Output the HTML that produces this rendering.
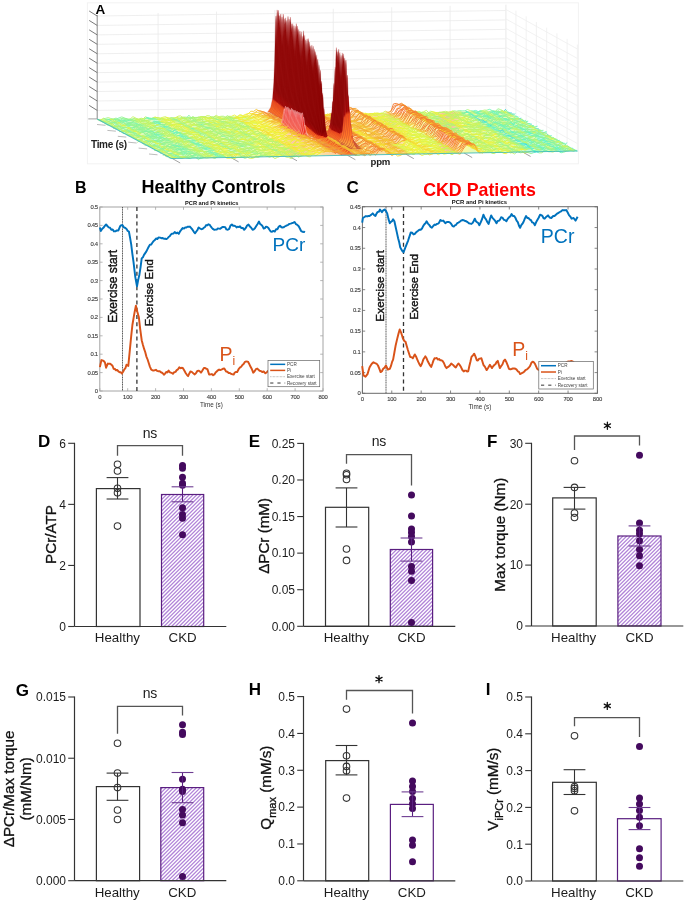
<!DOCTYPE html>
<html><head><meta charset="utf-8"><style>
html,body{margin:0;padding:0;background:#fff;}
svg{display:block;font-family:"Liberation Sans", sans-serif;will-change:transform;}
</style></head><body>
<svg width="685" height="901" viewBox="0 0 685 901">
<defs>
<pattern id="hatch" patternUnits="userSpaceOnUse" width="2.69" height="2.69" patternTransform="rotate(45)">
<rect width="2.69" height="2.69" fill="#ffffff"/>
<rect x="0" y="0" width="1.3" height="2.69" fill="#ac7cd4"/>
</pattern>
</defs>
<rect width="685" height="901" fill="#fff"/>
<rect x="87.4" y="2.8" width="491" height="161" fill="none" stroke="#f2f2f2" stroke-width="1"/>
<line x1="97.2" y1="16.00" x2="506" y2="10.50" stroke="#ebebeb" stroke-width="0.8"/>
<line x1="97.2" y1="25.44" x2="506" y2="19.95" stroke="#ebebeb" stroke-width="0.8"/>
<line x1="97.2" y1="34.88" x2="506" y2="29.40" stroke="#ebebeb" stroke-width="0.8"/>
<line x1="97.2" y1="44.32" x2="506" y2="38.85" stroke="#ebebeb" stroke-width="0.8"/>
<line x1="97.2" y1="53.76" x2="506" y2="48.30" stroke="#ebebeb" stroke-width="0.8"/>
<line x1="97.2" y1="63.20" x2="506" y2="57.75" stroke="#ebebeb" stroke-width="0.8"/>
<line x1="97.2" y1="72.64" x2="506" y2="67.20" stroke="#ebebeb" stroke-width="0.8"/>
<line x1="97.2" y1="82.08" x2="506" y2="76.65" stroke="#ebebeb" stroke-width="0.8"/>
<line x1="97.2" y1="91.52" x2="506" y2="86.10" stroke="#ebebeb" stroke-width="0.8"/>
<line x1="97.2" y1="100.96" x2="506" y2="95.55" stroke="#ebebeb" stroke-width="0.8"/>
<line x1="97.2" y1="110.40" x2="506" y2="105.00" stroke="#ebebeb" stroke-width="0.8"/>
<line x1="158.10" y1="13.01" x2="158.10" y2="117.63" stroke="#ebebeb" stroke-width="0.8"/>
<line x1="216.50" y1="11.58" x2="216.50" y2="116.42" stroke="#ebebeb" stroke-width="0.8"/>
<line x1="274.90" y1="10.15" x2="274.90" y2="115.20" stroke="#ebebeb" stroke-width="0.8"/>
<line x1="333.30" y1="8.72" x2="333.30" y2="113.99" stroke="#ebebeb" stroke-width="0.8"/>
<line x1="391.70" y1="7.28" x2="391.70" y2="112.77" stroke="#ebebeb" stroke-width="0.8"/>
<line x1="450.10" y1="5.85" x2="450.10" y2="111.56" stroke="#ebebeb" stroke-width="0.8"/>
<line x1="506.00" y1="4.48" x2="506.00" y2="110.40" stroke="#ebebeb" stroke-width="0.8"/>
<line x1="505.70" y1="5.00" x2="505.70" y2="110.40" stroke="#efefef" stroke-width="0.8"/>
<line x1="515.94" y1="10.65" x2="515.94" y2="116.22" stroke="#efefef" stroke-width="0.8"/>
<line x1="526.18" y1="16.30" x2="526.18" y2="122.03" stroke="#efefef" stroke-width="0.8"/>
<line x1="536.42" y1="21.96" x2="536.42" y2="127.85" stroke="#efefef" stroke-width="0.8"/>
<line x1="546.66" y1="27.61" x2="546.66" y2="133.67" stroke="#efefef" stroke-width="0.8"/>
<line x1="556.90" y1="33.26" x2="556.90" y2="139.48" stroke="#efefef" stroke-width="0.8"/>
<line x1="567.14" y1="38.91" x2="567.14" y2="145.30" stroke="#efefef" stroke-width="0.8"/>
<line x1="577.38" y1="44.57" x2="577.38" y2="151.11" stroke="#efefef" stroke-width="0.8"/>
<line x1="505.7" y1="9.40" x2="577.4" y2="49.00" stroke="#efefef" stroke-width="0.8"/>
<line x1="505.7" y1="18.85" x2="577.4" y2="58.45" stroke="#efefef" stroke-width="0.8"/>
<line x1="505.7" y1="28.30" x2="577.4" y2="67.90" stroke="#efefef" stroke-width="0.8"/>
<line x1="505.7" y1="37.75" x2="577.4" y2="77.35" stroke="#efefef" stroke-width="0.8"/>
<line x1="505.7" y1="47.20" x2="577.4" y2="86.80" stroke="#efefef" stroke-width="0.8"/>
<line x1="505.7" y1="56.65" x2="577.4" y2="96.25" stroke="#efefef" stroke-width="0.8"/>
<line x1="505.7" y1="66.10" x2="577.4" y2="105.70" stroke="#efefef" stroke-width="0.8"/>
<line x1="505.7" y1="75.55" x2="577.4" y2="115.15" stroke="#efefef" stroke-width="0.8"/>
<line x1="505.7" y1="85.00" x2="577.4" y2="124.60" stroke="#efefef" stroke-width="0.8"/>
<line x1="505.7" y1="94.45" x2="577.4" y2="134.05" stroke="#efefef" stroke-width="0.8"/>
<line x1="505.7" y1="103.90" x2="577.4" y2="143.50" stroke="#efefef" stroke-width="0.8"/>
<line x1="97.2" y1="15" x2="97.2" y2="118.9" stroke="#8a8a8a" stroke-width="1"/>
<line x1="89.2" y1="11.00" x2="97.2" y2="16.00" stroke="#6a6a6a" stroke-width="0.9"/>
<line x1="89.2" y1="20.44" x2="97.2" y2="25.44" stroke="#6a6a6a" stroke-width="0.9"/>
<line x1="89.2" y1="29.88" x2="97.2" y2="34.88" stroke="#6a6a6a" stroke-width="0.9"/>
<line x1="89.2" y1="39.32" x2="97.2" y2="44.32" stroke="#6a6a6a" stroke-width="0.9"/>
<line x1="89.2" y1="48.76" x2="97.2" y2="53.76" stroke="#6a6a6a" stroke-width="0.9"/>
<line x1="89.2" y1="58.20" x2="97.2" y2="63.20" stroke="#6a6a6a" stroke-width="0.9"/>
<line x1="89.2" y1="67.64" x2="97.2" y2="72.64" stroke="#6a6a6a" stroke-width="0.9"/>
<line x1="89.2" y1="77.08" x2="97.2" y2="82.08" stroke="#6a6a6a" stroke-width="0.9"/>
<line x1="89.2" y1="86.52" x2="97.2" y2="91.52" stroke="#6a6a6a" stroke-width="0.9"/>
<line x1="89.2" y1="95.96" x2="97.2" y2="100.96" stroke="#6a6a6a" stroke-width="0.9"/>
<line x1="89.2" y1="105.40" x2="97.2" y2="110.40" stroke="#6a6a6a" stroke-width="0.9"/>
<line x1="88.3" y1="118.9" x2="97.2" y2="118.9" stroke="#999" stroke-width="0.9"/>
<line x1="97.00" y1="124.50" x2="105.50" y2="125.30" stroke="#b4b4b4" stroke-width="0.9"/>
<line x1="107.40" y1="130.40" x2="115.90" y2="131.20" stroke="#b4b4b4" stroke-width="0.9"/>
<line x1="117.80" y1="136.30" x2="126.30" y2="137.10" stroke="#b4b4b4" stroke-width="0.9"/>
<line x1="128.20" y1="142.20" x2="136.70" y2="143.00" stroke="#b4b4b4" stroke-width="0.9"/>
<line x1="138.60" y1="148.10" x2="147.10" y2="148.90" stroke="#b4b4b4" stroke-width="0.9"/>
<line x1="149.00" y1="154.00" x2="157.50" y2="154.80" stroke="#b4b4b4" stroke-width="0.9"/>
<line x1="172.20" y1="158.48" x2="180.20" y2="162.98" stroke="#999" stroke-width="0.9"/>
<line x1="230.60" y1="157.40" x2="238.60" y2="161.90" stroke="#999" stroke-width="0.9"/>
<line x1="289.00" y1="156.32" x2="297.00" y2="160.82" stroke="#999" stroke-width="0.9"/>
<line x1="347.40" y1="155.24" x2="355.40" y2="159.74" stroke="#999" stroke-width="0.9"/>
<line x1="405.80" y1="154.16" x2="413.80" y2="158.66" stroke="#999" stroke-width="0.9"/>
<line x1="464.20" y1="153.08" x2="472.20" y2="157.58" stroke="#999" stroke-width="0.9"/>
<line x1="522.60" y1="152.00" x2="530.60" y2="156.50" stroke="#999" stroke-width="0.9"/>
<defs><linearGradient id="fl0" x1="0" y1="0" x2="1" y2="0"><stop offset="0.000" stop-color="#a6f47e"/><stop offset="0.010" stop-color="#cdf457"/><stop offset="0.020" stop-color="#85f4a0"/><stop offset="0.030" stop-color="#c4f461"/><stop offset="0.040" stop-color="#73f4b2"/><stop offset="0.050" stop-color="#76f4af"/><stop offset="0.060" stop-color="#92f493"/><stop offset="0.070" stop-color="#93f492"/><stop offset="0.080" stop-color="#bcf469"/><stop offset="0.090" stop-color="#c6f45f"/><stop offset="0.100" stop-color="#acf479"/><stop offset="0.110" stop-color="#c9f45b"/><stop offset="0.120" stop-color="#76f4af"/><stop offset="0.130" stop-color="#77f4ae"/><stop offset="0.140" stop-color="#d8f44d"/><stop offset="0.150" stop-color="#dcf449"/><stop offset="0.160" stop-color="#def447"/><stop offset="0.170" stop-color="#c0f464"/><stop offset="0.180" stop-color="#8ff496"/><stop offset="0.190" stop-color="#d5f44f"/><stop offset="0.200" stop-color="#b7f46e"/><stop offset="0.210" stop-color="#abf479"/><stop offset="0.220" stop-color="#a3f482"/><stop offset="0.230" stop-color="#ccf458"/><stop offset="0.240" stop-color="#bff465"/><stop offset="0.250" stop-color="#dff445"/><stop offset="0.260" stop-color="#d3f452"/><stop offset="0.270" stop-color="#cbf45a"/><stop offset="0.280" stop-color="#8ef496"/><stop offset="0.290" stop-color="#c2f462"/><stop offset="0.300" stop-color="#bdf468"/><stop offset="0.310" stop-color="#a4f481"/><stop offset="0.320" stop-color="#b7f46e"/><stop offset="0.330" stop-color="#e9f43c"/><stop offset="0.340" stop-color="#f2f433"/><stop offset="0.350" stop-color="#d7f44d"/><stop offset="0.360" stop-color="#f4ec30"/><stop offset="0.370" stop-color="#f4d730"/><stop offset="0.380" stop-color="#f4cb30"/><stop offset="0.390" stop-color="#f4c430"/><stop offset="0.400" stop-color="#f49c30"/><stop offset="0.410" stop-color="#f48930"/><stop offset="0.420" stop-color="#f49f30"/><stop offset="0.430" stop-color="#f48b30"/><stop offset="0.440" stop-color="#f4b530"/><stop offset="0.450" stop-color="#f4b930"/><stop offset="0.460" stop-color="#f4d930"/><stop offset="0.470" stop-color="#f4b330"/><stop offset="0.480" stop-color="#f4a630"/><stop offset="0.490" stop-color="#f49b30"/><stop offset="0.500" stop-color="#f4a330"/><stop offset="0.510" stop-color="#f48830"/><stop offset="0.520" stop-color="#f48b30"/><stop offset="0.530" stop-color="#f4c030"/><stop offset="0.540" stop-color="#f4a530"/><stop offset="0.550" stop-color="#f4d630"/><stop offset="0.560" stop-color="#f4ea30"/><stop offset="0.570" stop-color="#f4c930"/><stop offset="0.580" stop-color="#f4a430"/><stop offset="0.590" stop-color="#f4b830"/><stop offset="0.600" stop-color="#f4b630"/><stop offset="0.610" stop-color="#f49230"/><stop offset="0.620" stop-color="#f4a430"/><stop offset="0.630" stop-color="#f4ba30"/><stop offset="0.640" stop-color="#f4cc30"/><stop offset="0.650" stop-color="#f4ed30"/><stop offset="0.660" stop-color="#f0f435"/><stop offset="0.670" stop-color="#e5f440"/><stop offset="0.680" stop-color="#e5f440"/><stop offset="0.690" stop-color="#daf44b"/><stop offset="0.700" stop-color="#cdf457"/><stop offset="0.710" stop-color="#f4bf30"/><stop offset="0.720" stop-color="#f47730"/><stop offset="0.730" stop-color="#f47730"/><stop offset="0.740" stop-color="#f47a30"/><stop offset="0.750" stop-color="#f4ad30"/><stop offset="0.760" stop-color="#edf438"/><stop offset="0.770" stop-color="#eff435"/><stop offset="0.780" stop-color="#c6f45f"/><stop offset="0.790" stop-color="#baf46b"/><stop offset="0.800" stop-color="#d5f450"/><stop offset="0.810" stop-color="#aff476"/><stop offset="0.820" stop-color="#eaf43a"/><stop offset="0.830" stop-color="#dbf44a"/><stop offset="0.840" stop-color="#b8f46c"/><stop offset="0.850" stop-color="#c2f463"/><stop offset="0.860" stop-color="#c3f462"/><stop offset="0.870" stop-color="#b7f46d"/><stop offset="0.880" stop-color="#98f48d"/><stop offset="0.890" stop-color="#80f4a5"/><stop offset="0.900" stop-color="#6bf4b9"/><stop offset="0.910" stop-color="#d4f451"/><stop offset="0.920" stop-color="#58f4cd"/><stop offset="0.930" stop-color="#6af4bb"/><stop offset="0.940" stop-color="#c6f45f"/><stop offset="0.950" stop-color="#b6f46e"/><stop offset="0.960" stop-color="#5df4c7"/><stop offset="0.970" stop-color="#83f4a2"/><stop offset="0.980" stop-color="#97f48e"/><stop offset="0.990" stop-color="#baf46b"/><stop offset="1.000" stop-color="#30cbf4"/></linearGradient><linearGradient id="fl1" x1="0" y1="0" x2="1" y2="0"><stop offset="0.000" stop-color="#a1f484"/><stop offset="0.010" stop-color="#c4f460"/><stop offset="0.020" stop-color="#7ef4a7"/><stop offset="0.030" stop-color="#e7f43e"/><stop offset="0.040" stop-color="#92f493"/><stop offset="0.050" stop-color="#90f495"/><stop offset="0.060" stop-color="#8ff496"/><stop offset="0.070" stop-color="#6ef4b7"/><stop offset="0.080" stop-color="#7ef4a7"/><stop offset="0.090" stop-color="#bef467"/><stop offset="0.100" stop-color="#bbf46a"/><stop offset="0.110" stop-color="#b1f474"/><stop offset="0.120" stop-color="#49f4db"/><stop offset="0.130" stop-color="#7af4ab"/><stop offset="0.140" stop-color="#cef457"/><stop offset="0.150" stop-color="#b8f46d"/><stop offset="0.160" stop-color="#e7f43e"/><stop offset="0.170" stop-color="#bff466"/><stop offset="0.180" stop-color="#99f48c"/><stop offset="0.190" stop-color="#d7f44e"/><stop offset="0.200" stop-color="#bbf469"/><stop offset="0.210" stop-color="#bef466"/><stop offset="0.220" stop-color="#9cf489"/><stop offset="0.230" stop-color="#9ef487"/><stop offset="0.240" stop-color="#b1f474"/><stop offset="0.250" stop-color="#cdf458"/><stop offset="0.260" stop-color="#a2f482"/><stop offset="0.270" stop-color="#e1f444"/><stop offset="0.280" stop-color="#aef477"/><stop offset="0.290" stop-color="#c4f461"/><stop offset="0.300" stop-color="#e7f43d"/><stop offset="0.310" stop-color="#cef457"/><stop offset="0.320" stop-color="#b1f473"/><stop offset="0.330" stop-color="#f4e630"/><stop offset="0.340" stop-color="#f4d630"/><stop offset="0.350" stop-color="#eef437"/><stop offset="0.360" stop-color="#f4eb30"/><stop offset="0.370" stop-color="#f4ee30"/><stop offset="0.380" stop-color="#f4d530"/><stop offset="0.390" stop-color="#f4d930"/><stop offset="0.400" stop-color="#f4a330"/><stop offset="0.410" stop-color="#f48830"/><stop offset="0.420" stop-color="#f4a330"/><stop offset="0.430" stop-color="#f48830"/><stop offset="0.440" stop-color="#f4c830"/><stop offset="0.450" stop-color="#f4b330"/><stop offset="0.460" stop-color="#f4ca30"/><stop offset="0.470" stop-color="#f4af30"/><stop offset="0.480" stop-color="#f4a930"/><stop offset="0.490" stop-color="#f49e30"/><stop offset="0.500" stop-color="#f4a230"/><stop offset="0.510" stop-color="#f47e30"/><stop offset="0.520" stop-color="#f47b30"/><stop offset="0.530" stop-color="#f4c130"/><stop offset="0.540" stop-color="#f4ac30"/><stop offset="0.550" stop-color="#f4f431"/><stop offset="0.560" stop-color="#f4de30"/><stop offset="0.570" stop-color="#f4c030"/><stop offset="0.580" stop-color="#f4a330"/><stop offset="0.590" stop-color="#f4cb30"/><stop offset="0.600" stop-color="#f4b130"/><stop offset="0.610" stop-color="#f48d30"/><stop offset="0.620" stop-color="#f48b30"/><stop offset="0.630" stop-color="#f4b430"/><stop offset="0.640" stop-color="#f4e030"/><stop offset="0.650" stop-color="#f4e630"/><stop offset="0.660" stop-color="#e0f445"/><stop offset="0.670" stop-color="#f4f430"/><stop offset="0.680" stop-color="#ecf439"/><stop offset="0.690" stop-color="#d4f451"/><stop offset="0.700" stop-color="#cdf458"/><stop offset="0.710" stop-color="#f4c130"/><stop offset="0.720" stop-color="#f47030"/><stop offset="0.730" stop-color="#f48730"/><stop offset="0.740" stop-color="#f48d30"/><stop offset="0.750" stop-color="#f4a830"/><stop offset="0.760" stop-color="#f4e630"/><stop offset="0.770" stop-color="#f4ec30"/><stop offset="0.780" stop-color="#b2f473"/><stop offset="0.790" stop-color="#aff476"/><stop offset="0.800" stop-color="#a1f484"/><stop offset="0.810" stop-color="#a0f485"/><stop offset="0.820" stop-color="#f4e430"/><stop offset="0.830" stop-color="#adf478"/><stop offset="0.840" stop-color="#c1f464"/><stop offset="0.850" stop-color="#bef467"/><stop offset="0.860" stop-color="#c6f45e"/><stop offset="0.870" stop-color="#a2f482"/><stop offset="0.880" stop-color="#d3f452"/><stop offset="0.890" stop-color="#66f4bf"/><stop offset="0.900" stop-color="#67f4be"/><stop offset="0.910" stop-color="#b1f474"/><stop offset="0.920" stop-color="#71f4b4"/><stop offset="0.930" stop-color="#6ef4b7"/><stop offset="0.940" stop-color="#bff466"/><stop offset="0.950" stop-color="#b6f46f"/><stop offset="0.960" stop-color="#61f4c3"/><stop offset="0.970" stop-color="#8ff495"/><stop offset="0.980" stop-color="#aef477"/><stop offset="0.990" stop-color="#dbf44a"/><stop offset="1.000" stop-color="#48f4dd"/></linearGradient><linearGradient id="fl2" x1="0" y1="0" x2="1" y2="0"><stop offset="0.000" stop-color="#aff476"/><stop offset="0.010" stop-color="#cef457"/><stop offset="0.020" stop-color="#6df4b8"/><stop offset="0.030" stop-color="#e1f444"/><stop offset="0.040" stop-color="#aaf47a"/><stop offset="0.050" stop-color="#8df497"/><stop offset="0.060" stop-color="#9ef487"/><stop offset="0.070" stop-color="#81f4a4"/><stop offset="0.080" stop-color="#a7f47e"/><stop offset="0.090" stop-color="#cef457"/><stop offset="0.100" stop-color="#a6f47e"/><stop offset="0.110" stop-color="#b6f46e"/><stop offset="0.120" stop-color="#91f494"/><stop offset="0.130" stop-color="#6af4ba"/><stop offset="0.140" stop-color="#eaf43a"/><stop offset="0.150" stop-color="#b5f46f"/><stop offset="0.160" stop-color="#f3f432"/><stop offset="0.170" stop-color="#c0f465"/><stop offset="0.180" stop-color="#86f49f"/><stop offset="0.190" stop-color="#d0f454"/><stop offset="0.200" stop-color="#bbf469"/><stop offset="0.210" stop-color="#caf45b"/><stop offset="0.220" stop-color="#aaf47b"/><stop offset="0.230" stop-color="#c5f460"/><stop offset="0.240" stop-color="#b7f46e"/><stop offset="0.250" stop-color="#eff436"/><stop offset="0.260" stop-color="#d0f455"/><stop offset="0.270" stop-color="#f1f434"/><stop offset="0.280" stop-color="#96f48f"/><stop offset="0.290" stop-color="#d9f44c"/><stop offset="0.300" stop-color="#dbf44a"/><stop offset="0.310" stop-color="#b5f470"/><stop offset="0.320" stop-color="#c1f464"/><stop offset="0.330" stop-color="#f4e330"/><stop offset="0.340" stop-color="#f4f431"/><stop offset="0.350" stop-color="#f4f030"/><stop offset="0.360" stop-color="#f4db30"/><stop offset="0.370" stop-color="#f4e530"/><stop offset="0.380" stop-color="#f4c830"/><stop offset="0.390" stop-color="#f4ce30"/><stop offset="0.400" stop-color="#f4a430"/><stop offset="0.410" stop-color="#f47130"/><stop offset="0.420" stop-color="#f48830"/><stop offset="0.430" stop-color="#f49330"/><stop offset="0.440" stop-color="#f4cc30"/><stop offset="0.450" stop-color="#f4b530"/><stop offset="0.460" stop-color="#f4d230"/><stop offset="0.470" stop-color="#f4ab30"/><stop offset="0.480" stop-color="#f49a30"/><stop offset="0.490" stop-color="#f4ae30"/><stop offset="0.500" stop-color="#f49930"/><stop offset="0.510" stop-color="#f47830"/><stop offset="0.520" stop-color="#f47530"/><stop offset="0.530" stop-color="#f4b730"/><stop offset="0.540" stop-color="#f49130"/><stop offset="0.550" stop-color="#f4cd30"/><stop offset="0.560" stop-color="#f4e130"/><stop offset="0.570" stop-color="#f4be30"/><stop offset="0.580" stop-color="#f4ad30"/><stop offset="0.590" stop-color="#f4b930"/><stop offset="0.600" stop-color="#f49e30"/><stop offset="0.610" stop-color="#f49530"/><stop offset="0.620" stop-color="#f48530"/><stop offset="0.630" stop-color="#f4b530"/><stop offset="0.640" stop-color="#f4ce30"/><stop offset="0.650" stop-color="#f4de30"/><stop offset="0.660" stop-color="#def447"/><stop offset="0.670" stop-color="#caf45b"/><stop offset="0.680" stop-color="#e5f440"/><stop offset="0.690" stop-color="#ddf448"/><stop offset="0.700" stop-color="#d8f44d"/><stop offset="0.710" stop-color="#f4d330"/><stop offset="0.720" stop-color="#f48330"/><stop offset="0.730" stop-color="#f46630"/><stop offset="0.740" stop-color="#f47f30"/><stop offset="0.750" stop-color="#f4a130"/><stop offset="0.760" stop-color="#f4eb30"/><stop offset="0.770" stop-color="#f4e630"/><stop offset="0.780" stop-color="#d8f44d"/><stop offset="0.790" stop-color="#c7f45d"/><stop offset="0.800" stop-color="#c2f463"/><stop offset="0.810" stop-color="#a5f480"/><stop offset="0.820" stop-color="#daf44b"/><stop offset="0.830" stop-color="#d6f44e"/><stop offset="0.840" stop-color="#dff445"/><stop offset="0.850" stop-color="#99f48b"/><stop offset="0.860" stop-color="#c4f460"/><stop offset="0.870" stop-color="#f4f030"/><stop offset="0.880" stop-color="#b0f474"/><stop offset="0.890" stop-color="#9ef486"/><stop offset="0.900" stop-color="#3cf4e9"/><stop offset="0.910" stop-color="#a3f482"/><stop offset="0.920" stop-color="#84f4a1"/><stop offset="0.930" stop-color="#64f4c1"/><stop offset="0.940" stop-color="#8cf499"/><stop offset="0.950" stop-color="#88f49d"/><stop offset="0.960" stop-color="#4af4db"/><stop offset="0.970" stop-color="#b9f46b"/><stop offset="0.980" stop-color="#7ef4a7"/><stop offset="0.990" stop-color="#c8f45d"/><stop offset="1.000" stop-color="#52f4d3"/></linearGradient><linearGradient id="fl3" x1="0" y1="0" x2="1" y2="0"><stop offset="0.000" stop-color="#b2f473"/><stop offset="0.010" stop-color="#caf45a"/><stop offset="0.020" stop-color="#8af49b"/><stop offset="0.030" stop-color="#ecf439"/><stop offset="0.040" stop-color="#7bf4a9"/><stop offset="0.050" stop-color="#9df488"/><stop offset="0.060" stop-color="#96f48e"/><stop offset="0.070" stop-color="#96f48f"/><stop offset="0.080" stop-color="#a1f483"/><stop offset="0.090" stop-color="#cdf458"/><stop offset="0.100" stop-color="#d8f44d"/><stop offset="0.110" stop-color="#d7f44e"/><stop offset="0.120" stop-color="#93f492"/><stop offset="0.130" stop-color="#8bf499"/><stop offset="0.140" stop-color="#e7f43e"/><stop offset="0.150" stop-color="#d6f44e"/><stop offset="0.160" stop-color="#dbf44a"/><stop offset="0.170" stop-color="#f4f230"/><stop offset="0.180" stop-color="#94f491"/><stop offset="0.190" stop-color="#dcf449"/><stop offset="0.200" stop-color="#c7f45e"/><stop offset="0.210" stop-color="#c2f463"/><stop offset="0.220" stop-color="#7af4ab"/><stop offset="0.230" stop-color="#baf46a"/><stop offset="0.240" stop-color="#9ff485"/><stop offset="0.250" stop-color="#c4f460"/><stop offset="0.260" stop-color="#a1f484"/><stop offset="0.270" stop-color="#d0f455"/><stop offset="0.280" stop-color="#b1f474"/><stop offset="0.290" stop-color="#c6f45f"/><stop offset="0.300" stop-color="#cff456"/><stop offset="0.310" stop-color="#b1f474"/><stop offset="0.320" stop-color="#a5f480"/><stop offset="0.330" stop-color="#f1f434"/><stop offset="0.340" stop-color="#e7f43e"/><stop offset="0.350" stop-color="#eef437"/><stop offset="0.360" stop-color="#edf438"/><stop offset="0.370" stop-color="#f4ee30"/><stop offset="0.380" stop-color="#f4b830"/><stop offset="0.390" stop-color="#f4b830"/><stop offset="0.400" stop-color="#f49730"/><stop offset="0.410" stop-color="#f47d30"/><stop offset="0.420" stop-color="#f4b330"/><stop offset="0.430" stop-color="#f48230"/><stop offset="0.440" stop-color="#f4b830"/><stop offset="0.450" stop-color="#f4ad30"/><stop offset="0.460" stop-color="#f4d630"/><stop offset="0.470" stop-color="#f4a130"/><stop offset="0.480" stop-color="#f48c30"/><stop offset="0.490" stop-color="#f49830"/><stop offset="0.500" stop-color="#f4a330"/><stop offset="0.510" stop-color="#f47c30"/><stop offset="0.520" stop-color="#f48830"/><stop offset="0.530" stop-color="#f4cc30"/><stop offset="0.540" stop-color="#f49330"/><stop offset="0.550" stop-color="#f4e530"/><stop offset="0.560" stop-color="#f4da30"/><stop offset="0.570" stop-color="#f4bd30"/><stop offset="0.580" stop-color="#f4ba30"/><stop offset="0.590" stop-color="#f4cb30"/><stop offset="0.600" stop-color="#f4a530"/><stop offset="0.610" stop-color="#f49830"/><stop offset="0.620" stop-color="#f49430"/><stop offset="0.630" stop-color="#f4dd30"/><stop offset="0.640" stop-color="#f4c330"/><stop offset="0.650" stop-color="#f4e530"/><stop offset="0.660" stop-color="#f4e830"/><stop offset="0.670" stop-color="#caf45b"/><stop offset="0.680" stop-color="#d0f454"/><stop offset="0.690" stop-color="#ebf43a"/><stop offset="0.700" stop-color="#d7f44e"/><stop offset="0.710" stop-color="#f4c130"/><stop offset="0.720" stop-color="#f47b30"/><stop offset="0.730" stop-color="#f47b30"/><stop offset="0.740" stop-color="#f48230"/><stop offset="0.750" stop-color="#f4b630"/><stop offset="0.760" stop-color="#f4e930"/><stop offset="0.770" stop-color="#f4dd30"/><stop offset="0.780" stop-color="#c6f45f"/><stop offset="0.790" stop-color="#aef476"/><stop offset="0.800" stop-color="#cbf459"/><stop offset="0.810" stop-color="#b4f471"/><stop offset="0.820" stop-color="#e9f43c"/><stop offset="0.830" stop-color="#d9f44c"/><stop offset="0.840" stop-color="#ddf448"/><stop offset="0.850" stop-color="#bdf468"/><stop offset="0.860" stop-color="#f0f435"/><stop offset="0.870" stop-color="#d0f454"/><stop offset="0.880" stop-color="#bdf467"/><stop offset="0.890" stop-color="#a5f47f"/><stop offset="0.900" stop-color="#30d6f4"/><stop offset="0.910" stop-color="#c4f461"/><stop offset="0.920" stop-color="#8ff495"/><stop offset="0.930" stop-color="#6bf4ba"/><stop offset="0.940" stop-color="#aaf47b"/><stop offset="0.950" stop-color="#b6f46f"/><stop offset="0.960" stop-color="#75f4b0"/><stop offset="0.970" stop-color="#91f493"/><stop offset="0.980" stop-color="#80f4a5"/><stop offset="0.990" stop-color="#c3f462"/><stop offset="1.000" stop-color="#6af4bb"/></linearGradient><linearGradient id="fl4" x1="0" y1="0" x2="1" y2="0"><stop offset="0.000" stop-color="#c1f463"/><stop offset="0.010" stop-color="#d1f454"/><stop offset="0.020" stop-color="#5cf4c8"/><stop offset="0.030" stop-color="#c2f463"/><stop offset="0.040" stop-color="#9ef487"/><stop offset="0.050" stop-color="#88f49d"/><stop offset="0.060" stop-color="#92f493"/><stop offset="0.070" stop-color="#73f4b1"/><stop offset="0.080" stop-color="#9ef487"/><stop offset="0.090" stop-color="#c9f45c"/><stop offset="0.100" stop-color="#9ef487"/><stop offset="0.110" stop-color="#e1f444"/><stop offset="0.120" stop-color="#80f4a5"/><stop offset="0.130" stop-color="#83f4a2"/><stop offset="0.140" stop-color="#c3f462"/><stop offset="0.150" stop-color="#b6f46e"/><stop offset="0.160" stop-color="#f4eb30"/><stop offset="0.170" stop-color="#e0f445"/><stop offset="0.180" stop-color="#69f4bc"/><stop offset="0.190" stop-color="#eaf43b"/><stop offset="0.200" stop-color="#d1f454"/><stop offset="0.210" stop-color="#c4f460"/><stop offset="0.220" stop-color="#8bf49a"/><stop offset="0.230" stop-color="#bbf46a"/><stop offset="0.240" stop-color="#aaf47a"/><stop offset="0.250" stop-color="#def447"/><stop offset="0.260" stop-color="#ddf447"/><stop offset="0.270" stop-color="#f4f230"/><stop offset="0.280" stop-color="#b8f46c"/><stop offset="0.290" stop-color="#c9f45b"/><stop offset="0.300" stop-color="#c0f465"/><stop offset="0.310" stop-color="#b4f471"/><stop offset="0.320" stop-color="#c6f45f"/><stop offset="0.330" stop-color="#f4d830"/><stop offset="0.340" stop-color="#f4f130"/><stop offset="0.350" stop-color="#f4f330"/><stop offset="0.360" stop-color="#f4e430"/><stop offset="0.370" stop-color="#eaf43b"/><stop offset="0.380" stop-color="#f4c230"/><stop offset="0.390" stop-color="#f4c330"/><stop offset="0.400" stop-color="#f4aa30"/><stop offset="0.410" stop-color="#f48530"/><stop offset="0.420" stop-color="#f4bd30"/><stop offset="0.430" stop-color="#f48d30"/><stop offset="0.440" stop-color="#f4ac30"/><stop offset="0.450" stop-color="#f4b030"/><stop offset="0.460" stop-color="#f4bf30"/><stop offset="0.470" stop-color="#f4a030"/><stop offset="0.480" stop-color="#f4a830"/><stop offset="0.490" stop-color="#f49f30"/><stop offset="0.500" stop-color="#f4aa30"/><stop offset="0.510" stop-color="#f45c30"/><stop offset="0.520" stop-color="#f48530"/><stop offset="0.530" stop-color="#f4dc30"/><stop offset="0.540" stop-color="#f4b130"/><stop offset="0.550" stop-color="#f4d630"/><stop offset="0.560" stop-color="#f4d230"/><stop offset="0.570" stop-color="#f4bc30"/><stop offset="0.580" stop-color="#f4c030"/><stop offset="0.590" stop-color="#f4c530"/><stop offset="0.600" stop-color="#f4ba30"/><stop offset="0.610" stop-color="#f48230"/><stop offset="0.620" stop-color="#f4a130"/><stop offset="0.630" stop-color="#f4ac30"/><stop offset="0.640" stop-color="#f4cb30"/><stop offset="0.650" stop-color="#f4e730"/><stop offset="0.660" stop-color="#f4ec30"/><stop offset="0.670" stop-color="#cff456"/><stop offset="0.680" stop-color="#dcf449"/><stop offset="0.690" stop-color="#d4f450"/><stop offset="0.700" stop-color="#e3f442"/><stop offset="0.710" stop-color="#f4b630"/><stop offset="0.720" stop-color="#f47830"/><stop offset="0.730" stop-color="#f49330"/><stop offset="0.740" stop-color="#f48f30"/><stop offset="0.750" stop-color="#f4b730"/><stop offset="0.760" stop-color="#f4d430"/><stop offset="0.770" stop-color="#f1f434"/><stop offset="0.780" stop-color="#cdf458"/><stop offset="0.790" stop-color="#dcf449"/><stop offset="0.800" stop-color="#c9f45c"/><stop offset="0.810" stop-color="#aef477"/><stop offset="0.820" stop-color="#e5f43f"/><stop offset="0.830" stop-color="#dff446"/><stop offset="0.840" stop-color="#d3f452"/><stop offset="0.850" stop-color="#a8f47c"/><stop offset="0.860" stop-color="#cdf458"/><stop offset="0.870" stop-color="#caf45a"/><stop offset="0.880" stop-color="#e6f43f"/><stop offset="0.890" stop-color="#7bf4aa"/><stop offset="0.900" stop-color="#4bf4da"/><stop offset="0.910" stop-color="#b9f46c"/><stop offset="0.920" stop-color="#4af4db"/><stop offset="0.930" stop-color="#87f49d"/><stop offset="0.940" stop-color="#c6f45e"/><stop offset="0.950" stop-color="#84f4a1"/><stop offset="0.960" stop-color="#43f4e2"/><stop offset="0.970" stop-color="#6bf4ba"/><stop offset="0.980" stop-color="#94f490"/><stop offset="0.990" stop-color="#f1f433"/><stop offset="1.000" stop-color="#62f4c3"/></linearGradient><linearGradient id="fl5" x1="0" y1="0" x2="1" y2="0"><stop offset="0.000" stop-color="#98f48d"/><stop offset="0.010" stop-color="#b4f471"/><stop offset="0.020" stop-color="#77f4ae"/><stop offset="0.030" stop-color="#f2f433"/><stop offset="0.040" stop-color="#a4f481"/><stop offset="0.050" stop-color="#9ff486"/><stop offset="0.060" stop-color="#77f4ae"/><stop offset="0.070" stop-color="#84f4a1"/><stop offset="0.080" stop-color="#a7f47d"/><stop offset="0.090" stop-color="#b9f46b"/><stop offset="0.100" stop-color="#b5f46f"/><stop offset="0.110" stop-color="#c6f45e"/><stop offset="0.120" stop-color="#6cf4b9"/><stop offset="0.130" stop-color="#6af4bb"/><stop offset="0.140" stop-color="#e4f441"/><stop offset="0.150" stop-color="#cbf45a"/><stop offset="0.160" stop-color="#ddf448"/><stop offset="0.170" stop-color="#d9f44c"/><stop offset="0.180" stop-color="#87f49d"/><stop offset="0.190" stop-color="#e1f444"/><stop offset="0.200" stop-color="#c5f460"/><stop offset="0.210" stop-color="#b5f46f"/><stop offset="0.220" stop-color="#90f495"/><stop offset="0.230" stop-color="#baf46b"/><stop offset="0.240" stop-color="#b3f472"/><stop offset="0.250" stop-color="#f3f431"/><stop offset="0.260" stop-color="#bef466"/><stop offset="0.270" stop-color="#d6f44f"/><stop offset="0.280" stop-color="#c9f45b"/><stop offset="0.290" stop-color="#adf478"/><stop offset="0.300" stop-color="#ecf439"/><stop offset="0.310" stop-color="#a6f47f"/><stop offset="0.320" stop-color="#cbf45a"/><stop offset="0.330" stop-color="#f4f030"/><stop offset="0.340" stop-color="#f4e930"/><stop offset="0.350" stop-color="#f2f432"/><stop offset="0.360" stop-color="#f4e030"/><stop offset="0.370" stop-color="#f4e230"/><stop offset="0.380" stop-color="#f4cc30"/><stop offset="0.390" stop-color="#f4c130"/><stop offset="0.400" stop-color="#f4b330"/><stop offset="0.410" stop-color="#f48c30"/><stop offset="0.420" stop-color="#f4ac30"/><stop offset="0.430" stop-color="#f48f30"/><stop offset="0.440" stop-color="#f4ae30"/><stop offset="0.450" stop-color="#f4bb30"/><stop offset="0.460" stop-color="#f4d230"/><stop offset="0.470" stop-color="#f4b430"/><stop offset="0.480" stop-color="#f4a430"/><stop offset="0.490" stop-color="#f49b30"/><stop offset="0.500" stop-color="#f4aa30"/><stop offset="0.510" stop-color="#f48630"/><stop offset="0.520" stop-color="#f49030"/><stop offset="0.530" stop-color="#f4cd30"/><stop offset="0.540" stop-color="#f4b830"/><stop offset="0.550" stop-color="#f4e230"/><stop offset="0.560" stop-color="#f4ce30"/><stop offset="0.570" stop-color="#f4cc30"/><stop offset="0.580" stop-color="#f4b030"/><stop offset="0.590" stop-color="#f4ca30"/><stop offset="0.600" stop-color="#f49e30"/><stop offset="0.610" stop-color="#f48830"/><stop offset="0.620" stop-color="#f47530"/><stop offset="0.630" stop-color="#f4c830"/><stop offset="0.640" stop-color="#f4de30"/><stop offset="0.650" stop-color="#f4ea30"/><stop offset="0.660" stop-color="#dbf44a"/><stop offset="0.670" stop-color="#edf438"/><stop offset="0.680" stop-color="#eaf43b"/><stop offset="0.690" stop-color="#e5f440"/><stop offset="0.700" stop-color="#daf44b"/><stop offset="0.710" stop-color="#f4ca30"/><stop offset="0.720" stop-color="#f46c30"/><stop offset="0.730" stop-color="#f47530"/><stop offset="0.740" stop-color="#f47e30"/><stop offset="0.750" stop-color="#f4b830"/><stop offset="0.760" stop-color="#f4f230"/><stop offset="0.770" stop-color="#edf437"/><stop offset="0.780" stop-color="#bcf469"/><stop offset="0.790" stop-color="#92f492"/><stop offset="0.800" stop-color="#e1f443"/><stop offset="0.810" stop-color="#9bf48a"/><stop offset="0.820" stop-color="#f4e830"/><stop offset="0.830" stop-color="#f0f435"/><stop offset="0.840" stop-color="#f4f230"/><stop offset="0.850" stop-color="#b7f46e"/><stop offset="0.860" stop-color="#d5f450"/><stop offset="0.870" stop-color="#c1f464"/><stop offset="0.880" stop-color="#b9f46c"/><stop offset="0.890" stop-color="#b9f46c"/><stop offset="0.900" stop-color="#30dbf4"/><stop offset="0.910" stop-color="#aff476"/><stop offset="0.920" stop-color="#8cf499"/><stop offset="0.930" stop-color="#98f48d"/><stop offset="0.940" stop-color="#a4f480"/><stop offset="0.950" stop-color="#9cf489"/><stop offset="0.960" stop-color="#5af4cb"/><stop offset="0.970" stop-color="#e5f440"/><stop offset="0.980" stop-color="#77f4ae"/><stop offset="0.990" stop-color="#c6f45f"/><stop offset="1.000" stop-color="#56f4cf"/></linearGradient><linearGradient id="fg0" x1="0" y1="0" x2="1" y2="0"><stop offset="0.000" stop-color="#a2f482"/><stop offset="0.010" stop-color="#d7f44e"/><stop offset="0.020" stop-color="#76f4af"/><stop offset="0.030" stop-color="#d1f454"/><stop offset="0.040" stop-color="#aaf47b"/><stop offset="0.050" stop-color="#aaf47a"/><stop offset="0.060" stop-color="#91f494"/><stop offset="0.070" stop-color="#80f4a5"/><stop offset="0.080" stop-color="#95f490"/><stop offset="0.090" stop-color="#c5f460"/><stop offset="0.100" stop-color="#cbf45a"/><stop offset="0.110" stop-color="#bff466"/><stop offset="0.120" stop-color="#7cf4a8"/><stop offset="0.130" stop-color="#a7f47e"/><stop offset="0.140" stop-color="#cdf458"/><stop offset="0.150" stop-color="#b7f46e"/><stop offset="0.160" stop-color="#f2f432"/><stop offset="0.170" stop-color="#cff456"/><stop offset="0.180" stop-color="#9bf48a"/><stop offset="0.190" stop-color="#ecf439"/><stop offset="0.200" stop-color="#ccf459"/><stop offset="0.210" stop-color="#b8f46d"/><stop offset="0.220" stop-color="#a6f47e"/><stop offset="0.230" stop-color="#c0f465"/><stop offset="0.240" stop-color="#b4f471"/><stop offset="0.250" stop-color="#ccf459"/><stop offset="0.260" stop-color="#cbf459"/><stop offset="0.270" stop-color="#eaf43b"/><stop offset="0.280" stop-color="#96f48f"/><stop offset="0.290" stop-color="#daf44a"/><stop offset="0.300" stop-color="#c9f45c"/><stop offset="0.310" stop-color="#acf479"/><stop offset="0.320" stop-color="#c1f464"/><stop offset="0.330" stop-color="#f1f434"/><stop offset="0.340" stop-color="#f4f230"/><stop offset="0.350" stop-color="#e6f43f"/><stop offset="0.360" stop-color="#f4f230"/><stop offset="0.370" stop-color="#f4e430"/><stop offset="0.380" stop-color="#f4ae30"/><stop offset="0.390" stop-color="#f4d230"/><stop offset="0.400" stop-color="#f49530"/><stop offset="0.410" stop-color="#f47430"/><stop offset="0.420" stop-color="#f49230"/><stop offset="0.430" stop-color="#f49b30"/><stop offset="0.440" stop-color="#f4c630"/><stop offset="0.450" stop-color="#f49a30"/><stop offset="0.460" stop-color="#f4c630"/><stop offset="0.470" stop-color="#f4a530"/><stop offset="0.480" stop-color="#f49430"/><stop offset="0.490" stop-color="#f49930"/><stop offset="0.500" stop-color="#f4a630"/><stop offset="0.510" stop-color="#f48430"/><stop offset="0.520" stop-color="#f47f30"/><stop offset="0.530" stop-color="#f4ca30"/><stop offset="0.540" stop-color="#f4a630"/><stop offset="0.550" stop-color="#f4d830"/><stop offset="0.560" stop-color="#f4ce30"/><stop offset="0.570" stop-color="#f4c430"/><stop offset="0.580" stop-color="#f4b530"/><stop offset="0.590" stop-color="#edf438"/><stop offset="0.600" stop-color="#c9f45b"/><stop offset="0.610" stop-color="#f4ec30"/><stop offset="0.620" stop-color="#e2f443"/><stop offset="0.630" stop-color="#e2f443"/><stop offset="0.640" stop-color="#f4d430"/><stop offset="0.650" stop-color="#f4d530"/><stop offset="0.660" stop-color="#f4d530"/><stop offset="0.670" stop-color="#e8f43c"/><stop offset="0.680" stop-color="#ecf439"/><stop offset="0.690" stop-color="#c8f45c"/><stop offset="0.700" stop-color="#e3f442"/><stop offset="0.710" stop-color="#f4cb30"/><stop offset="0.720" stop-color="#f47930"/><stop offset="0.730" stop-color="#f46b30"/><stop offset="0.740" stop-color="#f47830"/><stop offset="0.750" stop-color="#f4a130"/><stop offset="0.760" stop-color="#f4d330"/><stop offset="0.770" stop-color="#f2f433"/><stop offset="0.780" stop-color="#b5f470"/><stop offset="0.790" stop-color="#a0f485"/><stop offset="0.800" stop-color="#d7f44e"/><stop offset="0.810" stop-color="#caf45b"/><stop offset="0.820" stop-color="#e9f43c"/><stop offset="0.830" stop-color="#e0f445"/><stop offset="0.840" stop-color="#ccf459"/><stop offset="0.850" stop-color="#b7f46e"/><stop offset="0.860" stop-color="#9ef487"/><stop offset="0.870" stop-color="#edf438"/><stop offset="0.880" stop-color="#d3f451"/><stop offset="0.890" stop-color="#7cf4a9"/><stop offset="0.900" stop-color="#30f0f4"/><stop offset="0.910" stop-color="#acf479"/><stop offset="0.920" stop-color="#95f490"/><stop offset="0.930" stop-color="#95f48f"/><stop offset="0.940" stop-color="#a9f47c"/><stop offset="0.950" stop-color="#81f4a3"/><stop offset="0.960" stop-color="#5af4cb"/><stop offset="0.970" stop-color="#9df488"/><stop offset="0.980" stop-color="#a1f484"/><stop offset="0.990" stop-color="#b9f46c"/><stop offset="1.000" stop-color="#57f4ce"/></linearGradient><linearGradient id="fg1" x1="0" y1="0" x2="1" y2="0"><stop offset="0.000" stop-color="#c0f464"/><stop offset="0.010" stop-color="#b7f46e"/><stop offset="0.020" stop-color="#6bf4ba"/><stop offset="0.030" stop-color="#e2f443"/><stop offset="0.040" stop-color="#b1f474"/><stop offset="0.050" stop-color="#85f49f"/><stop offset="0.060" stop-color="#6ff4b6"/><stop offset="0.070" stop-color="#7af4aa"/><stop offset="0.080" stop-color="#8af49b"/><stop offset="0.090" stop-color="#b9f46c"/><stop offset="0.100" stop-color="#cbf45a"/><stop offset="0.110" stop-color="#b2f473"/><stop offset="0.120" stop-color="#79f4ac"/><stop offset="0.130" stop-color="#68f4bd"/><stop offset="0.140" stop-color="#e8f43d"/><stop offset="0.150" stop-color="#bef467"/><stop offset="0.160" stop-color="#ddf448"/><stop offset="0.170" stop-color="#f1f434"/><stop offset="0.180" stop-color="#97f48e"/><stop offset="0.190" stop-color="#e3f442"/><stop offset="0.200" stop-color="#a5f480"/><stop offset="0.210" stop-color="#d2f453"/><stop offset="0.220" stop-color="#baf46b"/><stop offset="0.230" stop-color="#b5f46f"/><stop offset="0.240" stop-color="#b0f475"/><stop offset="0.250" stop-color="#ccf459"/><stop offset="0.260" stop-color="#d2f453"/><stop offset="0.270" stop-color="#d3f451"/><stop offset="0.280" stop-color="#aef477"/><stop offset="0.290" stop-color="#f0f435"/><stop offset="0.300" stop-color="#d4f451"/><stop offset="0.310" stop-color="#d3f452"/><stop offset="0.320" stop-color="#b7f46d"/><stop offset="0.330" stop-color="#f4f130"/><stop offset="0.340" stop-color="#f4e330"/><stop offset="0.350" stop-color="#f2f433"/><stop offset="0.360" stop-color="#f4dd30"/><stop offset="0.370" stop-color="#f4ed30"/><stop offset="0.380" stop-color="#f4d230"/><stop offset="0.390" stop-color="#f4cb30"/><stop offset="0.400" stop-color="#f49b30"/><stop offset="0.410" stop-color="#f47430"/><stop offset="0.420" stop-color="#f4a630"/><stop offset="0.430" stop-color="#f48930"/><stop offset="0.440" stop-color="#f4c930"/><stop offset="0.450" stop-color="#f4b230"/><stop offset="0.460" stop-color="#f4c830"/><stop offset="0.470" stop-color="#f4a730"/><stop offset="0.480" stop-color="#f49d30"/><stop offset="0.490" stop-color="#f49d30"/><stop offset="0.500" stop-color="#f49030"/><stop offset="0.510" stop-color="#f47830"/><stop offset="0.520" stop-color="#f48130"/><stop offset="0.530" stop-color="#f4dd30"/><stop offset="0.540" stop-color="#f4a730"/><stop offset="0.550" stop-color="#f4e830"/><stop offset="0.560" stop-color="#f4d830"/><stop offset="0.570" stop-color="#f4b730"/><stop offset="0.580" stop-color="#f4c530"/><stop offset="0.590" stop-color="#e3f442"/><stop offset="0.600" stop-color="#eaf43b"/><stop offset="0.610" stop-color="#f4f230"/><stop offset="0.620" stop-color="#dff446"/><stop offset="0.630" stop-color="#edf438"/><stop offset="0.640" stop-color="#f4e230"/><stop offset="0.650" stop-color="#f4d330"/><stop offset="0.660" stop-color="#d2f453"/><stop offset="0.670" stop-color="#dff446"/><stop offset="0.680" stop-color="#f4ee30"/><stop offset="0.690" stop-color="#ddf448"/><stop offset="0.700" stop-color="#ccf459"/><stop offset="0.710" stop-color="#f4c830"/><stop offset="0.720" stop-color="#f48d30"/><stop offset="0.730" stop-color="#f46930"/><stop offset="0.740" stop-color="#f47530"/><stop offset="0.750" stop-color="#f49d30"/><stop offset="0.760" stop-color="#f4d430"/><stop offset="0.770" stop-color="#f4e930"/><stop offset="0.780" stop-color="#daf44b"/><stop offset="0.790" stop-color="#c6f45e"/><stop offset="0.800" stop-color="#e6f43e"/><stop offset="0.810" stop-color="#a0f485"/><stop offset="0.820" stop-color="#edf438"/><stop offset="0.830" stop-color="#d2f452"/><stop offset="0.840" stop-color="#c8f45d"/><stop offset="0.850" stop-color="#81f4a4"/><stop offset="0.860" stop-color="#eff436"/><stop offset="0.870" stop-color="#f4ef30"/><stop offset="0.880" stop-color="#caf45b"/><stop offset="0.890" stop-color="#a7f47e"/><stop offset="0.900" stop-color="#4cf4d9"/><stop offset="0.910" stop-color="#cff456"/><stop offset="0.920" stop-color="#63f4c1"/><stop offset="0.930" stop-color="#6ef4b7"/><stop offset="0.940" stop-color="#94f491"/><stop offset="0.950" stop-color="#97f48d"/><stop offset="0.960" stop-color="#50f4d5"/><stop offset="0.970" stop-color="#8ef497"/><stop offset="0.980" stop-color="#73f4b1"/><stop offset="0.990" stop-color="#ecf439"/><stop offset="1.000" stop-color="#5df4c8"/></linearGradient><linearGradient id="fg2" x1="0" y1="0" x2="1" y2="0"><stop offset="0.000" stop-color="#a6f47f"/><stop offset="0.010" stop-color="#bdf468"/><stop offset="0.020" stop-color="#68f4bd"/><stop offset="0.030" stop-color="#e7f43e"/><stop offset="0.040" stop-color="#85f49f"/><stop offset="0.050" stop-color="#9bf489"/><stop offset="0.060" stop-color="#8df498"/><stop offset="0.070" stop-color="#81f4a4"/><stop offset="0.080" stop-color="#b2f473"/><stop offset="0.090" stop-color="#c1f463"/><stop offset="0.100" stop-color="#b4f470"/><stop offset="0.110" stop-color="#d0f454"/><stop offset="0.120" stop-color="#5ef4c7"/><stop offset="0.130" stop-color="#96f48f"/><stop offset="0.140" stop-color="#cbf459"/><stop offset="0.150" stop-color="#bbf46a"/><stop offset="0.160" stop-color="#f4e130"/><stop offset="0.170" stop-color="#f4e030"/><stop offset="0.180" stop-color="#a6f47f"/><stop offset="0.190" stop-color="#caf45a"/><stop offset="0.200" stop-color="#a3f482"/><stop offset="0.210" stop-color="#bff466"/><stop offset="0.220" stop-color="#9ef487"/><stop offset="0.230" stop-color="#aff476"/><stop offset="0.240" stop-color="#b3f472"/><stop offset="0.250" stop-color="#cbf45a"/><stop offset="0.260" stop-color="#cef457"/><stop offset="0.270" stop-color="#ecf439"/><stop offset="0.280" stop-color="#a5f47f"/><stop offset="0.290" stop-color="#acf479"/><stop offset="0.300" stop-color="#d6f44f"/><stop offset="0.310" stop-color="#9ef487"/><stop offset="0.320" stop-color="#c2f462"/><stop offset="0.330" stop-color="#f4ed30"/><stop offset="0.340" stop-color="#def447"/><stop offset="0.350" stop-color="#eff436"/><stop offset="0.360" stop-color="#f4ed30"/><stop offset="0.370" stop-color="#f4e030"/><stop offset="0.380" stop-color="#f4bd30"/><stop offset="0.390" stop-color="#f4b930"/><stop offset="0.400" stop-color="#f4ae30"/><stop offset="0.410" stop-color="#f47c30"/><stop offset="0.420" stop-color="#f4b730"/><stop offset="0.430" stop-color="#f48930"/><stop offset="0.440" stop-color="#f4c030"/><stop offset="0.450" stop-color="#f4ad30"/><stop offset="0.460" stop-color="#f4c630"/><stop offset="0.470" stop-color="#f49830"/><stop offset="0.480" stop-color="#f4a230"/><stop offset="0.490" stop-color="#f4a330"/><stop offset="0.500" stop-color="#f48e30"/><stop offset="0.510" stop-color="#f48230"/><stop offset="0.520" stop-color="#f48e30"/><stop offset="0.530" stop-color="#f4d930"/><stop offset="0.540" stop-color="#f49d30"/><stop offset="0.550" stop-color="#f4e930"/><stop offset="0.560" stop-color="#f4d130"/><stop offset="0.570" stop-color="#f4c330"/><stop offset="0.580" stop-color="#f4a530"/><stop offset="0.590" stop-color="#ddf448"/><stop offset="0.600" stop-color="#f4ec30"/><stop offset="0.610" stop-color="#f4ee30"/><stop offset="0.620" stop-color="#f2f433"/><stop offset="0.630" stop-color="#eff436"/><stop offset="0.640" stop-color="#f4f130"/><stop offset="0.650" stop-color="#f4cc30"/><stop offset="0.660" stop-color="#e6f43e"/><stop offset="0.670" stop-color="#f4f230"/><stop offset="0.680" stop-color="#cdf457"/><stop offset="0.690" stop-color="#c2f463"/><stop offset="0.700" stop-color="#bcf469"/><stop offset="0.710" stop-color="#f4db30"/><stop offset="0.720" stop-color="#f48130"/><stop offset="0.730" stop-color="#f47d30"/><stop offset="0.740" stop-color="#f49430"/><stop offset="0.750" stop-color="#f4ad30"/><stop offset="0.760" stop-color="#f4ef30"/><stop offset="0.770" stop-color="#f4e530"/><stop offset="0.780" stop-color="#cff456"/><stop offset="0.790" stop-color="#c0f465"/><stop offset="0.800" stop-color="#d7f44e"/><stop offset="0.810" stop-color="#c3f462"/><stop offset="0.820" stop-color="#f4ec30"/><stop offset="0.830" stop-color="#bbf469"/><stop offset="0.840" stop-color="#cdf458"/><stop offset="0.850" stop-color="#a1f484"/><stop offset="0.860" stop-color="#e0f445"/><stop offset="0.870" stop-color="#e1f444"/><stop offset="0.880" stop-color="#ccf459"/><stop offset="0.890" stop-color="#64f4c1"/><stop offset="0.900" stop-color="#68f4bd"/><stop offset="0.910" stop-color="#bdf468"/><stop offset="0.920" stop-color="#9df488"/><stop offset="0.930" stop-color="#7bf4aa"/><stop offset="0.940" stop-color="#aaf47b"/><stop offset="0.950" stop-color="#92f492"/><stop offset="0.960" stop-color="#65f4c0"/><stop offset="0.970" stop-color="#b1f473"/><stop offset="0.980" stop-color="#76f4af"/><stop offset="0.990" stop-color="#acf479"/><stop offset="1.000" stop-color="#30d1f4"/></linearGradient><linearGradient id="fg3" x1="0" y1="0" x2="1" y2="0"><stop offset="0.000" stop-color="#9ef487"/><stop offset="0.010" stop-color="#c4f461"/><stop offset="0.020" stop-color="#6af4bb"/><stop offset="0.030" stop-color="#e0f445"/><stop offset="0.040" stop-color="#9bf48a"/><stop offset="0.050" stop-color="#7bf4aa"/><stop offset="0.060" stop-color="#87f49d"/><stop offset="0.070" stop-color="#84f4a0"/><stop offset="0.080" stop-color="#a2f483"/><stop offset="0.090" stop-color="#c2f463"/><stop offset="0.100" stop-color="#b6f46f"/><stop offset="0.110" stop-color="#c4f461"/><stop offset="0.120" stop-color="#71f4b4"/><stop offset="0.130" stop-color="#69f4bc"/><stop offset="0.140" stop-color="#d5f450"/><stop offset="0.150" stop-color="#e5f440"/><stop offset="0.160" stop-color="#dff446"/><stop offset="0.170" stop-color="#f4f030"/><stop offset="0.180" stop-color="#88f49d"/><stop offset="0.190" stop-color="#e2f443"/><stop offset="0.200" stop-color="#aaf47a"/><stop offset="0.210" stop-color="#b8f46d"/><stop offset="0.220" stop-color="#b4f471"/><stop offset="0.230" stop-color="#a4f481"/><stop offset="0.240" stop-color="#a8f47d"/><stop offset="0.250" stop-color="#d9f44c"/><stop offset="0.260" stop-color="#c4f460"/><stop offset="0.270" stop-color="#d4f451"/><stop offset="0.280" stop-color="#93f492"/><stop offset="0.290" stop-color="#d2f452"/><stop offset="0.300" stop-color="#d5f450"/><stop offset="0.310" stop-color="#bff466"/><stop offset="0.320" stop-color="#b4f471"/><stop offset="0.330" stop-color="#f4e530"/><stop offset="0.340" stop-color="#f4e030"/><stop offset="0.350" stop-color="#e2f443"/><stop offset="0.360" stop-color="#f4d230"/><stop offset="0.370" stop-color="#f4df30"/><stop offset="0.380" stop-color="#f4b330"/><stop offset="0.390" stop-color="#f4cd30"/><stop offset="0.400" stop-color="#f4a630"/><stop offset="0.410" stop-color="#f48230"/><stop offset="0.420" stop-color="#f4ac30"/><stop offset="0.430" stop-color="#f48130"/><stop offset="0.440" stop-color="#f4bb30"/><stop offset="0.450" stop-color="#f4bd30"/><stop offset="0.460" stop-color="#f4c330"/><stop offset="0.470" stop-color="#f4b330"/><stop offset="0.480" stop-color="#f4b230"/><stop offset="0.490" stop-color="#f4af30"/><stop offset="0.500" stop-color="#f4a030"/><stop offset="0.510" stop-color="#f48130"/><stop offset="0.520" stop-color="#f48a30"/><stop offset="0.530" stop-color="#f4c730"/><stop offset="0.540" stop-color="#f48630"/><stop offset="0.550" stop-color="#f0f434"/><stop offset="0.560" stop-color="#f4d530"/><stop offset="0.570" stop-color="#f4be30"/><stop offset="0.580" stop-color="#f4be30"/><stop offset="0.590" stop-color="#d9f44b"/><stop offset="0.600" stop-color="#eaf43b"/><stop offset="0.610" stop-color="#f4ee30"/><stop offset="0.620" stop-color="#ddf447"/><stop offset="0.630" stop-color="#f3f432"/><stop offset="0.640" stop-color="#f4de30"/><stop offset="0.650" stop-color="#f4d230"/><stop offset="0.660" stop-color="#f4ea30"/><stop offset="0.670" stop-color="#daf44b"/><stop offset="0.680" stop-color="#f2f432"/><stop offset="0.690" stop-color="#dff446"/><stop offset="0.700" stop-color="#caf45b"/><stop offset="0.710" stop-color="#f4c630"/><stop offset="0.720" stop-color="#f48230"/><stop offset="0.730" stop-color="#f48c30"/><stop offset="0.740" stop-color="#f47e30"/><stop offset="0.750" stop-color="#f4b330"/><stop offset="0.760" stop-color="#e6f43f"/><stop offset="0.770" stop-color="#f4e530"/><stop offset="0.780" stop-color="#baf46a"/><stop offset="0.790" stop-color="#c0f465"/><stop offset="0.800" stop-color="#cdf457"/><stop offset="0.810" stop-color="#98f48c"/><stop offset="0.820" stop-color="#e5f440"/><stop offset="0.830" stop-color="#a4f481"/><stop offset="0.840" stop-color="#c7f45e"/><stop offset="0.850" stop-color="#8af49b"/><stop offset="0.860" stop-color="#d7f44e"/><stop offset="0.870" stop-color="#c0f465"/><stop offset="0.880" stop-color="#a4f481"/><stop offset="0.890" stop-color="#8df498"/><stop offset="0.900" stop-color="#30eaf4"/><stop offset="0.910" stop-color="#aef477"/><stop offset="0.920" stop-color="#77f4ae"/><stop offset="0.930" stop-color="#77f4ae"/><stop offset="0.940" stop-color="#9bf48a"/><stop offset="0.950" stop-color="#b9f46b"/><stop offset="0.960" stop-color="#51f4d4"/><stop offset="0.970" stop-color="#87f49e"/><stop offset="0.980" stop-color="#95f490"/><stop offset="0.990" stop-color="#e1f443"/><stop offset="1.000" stop-color="#5ef4c7"/></linearGradient><linearGradient id="fg4" x1="0" y1="0" x2="1" y2="0"><stop offset="0.000" stop-color="#9cf489"/><stop offset="0.010" stop-color="#e5f440"/><stop offset="0.020" stop-color="#6ef4b6"/><stop offset="0.030" stop-color="#ebf43a"/><stop offset="0.040" stop-color="#92f493"/><stop offset="0.050" stop-color="#8af49b"/><stop offset="0.060" stop-color="#8bf499"/><stop offset="0.070" stop-color="#71f4b4"/><stop offset="0.080" stop-color="#98f48d"/><stop offset="0.090" stop-color="#cef457"/><stop offset="0.100" stop-color="#caf45a"/><stop offset="0.110" stop-color="#c5f460"/><stop offset="0.120" stop-color="#7af4ab"/><stop offset="0.130" stop-color="#73f4b2"/><stop offset="0.140" stop-color="#f4f030"/><stop offset="0.150" stop-color="#b1f474"/><stop offset="0.160" stop-color="#d9f44c"/><stop offset="0.170" stop-color="#c5f460"/><stop offset="0.180" stop-color="#93f492"/><stop offset="0.190" stop-color="#cff456"/><stop offset="0.200" stop-color="#d1f454"/><stop offset="0.210" stop-color="#a1f484"/><stop offset="0.220" stop-color="#a9f47b"/><stop offset="0.230" stop-color="#d2f452"/><stop offset="0.240" stop-color="#c1f463"/><stop offset="0.250" stop-color="#cff456"/><stop offset="0.260" stop-color="#b5f470"/><stop offset="0.270" stop-color="#f4ec30"/><stop offset="0.280" stop-color="#8cf499"/><stop offset="0.290" stop-color="#c1f464"/><stop offset="0.300" stop-color="#b5f470"/><stop offset="0.310" stop-color="#b1f474"/><stop offset="0.320" stop-color="#d1f454"/><stop offset="0.330" stop-color="#f4f430"/><stop offset="0.340" stop-color="#f4e330"/><stop offset="0.350" stop-color="#e4f441"/><stop offset="0.360" stop-color="#f4e630"/><stop offset="0.370" stop-color="#f4f030"/><stop offset="0.380" stop-color="#f4b730"/><stop offset="0.390" stop-color="#f4d330"/><stop offset="0.400" stop-color="#f4ae30"/><stop offset="0.410" stop-color="#f48330"/><stop offset="0.420" stop-color="#f49330"/><stop offset="0.430" stop-color="#f48e30"/><stop offset="0.440" stop-color="#f4a830"/><stop offset="0.450" stop-color="#f4ac30"/><stop offset="0.460" stop-color="#f4ca30"/><stop offset="0.470" stop-color="#f49830"/><stop offset="0.480" stop-color="#f4a630"/><stop offset="0.490" stop-color="#f4ae30"/><stop offset="0.500" stop-color="#f49f30"/><stop offset="0.510" stop-color="#f49630"/><stop offset="0.520" stop-color="#f49830"/><stop offset="0.530" stop-color="#f4d930"/><stop offset="0.540" stop-color="#f49e30"/><stop offset="0.550" stop-color="#f4dd30"/><stop offset="0.560" stop-color="#f4cc30"/><stop offset="0.570" stop-color="#f4c430"/><stop offset="0.580" stop-color="#f4ac30"/><stop offset="0.590" stop-color="#dcf449"/><stop offset="0.600" stop-color="#d5f450"/><stop offset="0.610" stop-color="#f4ea30"/><stop offset="0.620" stop-color="#dff446"/><stop offset="0.630" stop-color="#f2f432"/><stop offset="0.640" stop-color="#f4e830"/><stop offset="0.650" stop-color="#f4e730"/><stop offset="0.660" stop-color="#eff436"/><stop offset="0.670" stop-color="#e3f442"/><stop offset="0.680" stop-color="#d5f450"/><stop offset="0.690" stop-color="#e6f43f"/><stop offset="0.700" stop-color="#d8f44c"/><stop offset="0.710" stop-color="#f4c130"/><stop offset="0.720" stop-color="#f47c30"/><stop offset="0.730" stop-color="#f48430"/><stop offset="0.740" stop-color="#f4ac30"/><stop offset="0.750" stop-color="#f4b030"/><stop offset="0.760" stop-color="#f4ed30"/><stop offset="0.770" stop-color="#f4eb30"/><stop offset="0.780" stop-color="#adf478"/><stop offset="0.790" stop-color="#c1f463"/><stop offset="0.800" stop-color="#caf45b"/><stop offset="0.810" stop-color="#bcf469"/><stop offset="0.820" stop-color="#ddf448"/><stop offset="0.830" stop-color="#ddf448"/><stop offset="0.840" stop-color="#d6f44f"/><stop offset="0.850" stop-color="#b5f46f"/><stop offset="0.860" stop-color="#eaf43b"/><stop offset="0.870" stop-color="#dff446"/><stop offset="0.880" stop-color="#91f494"/><stop offset="0.890" stop-color="#b4f471"/><stop offset="0.900" stop-color="#30d5f4"/><stop offset="0.910" stop-color="#d0f455"/><stop offset="0.920" stop-color="#a4f481"/><stop offset="0.930" stop-color="#5cf4c9"/><stop offset="0.940" stop-color="#bef467"/><stop offset="0.950" stop-color="#a4f481"/><stop offset="0.960" stop-color="#38f4ed"/><stop offset="0.970" stop-color="#9cf488"/><stop offset="0.980" stop-color="#74f4b1"/><stop offset="0.990" stop-color="#d0f455"/><stop offset="1.000" stop-color="#50f4d4"/></linearGradient><linearGradient id="fg5" x1="0" y1="0" x2="1" y2="0"><stop offset="0.000" stop-color="#bef467"/><stop offset="0.010" stop-color="#e5f440"/><stop offset="0.020" stop-color="#75f4b0"/><stop offset="0.030" stop-color="#def447"/><stop offset="0.040" stop-color="#9ff486"/><stop offset="0.050" stop-color="#8cf499"/><stop offset="0.060" stop-color="#9bf489"/><stop offset="0.070" stop-color="#92f493"/><stop offset="0.080" stop-color="#a7f47e"/><stop offset="0.090" stop-color="#bff465"/><stop offset="0.100" stop-color="#c9f45c"/><stop offset="0.110" stop-color="#a9f47c"/><stop offset="0.120" stop-color="#6df4b7"/><stop offset="0.130" stop-color="#7ef4a7"/><stop offset="0.140" stop-color="#eaf43b"/><stop offset="0.150" stop-color="#b3f472"/><stop offset="0.160" stop-color="#dbf449"/><stop offset="0.170" stop-color="#bef467"/><stop offset="0.180" stop-color="#9cf489"/><stop offset="0.190" stop-color="#e3f442"/><stop offset="0.200" stop-color="#ddf448"/><stop offset="0.210" stop-color="#def447"/><stop offset="0.220" stop-color="#89f49b"/><stop offset="0.230" stop-color="#b4f471"/><stop offset="0.240" stop-color="#abf47a"/><stop offset="0.250" stop-color="#c3f462"/><stop offset="0.260" stop-color="#c0f465"/><stop offset="0.270" stop-color="#e3f442"/><stop offset="0.280" stop-color="#aaf47b"/><stop offset="0.290" stop-color="#c8f45d"/><stop offset="0.300" stop-color="#b9f46c"/><stop offset="0.310" stop-color="#bcf468"/><stop offset="0.320" stop-color="#bef466"/><stop offset="0.330" stop-color="#f4f430"/><stop offset="0.340" stop-color="#dbf449"/><stop offset="0.350" stop-color="#d5f450"/><stop offset="0.360" stop-color="#f4f130"/><stop offset="0.370" stop-color="#f4e430"/><stop offset="0.380" stop-color="#f4bb30"/><stop offset="0.390" stop-color="#f4c730"/><stop offset="0.400" stop-color="#f4a530"/><stop offset="0.410" stop-color="#f4a330"/><stop offset="0.420" stop-color="#f4a230"/><stop offset="0.430" stop-color="#f49730"/><stop offset="0.440" stop-color="#f4c230"/><stop offset="0.450" stop-color="#f4bd30"/><stop offset="0.460" stop-color="#f4e030"/><stop offset="0.470" stop-color="#f49d30"/><stop offset="0.480" stop-color="#f49a30"/><stop offset="0.490" stop-color="#f4b030"/><stop offset="0.500" stop-color="#f4b430"/><stop offset="0.510" stop-color="#f48b30"/><stop offset="0.520" stop-color="#f47e30"/><stop offset="0.530" stop-color="#f4c830"/><stop offset="0.540" stop-color="#f49d30"/><stop offset="0.550" stop-color="#f4df30"/><stop offset="0.560" stop-color="#f4d630"/><stop offset="0.570" stop-color="#f4ce30"/><stop offset="0.580" stop-color="#f4a730"/><stop offset="0.590" stop-color="#dff446"/><stop offset="0.600" stop-color="#ddf448"/><stop offset="0.610" stop-color="#f4e130"/><stop offset="0.620" stop-color="#edf438"/><stop offset="0.630" stop-color="#d7f44e"/><stop offset="0.640" stop-color="#f4d730"/><stop offset="0.650" stop-color="#f4d830"/><stop offset="0.660" stop-color="#e6f43f"/><stop offset="0.670" stop-color="#e4f441"/><stop offset="0.680" stop-color="#d9f44c"/><stop offset="0.690" stop-color="#c6f45e"/><stop offset="0.700" stop-color="#d8f44d"/><stop offset="0.710" stop-color="#f4bf30"/><stop offset="0.720" stop-color="#f48130"/><stop offset="0.730" stop-color="#f47a30"/><stop offset="0.740" stop-color="#f48e30"/><stop offset="0.750" stop-color="#f4ae30"/><stop offset="0.760" stop-color="#f4e030"/><stop offset="0.770" stop-color="#f4ea30"/><stop offset="0.780" stop-color="#d9f44b"/><stop offset="0.790" stop-color="#b1f474"/><stop offset="0.800" stop-color="#d0f455"/><stop offset="0.810" stop-color="#9bf48a"/><stop offset="0.820" stop-color="#f1f434"/><stop offset="0.830" stop-color="#f4f030"/><stop offset="0.840" stop-color="#daf44b"/><stop offset="0.850" stop-color="#93f492"/><stop offset="0.860" stop-color="#bef467"/><stop offset="0.870" stop-color="#c4f461"/><stop offset="0.880" stop-color="#adf477"/><stop offset="0.890" stop-color="#79f4ab"/><stop offset="0.900" stop-color="#36f4ee"/><stop offset="0.910" stop-color="#bbf46a"/><stop offset="0.920" stop-color="#8bf49a"/><stop offset="0.930" stop-color="#57f4cd"/><stop offset="0.940" stop-color="#c1f464"/><stop offset="0.950" stop-color="#a7f47e"/><stop offset="0.960" stop-color="#69f4bc"/><stop offset="0.970" stop-color="#99f48c"/><stop offset="0.980" stop-color="#98f48c"/><stop offset="0.990" stop-color="#cef456"/><stop offset="1.000" stop-color="#5df4c8"/></linearGradient><linearGradient id="sp" gradientUnits="userSpaceOnUse" x1="0" y1="0" x2="0" y2="-22"><stop offset="0" stop-color="#f8b848"/><stop offset="0.15" stop-color="#ff7a2a"/><stop offset="0.55" stop-color="#f04a1a"/><stop offset="0.61" stop-color="#a00404"/><stop offset="1" stop-color="#880000"/></linearGradient><linearGradient id="sp3" gradientUnits="userSpaceOnUse" x1="0" y1="0" x2="0" y2="-22"><stop offset="0" stop-color="#f86a30"/><stop offset="0.35" stop-color="#f03a28"/><stop offset="1" stop-color="#e82828"/></linearGradient></defs>
<polygon points="97.2,118.9 506,110.4 577.4,151 171.3,158.5" fill="url(#fl0)" opacity="0.45"/>
<path d="M97.2 119.6l2.7 .4 2.8-1 2.7-.6 2.8-.8 2.7 .9 2.8 .6 2.7 .1 2.7-1.4 2.8-.9 2.7 1.2 2.8 1.3 2.7-.3 2.8-2.4 2.7 1.2 2.8 1.7 2.7-1.5 2.7 .9 2.8-.6 2.7-.1 2.8 .1 2.7-1.2 2.8 .5 2.7 .4 2.7-.9 2.8-.5 2.7 2.2 2.8-1.3 2.7 .6 2.8-.8 2.7 .9 2.8-1.2 2.7 0 2.7 .2 2.8 .6 2.7-.6 2.8 .5 2.7 .2 2.8-1.5 2.7 1.2 2.7-2.1 2.8 .3 2.7 2.4 2.8-2.1 2.7 1.2 2.8-1.1 2.7-.1 2.8 1.8 2.7-1.7 2.7 0 2.8-1.3 2.7 1.7 2.8-2 2.7 1.1 2.8-1.4 2.7-.3 2.7-2.9 2.8 .2 2.7-2 2.8 1.7 2.7 .3 2.8 .6 2.7 1.9 2.7-.4 2.8-2.5 2.7-.4 2.8-.5 2.7 2.3 2.8 1.3 2.7 1.5 2.8-.2 2.7-.4 2.7 .1 2.8 .8 2.7-1.9 2.8 1 2.7-2 2.8-1.7 2.7-2 2.7 2.9 2.8 2.2 2.7 1 2.8-1.2 2.7 1.3 2.8 .2 2.7-1.8 2.8 1.6 2.7-.9 2.7-.3 2.8 .1 2.7-1.4 2.8-4 2.7-1.2 2.8 1.1 2.7 3.6 2.7 .7 2.8 .8 2.7-.5 2.8 .6 2.7 0 2.8 .1 2.7-.2 2.7-.7 2.8 .5 2.7-.5 2.8-1.7 2.7 1.1 2.8-.8 2.7-7.6 2.8-.5 2.7 1.1 2.7-1.4 2.8 3.6 2.7 5.1 2.8 1.1 2.7 .3 2.8-1 2.7-.9 2.7 1.2 2.8-.8 2.7-1.3 2.8 2.7 2.7-1.4 2.8 .5 2.7 .6 2.8-.1 2.7-1 2.7-.4 2.8 .8 2.7-.6 2.8-.7 2.7 .4 2.8-.6 2.7 .3 2.7-.1 2.8-1.2 2.7 1 2.8 .4 2.7-.6 2.8 1.4 2.7-.6 2.8-1.1 2.7 .1 2.7-.9 2.8 1.4 2.7 1.2 2.8-3.1 2.7 .7 2.8 1.9 2.7-2.2" fill="none" stroke="url(#fl0)" stroke-width="0.9"/>
<path transform="translate(276 115.2) scale(1 1.25)" d="M-8.2 -2.6 -5.3 -6.3 -3.4 -13.6 -2.2 -26.5 -1.4 -43.4 -.9 -59 -.6 -69.4 -.4 -74.9 -.2 -77.5 0 -79.4 .2 -77.5 .4 -74.9 .6 -69.4 .9 -59 1.4 -43.4 2.2 -26.5 3.4 -13.8 5.3 -6.4 8.2 -2.9Z" fill="url(#sp)" stroke="#b83030" stroke-width="0.4" stroke-opacity="0.6"/>
<path d="M98.4 119.9l2.8 .1 2.7-2 2.7 2.1 2.8-.6 2.7 0 2.8 0 2.7 .5 2.8-1.1 2.7-.8 2.7 .3 2.8 1.4 2.7 .1 2.8-1.2 2.7 .7 2.8-.1 2.7 .8 2.8-3.3 2.7 .9 2.7 1.6 2.8-1.7 2.7-.5 2.8 3.3 2.7-1.7 2.8-.2 2.7-1 2.7 .7 2.8 0 2.7-.2 2.8-1.8 2.7-.3 2.8 2.4 2.7 .3 2.7-3.4 2.8 3.3 2.7-.4 2.8-.6 2.7-.5 2.8-.5 2.7 .5 2.7 1.1 2.8-1.3 2.7 .1 2.8-1.5 2.7 1.7 2.8 1.1 2.7-.3 2.8-2.3 2.7 1.7 2.7 1.3 2.8-1.5 2.7-.8 2.8-1.4 2.7 1.5 2.8-2.2 2.7-1 2.7 .6 2.8-1.1 2.7-2 2.8 .1 2.7 1.2 2.8 1.1 2.7-.1 2.7 1.2 2.8-1.2 2.7-1.3 2.8-.8 2.7 2.2 2.8-.7 2.7 3.3 2.7-1.3 2.8-.1 2.7 1.3 2.8-1.3 2.7 2.7 2.8-3 2.7-2.6 2.8 1.2 2.7-1.1 2.7-.3 2.8 2.9 2.7 1.5 2.8-.4 2.7 .1 2.8-1.2 2.7 .2 2.7 .6 2.8 .3 2.7-.6 2.8-1.5 2.7-.2 2.8-3 2.7-2.1 2.7 1.4 2.8 2.6 2.7 .9 2.8 1.2 2.7 .9 2.8 .6 2.7-1.6 2.7 .4 2.8-.1 2.7-.1 2.8-.6 2.7 0 2.8-.7 2.7-.2 2.8-2.9 2.7-4.2 2.7-.7 2.8-.4 2.7-.2 2.8 3.6 2.7 3.7 2.8 .6 2.7 1.7 2.7 .8 2.8-2.7 2.7 1 2.8-.7 2.7 1.8 2.8-2.8 2.7 .8 2.7 .8 2.8 .1 2.7-.5 2.8 .2 2.7 .1 2.8 .7 2.7-2.2 2.7 1.1 2.8-.2 2.7-.1 2.8 2.2 2.7-2.7 2.8 .8 2.7-.1 2.8-.4 2.7 .9 2.7-1.7 2.8 1.3 2.7 .1 2.8-.1 2.7-.9 2.8-.6 2.7 1.1 2.7 .8 2.8-2.4 2.7 1.9 2.8-2.1" fill="none" stroke="url(#fl3)" stroke-width="0.9"/>
<path transform="translate(277.2 115.8) scale(1 1.23)" d="M-8.2 -2.9 -5.3 -6.8 -3.4 -14.8 -2.2 -28.7 -1.4 -47 -.9 -64 -.6 -75.3 -.4 -81.2 -.2 -84 0 -86.1 .2 -84 .4 -81.2 .6 -75.3 .9 -64 1.4 -47.1 2.2 -28.8 3.4 -14.9 5.3 -7 8.2 -3.1Z" fill="url(#sp)" stroke="#b83030" stroke-width="0.4" stroke-opacity="0.6"/>
<path d="M99.6 120.8l2.8-.1 2.7-1 2.8-.5 2.7 .9 2.7-1 2.8-1.1 2.7 2 2.8 .8 2.7-.2 2.8 .3 2.7-.8 2.7 .1 2.8 .5 2.7-1.8 2.8 2.8 2.7-1.2 2.8-3.1 2.7 .8 2.7 .4 2.8 .1 2.7-1.3 2.8 1.1 2.7 .3 2.8 1.1 2.7-1.1 2.7 .6 2.8-.1 2.7 0 2.8-.7 2.7 .2 2.8-1.1 2.7 1.9 2.7-1.1 2.8-1.9 2.7 1.6 2.8-1.1 2.7 0 2.8-.2 2.7 .4 2.8 1.9 2.7-1.1 2.7 .1 2.8 .9 2.7-1 2.8 .7 2.7 .3 2.8-1.8 2.7 .2 2.7 .5 2.8 .1 2.7-.6 2.8-.5 2.7-.5 2.8-1 2.7-.5 2.7-1.5 2.8-.8 2.7-.1 2.8 1 2.7 .4 2.8-.3 2.7 1.2 2.7-.1 2.8 1 2.7-1.8 2.8-2.7 2.7 2.1 2.8 .9 2.7 1.2 2.7 .5 2.8 .1 2.7 1.3 2.8-2.2 2.7 1 2.8-1.9 2.7-1.6 2.7-1.9 2.8-.5 2.7 2.9 2.8 1.6 2.7 1.3 2.8-.3 2.7-1.8 2.7 1.8 2.8-1.5 2.7 .3 2.8 0 2.7-.1 2.8 1.4 2.7-2.3 2.7-3.8 2.8-.8 2.7-.2 2.8 3.6 2.7 1.3 2.8 1.9 2.7-2.4 2.7 1.8 2.8 1 2.7-3.1 2.8 .7 2.7 .3 2.8 0 2.7 .7 2.7-.2 2.8-1 2.7-2.8 2.8-4.7 2.7-1 2.8 .5 2.7 0 2.7 1.7 2.8 4.2 2.7 2.7 2.8 .1 2.7-1.6 2.8 .4 2.7 0 2.8 1.7 2.7-.9 2.7 .1 2.8-.7 2.7 1.6 2.8-2.7 2.7 .8 2.8-.2 2.7 1.4 2.7-1.1 2.8-1.2 2.7 2.5 2.8-1.7 2.7-.4 2.8 1.2 2.7-1.4 2.7 .9 2.8-1.4 2.7 .5 2.8 .3 2.7-1.7 2.8 1 2.7-.5 2.7 2.2 2.8-.5 2.7-1.4 2.8-.2 2.7 .9 2.8-.9 2.7 1.6 2.7-1.2" fill="none" stroke="url(#fl1)" stroke-width="0.9"/>
<path transform="translate(278.4 116.5) scale(1 1.21)" d="M-8.2 -2.9 -5.3 -6.9 -3.4 -15.1 -2.2 -29.2 -1.4 -47.9 -.9 -65.2 -.6 -76.7 -.4 -82.8 -.2 -85.6 0 -87.8 .2 -85.6 .4 -82.8 .6 -76.7 .9 -65.2 1.4 -48 2.2 -29.3 3.4 -15.2 5.3 -7.1 8.2 -3.2Z" fill="url(#sp)" stroke="#b83030" stroke-width="0.4" stroke-opacity="0.6"/>
<path d="M100.8 121.3l2.8 .1 2.7-.7 2.8-1.7 2.7 2.5 2.8-.4 2.7-1.6 2.7 1.3 2.8-2 2.7 1.3 2.8 .1 2.7-.3 2.8-1.3 2.7 .9 2.7 .1 2.8 .2 2.7 1.5 2.8-.6 2.7-2.2 2.8 .5 2.7 .3 2.7-.2 2.8 1 2.7-.9 2.8 1.1 2.7-1.2 2.8 .9 2.7-.5 2.7-.6 2.8 .6 2.7-.9 2.8 .1 2.7 0 2.8-.9 2.7 2.4 2.7 .1 2.8-2 2.7-.4 2.8-1 2.7 1.1 2.8-.2 2.7 1.5 2.7-1.5 2.8 0 2.7 1.5 2.8-.2 2.7-.8 2.8-.4 2.7 2.9 2.7-2.9 2.8-.2 2.7 .1 2.8-.8 2.7-.7 2.8 .7 2.7-2.1 2.7-.2 2.8 0 2.7-1.3 2.8-1.1 2.7 3.1 2.8 .8 2.7 .6 2.7-3.2 2.8 .8 2.7-2.1 2.8 .6 2.7 2.3 2.8 2.8 2.7-1.4 2.7 0 2.8 2 2.7-.9 2.8-.4 2.7-.9 2.7-1.2 2.8-2.7 2.7-2 2.8 .3 2.7 1.4 2.8 4 2.7 .3 2.7-1.4 2.8 .8 2.7 .2 2.8 1.7 2.7-.2 2.8-2.3 2.7 .2 2.7 .4 2.8-1 2.7-1.5 2.8-4.7 2.7-.2 2.8 2.5 2.7 3.6 2.7 .9 2.8 .8 2.7-2.1 2.8-.5 2.7 2 2.8-.8 2.7 .1 2.7 .5 2.8 1.7 2.7-2 2.8-1.1 2.7-.7 2.8-5.2 2.7 .5 2.7-4.2 2.8 .9 2.7 3.3 2.8 4.8 2.7 1.4 2.8-.5 2.7 .1 2.7-.1 2.8-.2 2.7-.2 2.8-1.4 2.7 2.7 2.8-1.6 2.7 .7 2.7 .4 2.8 1.1 2.7-2.7 2.8 1.3 2.7-.2 2.8-1.2 2.7 1.4 2.7-1.1 2.8 0 2.7-.8 2.8-.3 2.7 1.7 2.8-1.7 2.7 .9 2.7-.3 2.8 .3 2.7-1 2.8 1.8 2.7-1.4 2.8-.9 2.7 1.2 2.7-2.1 2.8 2.4 2.7-.9 2.8 .6 2.7 .1" fill="none" stroke="url(#fl4)" stroke-width="0.9"/>
<path transform="translate(279.6 117.2) scale(1 1.19)" d="M-8.2 -2.8 -5.3 -6.7 -3.4 -14.7 -2.2 -28.4 -1.4 -46.6 -.9 -63.4 -.6 -74.6 -.4 -80.5 -.2 -83.3 0 -85.4 .2 -83.3 .4 -80.6 .6 -74.6 .9 -63.4 1.4 -46.6 2.2 -28.5 3.4 -14.8 5.3 -6.9 8.2 -3.1Z" fill="url(#sp)" stroke="#b83030" stroke-width="0.4" stroke-opacity="0.6"/>
<path d="M102.1 122l2.7-.5 2.7 .6 2.8-1.6 2.7-.6 2.8 2.7 2.7-2.2 2.8 .5 2.7-.1 2.7-2 2.8 1.1 2.7 .7 2.8 .1 2.7 2 2.8-2.7 2.7 1.3 2.7-.9 2.8 0 2.7-.8 2.8-1 2.7 .9 2.8-.3 2.7 1.3 2.7-.7 2.8-.4 2.7 2 2.8-3.2 2.7 2.4 2.7 .5 2.8-2.7 2.7-.5 2.8 2.5 2.7-.2 2.8-3.4 2.7 2.7 2.7 1.8 2.8-1.3 2.7-2.4 2.8 1.2 2.7-.2 2.8-.5 2.7 .5 2.7 .8 2.8 1.1 2.7-1.9 2.8 1.4 2.7-1.1 2.8-1.7 2.7 1.1 2.7 .3 2.8-.1 2.7-.9 2.8-.5 2.7 1.5 2.8-2 2.7-2.2 2.7 0 2.8 .8 2.7-.4 2.8 1.4 2.7-.7 2.7-1.5 2.8 2.1 2.7 .7 2.8-1.4 2.7-2.4 2.8 0 2.7 2.3 2.7 2.2 2.8-.6 2.7-.8 2.8 1.9 2.7-.1 2.8-1.7 2.7 2.1 2.7-1.7 2.8-2.1 2.7-2.3 2.8 .4 2.7 2.3 2.8 .6 2.7 2.2 2.7 .7 2.8 .2 2.7-2.5 2.8 2.1 2.7-2 2.8-.2 2.7-.2 2.7 .6 2.8-.7 2.7-3.2 2.8-2.3 2.7 1.1 2.7 .7 2.8 4.1 2.7-1.8 2.8 1.2 2.7 .9 2.8-.9 2.7-.8 2.7 2.3 2.8-.4 2.7 0 2.8-1.1 2.7-.3 2.8 .1 2.7-1.9 2.7-4.8 2.8-3.3 2.7 0 2.8 1.1 2.7 4.2 2.8 2.7 2.7 1.5 2.7 0 2.8-1.4 2.7 .7 2.8 1.6 2.7-.1 2.8-2.1 2.7 1 2.7-.7 2.8 .8 2.7 .7 2.8-1.2 2.7-1.2 2.7 1 2.8 1.3 2.7-.8 2.8 .1 2.7-.6 2.8-.9 2.7-.9 2.7 1.5 2.8 .6 2.7-.6 2.8 0 2.7 .4 2.8-.5 2.7 0 2.7 1 2.8-1.6 2.7 .7 2.8 .5 2.7-1.3 2.8 .8 2.7-2.1 2.7 1.1 2.8 .3" fill="none" stroke="url(#fl0)" stroke-width="0.9"/>
<path transform="translate(280.8 117.8) scale(1 1.18)" d="M-8.2 -2.9 -5.3 -6.9 -3.4 -15.1 -2.2 -29.3 -1.4 -48 -.9 -65.4 -.6 -76.9 -.4 -83 -.2 -85.8 0 -88 .2 -85.8 .4 -83 .6 -76.9 .9 -65.4 1.4 -48.1 2.2 -29.4 3.4 -15.2 5.3 -7.1 8.2 -3.2Z" fill="url(#sp)" stroke="#b83030" stroke-width="0.4" stroke-opacity="0.6"/>
<path d="M103.3 121.3l2.7 1.3 2.8-1.3 2.7 2.5 2.7-2.1 2.8-.6 2.7 .3 2.8 .3 2.7-1 2.8 1.6 2.7 .1 2.7-1 2.8-1.1 2.7 .7 2.8 .5 2.7-.5 2.7-.2 2.8 1.4 2.7 1.4 2.8-1.7 2.7 .4 2.8-.9 2.7 .5 2.7-.3 2.8-1.3 2.7 .3 2.8 0 2.7-1.5 2.8 1.8 2.7-.1 2.7-1.6 2.8 2.1 2.7 .4 2.8-2.7 2.7 .8 2.7-.3 2.8 0 2.7-.3 2.8 1.1 2.7-.4 2.8 .9 2.7-1.2 2.7-.1 2.8 .5 2.7-1 2.8-2.2 2.7 3.7 2.8-1.9 2.7-.1 2.7-.3 2.8 1.6 2.7-2 2.8 .1 2.7 .2 2.7-.5 2.8-1.4 2.7-1.4 2.8-.6 2.7-1.5 2.8 2.5 2.7-.5 2.7 1.6 2.8-.5 2.7 .7 2.8-.6 2.7-1.3 2.8-.5 2.7 1.2 2.7 .7 2.8 1.3 2.7 1.8 2.8-.7 2.7-.5 2.7 .1 2.8-.5 2.7-1.6 2.8-1.4 2.7-.9 2.8 1.1 2.7 .3 2.7 2.9 2.8-.5 2.7-.3 2.8 1.5 2.7-1.1 2.8 .1 2.7-2 2.7 1.2 2.8 2.1 2.7-2.4 2.8-1 2.7-2.1 2.8-2.7 2.7-.4 2.7 3 2.8 2.3 2.7 2 2.8-.7 2.7 1.2 2.7-.1 2.8-.9 2.7 .4 2.8-.7 2.7-2.6 2.8 1.7 2.7 1.2 2.7 .9 2.8-3.7 2.7-4.2 2.8-1 2.7-2.7 2.8 1.4 2.7 1.9 2.7 2.2 2.8 3.6 2.7 .2 2.8-.3 2.7 .5 2.7 .4 2.8-.6 2.7-1.3 2.8 1.3 2.7 .9 2.8-.2 2.7-.2 2.7-1 2.8-.5 2.7-.1 2.8-.7 2.7 1.2 2.8-1 2.7 .4 2.7-.4 2.8 2.3 2.7-2.9 2.8 2.5 2.7-.5 2.7-1.7 2.8 .9 2.7-2 2.8 1.4 2.7 1 2.8-1.1 2.7 .5 2.7-1.9 2.8-.1 2.7 .7 2.8 1 2.7-.5 2.8-.9" fill="none" stroke="url(#fl0)" stroke-width="0.9"/>
<path transform="translate(282 118.5) scale(1 1.16)" d="M-8.2 -2.9 -5.3 -6.9 -3.4 -15.1 -2.2 -29.2 -1.4 -47.9 -.9 -65.2 -.6 -76.7 -.4 -82.8 -.2 -85.6 0 -87.7 .2 -85.6 .4 -82.8 .6 -76.7 .9 -65.2 1.4 -47.9 2.2 -29.3 3.4 -15.2 5.3 -7.1 8.2 -3.2Z" fill="url(#sp)" stroke="#b83030" stroke-width="0.4" stroke-opacity="0.6"/>
<path d="M104.5 123.5l2.7-1.5 2.8 0 2.7 .8 2.8 0 2.7 1.5 2.7-2.9 2.8 1.1 2.7 1.1 2.8-.3 2.7-.3 2.7-2.4 2.8 .9 2.7 1.8 2.8-3 2.7 .4 2.8 2.1 2.7 1.4 2.7-3.3 2.8 1.4 2.7-.5 2.8 .3 2.7-1.7 2.8-.2 2.7 .5 2.7 .8 2.8-.4 2.7-.4 2.8 1.9 2.7-2.6 2.7 1.4 2.8-.6 2.7 .1 2.8-.8 2.7-.2 2.8-1.1 2.7 2.3 2.7 .4 2.8-1 2.7 .7 2.8-1.4 2.7 1.4 2.7-.9 2.8-.8 2.7-.1 2.8 .7 2.7-1.2 2.8 .1 2.7 2.6 2.7-2 2.8 0 2.7 .2 2.8 0 2.7-1.1 2.7-1 2.8-.7 2.7-1.8 2.8-.3 2.7 1.1 2.8 .3 2.7-1 2.7 2 2.8-.2 2.7-.2 2.8-1.7 2.7-1.5 2.8-.8 2.7 3.8 2.7 .8 2.8 1.8 2.7-.7 2.8 0 2.7 .9 2.7 1.4 2.8-3.5 2.7-.4 2.8-1.7 2.7-1 2.8-.3 2.7 1 2.7 2.1 2.8-.2 2.7 1.1 2.8 .8 2.7-1.3 2.7 1 2.8-.8 2.7 1.8 2.8-1.4 2.7-1 2.8 0 2.7-3.2 2.7-3.4 2.8 .9 2.7 1.4 2.8 4 2.7 .6 2.7 0 2.8 1.6 2.7-.4 2.8-1.9 2.7 .7 2.8-1.6 2.7 1.2 2.7 .1 2.8-1.2 2.7 .5 2.8-3.8 2.7-2.3 2.7-3 2.8-.3 2.7 .3 2.8 2.3 2.7 4.6 2.8 2.1 2.7 .5 2.7-1.5 2.8 .8 2.7-.9 2.8-.4 2.7 1 2.8 .9 2.7-.6 2.7-1 2.8 .9 2.7-1.4 2.8 1 2.7-.2 2.7 .7 2.8-.6 2.7-1.1 2.8 1.2 2.7 0 2.8 .3 2.7-1.4 2.7 2 2.8-.9 2.7-1.4 2.8-.5 2.7 1.4 2.7-1.1 2.8 2.6 2.7-2.6 2.8 .4 2.7 1.3 2.8 .5 2.7-1.2 2.7-.8 2.8-.1 2.7 .1" fill="none" stroke="url(#fl5)" stroke-width="0.9"/>
<path transform="translate(283.2 119.1) scale(1 1.14)" d="M-8.2 -3.1 -5.3 -7.3 -3.4 -15.8 -2.2 -30.7 -1.4 -50.3 -.9 -68.5 -.6 -80.6 -.4 -87 -.2 -89.9 0 -92.2 .2 -89.9 .4 -87 .6 -80.6 .9 -68.5 1.4 -50.4 2.2 -30.8 3.4 -16 5.3 -7.5 8.2 -3.4Z" fill="url(#sp)" stroke="#b83030" stroke-width="0.4" stroke-opacity="0.6"/>
<path d="M105.7 124.6l2.7-.9 2.8 0 2.7-1.4 2.8 1.3 2.7-1.4 2.8 .8 2.7-2.1 2.7 2.1 2.8-.1 2.7 0 2.8-.3 2.7-2.1 2.7 2.6 2.8 .3 2.7-.7 2.8-.8 2.7 1.4 2.8-1.6 2.7-.1 2.7 .8 2.8 0 2.7 .5 2.8-.5 2.7 .4 2.7-1.9 2.8-.4 2.7 1.6 2.8-.2 2.7 1.6 2.7-1.3 2.8-.8 2.7 0 2.8 0 2.7-.7 2.8 .7 2.7 .3 2.7-1.8 2.8 3.1 2.7-.7 2.8-.5 2.7 0 2.7 0 2.8-.6 2.7 .4 2.8-.7 2.7-.6 2.8 .4 2.7-.1 2.7 .8 2.8 .1 2.7-1 2.8-1.4 2.7-.1 2.7-1.3 2.8-.7 2.7-.9 2.8 1.1 2.7-2.1 2.8 .5 2.7-.7 2.7 1.9 2.8 .9 2.7 .5 2.8-1.6 2.7-.2 2.7-1.3 2.8 1.9 2.7 .9 2.8 2.1 2.7-.6 2.8-1.6 2.7 2 2.7-1.3 2.8 .9 2.7-1.3 2.8-2.4 2.7-2.1 2.7 1.2 2.8 2.2 2.7-.6 2.8 2 2.7-.3 2.8-.2 2.7 .1 2.7 .9 2.8-.2 2.7 1.2 2.8-1.6 2.7 .4 2.7-1.5 2.8-4.3 2.7-1.8 2.8 1 2.7 4.2 2.8 .3 2.7 0 2.7 2.1 2.8-1.2 2.7 .8 2.8-.4 2.7 .2 2.7 1 2.8-1 2.7 .9 2.8-2.7 2.7 .1 2.7-1.7 2.8-4.9 2.7-1.5 2.8-.2 2.7 .3 2.8 3.2 2.7 4.4 2.7 2.2 2.8-.4 2.7-.4 2.8-.7 2.7 .4 2.7-2 2.8 1.7 2.7 .1 2.8-.7 2.7-.6 2.8-.8 2.7 .7 2.7 1.4 2.8-.5 2.7-1.1 2.8 .6 2.7-.5 2.7 .7 2.8-1.5 2.7 .1 2.8 .2 2.7 .8 2.8 1.5 2.7-.3 2.7-1.5 2.8-.4 2.7 3.1 2.8-2.2 2.7-1.5 2.7 .1 2.8 1.3 2.7-1.1 2.8 .5 2.7 .1 2.8-1.2 2.7-.1" fill="none" stroke="url(#fl0)" stroke-width="0.9"/>
<path transform="translate(284.4 119.8) scale(1 1.12)" d="M-8.2 -3 -5.3 -7.1 -3.4 -15.5 -2.2 -30.1 -1.4 -49.3 -.9 -67.1 -.6 -78.9 -.4 -85.2 -.2 -88.1 0 -90.3 .2 -88.1 .4 -85.2 .6 -78.9 .9 -67.1 1.4 -49.3 2.2 -30.2 3.4 -15.6 5.3 -7.3 8.2 -3.3Z" fill="url(#sp)" stroke="#b83030" stroke-width="0.4" stroke-opacity="0.6"/>
<path d="M106.9 124.9l2.8 .3 2.7 0 2.7-2.5 2.8-.5 2.7 1.4 2.8-.8 2.7 1.5 2.7-.6 2.8-1 2.7 .5 2.8 .3 2.7 1.3 2.8-.2 2.7-1 2.7 .1 2.8-.5 2.7 .5 2.8-.5 2.7-.3 2.7-.4 2.8 .3 2.7 .5 2.8-.3 2.7-1.1 2.7 .9 2.8 .6 2.7 0 2.8-1.2 2.7-.3 2.8-.6 2.7 1.3 2.7-1.5 2.8 1.4 2.7-.1 2.8 .2 2.7-1 2.7-.5 2.8 .9 2.7 .3 2.8 .9 2.7-1.6 2.8 .4 2.7-.2 2.7 .4 2.8 .1 2.7-.4 2.8-.9 2.7-.5 2.7 .8 2.8-.5 2.7 .3 2.8-.5 2.7 .6 2.7-2.6 2.8-.6 2.7-1.5 2.8 1.1 2.7-.9 2.8 1 2.7-.6 2.7 1 2.8-.1 2.7 .8 2.8-1.9 2.7-1 2.7-.9 2.8 2.9 2.7 1.9 2.8 .2 2.7-.2 2.7 1.5 2.8 0 2.7-1.5 2.8-.1 2.7 .7 2.8-2.1 2.7-2.6 2.7-1 2.8 1.8 2.7 1 2.8 .7 2.7-.8 2.7 3.3 2.8-1.3 2.7-1 2.8 1.9 2.7 .1 2.7-1.5 2.8-1 2.7-1.1 2.8 0 2.7-3.3 2.8-.6 2.7 3.4 2.7 1.4 2.8 .7 2.7-1.3 2.8 1.5 2.7-.3 2.7 .1 2.8-1 2.7 1.9 2.8-1.4 2.7 1 2.7 .5 2.8-2.5 2.7-2 2.8-5.4 2.7-.7 2.8-.5 2.7 .7 2.7 2.5 2.8 5.3 2.7-.7 2.8 2.3 2.7-2.4 2.7 1.7 2.8-1 2.7 .5 2.8-.3 2.7-1 2.8 1.2 2.7 .9 2.7-1.1 2.8-.4 2.7 2.6 2.8-3 2.7-.2 2.7 2.5 2.8-1.5 2.7-.9 2.8 1.7 2.7-.8 2.7-.1 2.8-.8 2.7-.6 2.8 1 2.7-.2 2.8-.8 2.7 .3 2.7 .5 2.8-1.3 2.7 2.4 2.8-1.5 2.7 .5 2.7 0 2.8-.7 2.7 .1 2.8-2.2" fill="none" stroke="url(#fl1)" stroke-width="0.9"/>
<path transform="translate(285.6 120.4) scale(1 1.10)" d="M-8.2 -3.1 -5.3 -7.3 -3.4 -16 -2.2 -31.1 -1.4 -50.9 -.9 -69.3 -.6 -81.5 -.4 -88 -.2 -91 0 -93.3 .2 -91 .4 -88 .6 -81.5 .9 -69.3 1.4 -51 2.2 -31.2 3.4 -16.2 5.3 -7.5 8.2 -3.4Z" fill="url(#sp)" stroke="#b83030" stroke-width="0.4" stroke-opacity="0.6"/>
<path d="M108.1 123.2l2.8 .5 2.7 2.5 2.8-1.8 2.7-.6 2.7 1.2 2.8-.9 2.7 .6 2.8-.8 2.7 1.7 2.7 .3 2.8-1.3 2.7-.8 2.8-1 2.7 1.4 2.7 .3 2.8-1.5 2.7 .7 2.8-1.6 2.7 1.6 2.8 1.6 2.7-1.1 2.7 .1 2.8 .4 2.7-.6 2.8-.2 2.7-.4 2.7 .2 2.8-.9 2.7-.1 2.8 .2 2.7-.1 2.7 1.8 2.8-.2 2.7-.8 2.8-1.1 2.7 1.5 2.7-1 2.8-.6 2.7-1.6 2.8 1.4 2.7 .7 2.8-1.5 2.7 .7 2.7 .4 2.8-1.3 2.7 1.8 2.8-1.1 2.7 0 2.7-.8 2.8 1.7 2.7-.1 2.8-1.1 2.7-.7 2.7-.9 2.8-.5 2.7-1.5 2.8-.8 2.7 .1 2.7 1.2 2.8-1.5 2.7 3.1 2.8-.6 2.7-.9 2.8 .1 2.7-3.7 2.7-.5 2.8 2.4 2.7 2.8 2.8 .2 2.7 1.4 2.7-.9 2.8-.1 2.7 .2 2.8-.3 2.7-.7 2.7-.3 2.8-3.9 2.7 .1 2.8 .1 2.7 3 2.7 1.4 2.8-.6 2.7 .2 2.8 .6 2.7 .2 2.8 .9 2.7-1.4 2.7-1.5 2.8 2.9 2.7-1.8 2.8-4.2 2.7-2.3 2.7 .2 2.8 5.1 2.7 1 2.8-.4 2.7 0 2.7 .2 2.8 1 2.7-1.3 2.8 1.5 2.7-.3 2.8 .1 2.7-2.4 2.7 1.6 2.8-.6 2.7-.6 2.8-7.6 2.7-1.1 2.7 1.8 2.8 .2 2.7-.1 2.8 6.8 2.7-1.3 2.7 2 2.8 1.8 2.7-3.3 2.8 .5 2.7-.2 2.7 1 2.8-.3 2.7-1.1 2.8 1.5 2.7 1 2.8-2.7 2.7 1.3 2.7-1.7 2.8 1.5 2.7-.1 2.8-.2 2.7 1.8 2.7-3.2 2.8 1.6 2.7-.5 2.8-1.5 2.7 1.1 2.7-.7 2.8 .4 2.7-.4 2.8 .4 2.7-.9 2.7 1.2 2.8-.7 2.7 1 2.8-1.7 2.7 2.9 2.8-2.2 2.7-.2 2.7 0" fill="none" stroke="url(#fl2)" stroke-width="0.9"/>
<path transform="translate(286.8 121.1) scale(1 1.08)" d="M-8.2 -3.1 -5.3 -7.3 -3.4 -16 -2.2 -31.1 -1.4 -50.9 -.9 -69.3 -.6 -81.6 -.4 -88 -.2 -91 0 -93.3 .2 -91 .4 -88 .6 -81.6 .9 -69.3 1.4 -51 2.2 -31.2 3.4 -16.2 5.3 -7.5 8.2 -3.4Z" fill="url(#sp)" stroke="#b83030" stroke-width="0.4" stroke-opacity="0.6"/>
<path d="M109.3 124.2l2.8-.8 2.7 2.4 2.8 1.2 2.7-.8 2.8-.3 2.7-.7 2.7-.1 2.8-1.1 2.7 1.3 2.8-.4 2.7-.2 2.7 .8 2.8-.5 2.7-2.9 2.8 2.5 2.7 .8 2.7 1 2.8-2.9 2.7 1.1 2.8 .3 2.7-2.9 2.7 .9 2.8 2.8 2.7-1.3 2.8-1.3 2.7 .1 2.7 1.7 2.8-2.7 2.7-.1 2.8 2.6 2.7 .6 2.7-.4 2.8-1.9 2.7-.5 2.8 .8 2.7 .6 2.8-.5 2.7-.6 2.7 1.5 2.8 .4 2.7-1.5 2.8-1.2 2.7 .8 2.7 0 2.8 .7 2.7-1.5 2.8 2.3 2.7-1.5 2.7 .3 2.8-.5 2.7 .5 2.8-1.9 2.7 .2 2.7-.2 2.8-1.8 2.7-.3 2.8-.2 2.7-.2 2.7-1.1 2.8 2 2.7 0 2.8 .6 2.7-.4 2.7-.8 2.8-4.1 2.7 3.5 2.8 .1 2.7 2.3 2.8-.4 2.7 2.6 2.7-2.6 2.8 2.2 2.7-1.9 2.8-.2 2.7-.5 2.7-1.2 2.8-1.7 2.7-.8 2.8 2.4 2.7 2.8 2.7 .7 2.8-2.1 2.7-.1 2.8 .3 2.7 .3 2.7-.3 2.8-.2 2.7 .2 2.8 .7 2.7-1.1 2.7-2.3 2.8-3.9 2.7 1.4 2.8 2.2 2.7 .8 2.8 2.2 2.7-1.2 2.7-.6 2.8 3 2.7-.4 2.8-1.8 2.7 1 2.7-1.1 2.8-.2 2.7 1 2.8-1.4 2.7-3.4 2.7-4 2.8 0 2.7-.8 2.8 .6 2.7 .9 2.7 6.1 2.8 1.6 2.7-.7 2.8-.5 2.7 .8 2.7-.5 2.8 0 2.7-.7 2.8-.3 2.7 .6 2.7 .6 2.8-.8 2.7 1.1 2.8-1.8 2.7 .6 2.8 0 2.7 2.3 2.7-4.3 2.8 .7 2.7 .1 2.8 1 2.7-.5 2.7-2.1 2.8 3.2 2.7-1.4 2.8 .1 2.7 .4 2.7-.3 2.8 1.1 2.7-1.5 2.8 1.7 2.7-2.9 2.7 .9 2.8 1.4 2.7 1.1 2.8-2 2.7-.5" fill="none" stroke="url(#fl1)" stroke-width="0.9"/>
<path transform="translate(288 121.7) scale(1 1.07)" d="M-8.2 -3.3 -5.3 -7.8 -3.4 -16.9 -2.2 -32.8 -1.4 -53.8 -.9 -73.2 -.6 -86.1 -.4 -92.9 -.2 -96.1 0 -98.5 .2 -96.1 .4 -92.9 .6 -86.1 .9 -73.2 1.4 -53.8 2.2 -32.9 3.4 -17.1 5.3 -8 8.2 -3.6Z" fill="url(#sp)" stroke="#b83030" stroke-width="0.4" stroke-opacity="0.6"/>
<path d="M110.6 125.7l2.7 .6 2.7 .8 2.8-1.2 2.7 0 2.8-.8 2.7-.4 2.7 .9 2.8-.5 2.7-.9 2.8 .7 2.7 .7 2.7-.9 2.8 1 2.7-.9 2.8 .3 2.7 1 2.7-1.6 2.8 .4 2.7-.6 2.8 1.7 2.7-2.2 2.8-.1 2.7 1.3 2.7-.3 2.8-.2 2.7 0 2.8-.8 2.7 1.4 2.7 .3 2.8-.9 2.7-2 2.8 2 2.7 .5 2.7-.1 2.8-1 2.7-1 2.8 1.7 2.7-.9 2.7-.1 2.8-.3 2.7 .3 2.8-.9 2.7 .3 2.7 1.1 2.8-2.8 2.7 3.4 2.8-.1 2.7-2.2 2.7 .6 2.8 .3 2.7-.6 2.8-.8 2.7 .4 2.7-.5 2.8-.4 2.7-.9 2.8-.7 2.7-2.1 2.7 .9 2.8 .2 2.7 1.7 2.8-.9 2.7 2.4 2.7-3 2.8-2.1 2.7 1.1 2.8 2.5 2.7 .4 2.7 1.8 2.8 .2 2.7-.8 2.8 .9 2.7-1 2.7-2.2 2.8 1.2 2.7-3.1 2.8 0 2.7-1 2.8 2 2.7 1.6 2.7 0 2.8-1 2.7 2 2.8-1.3 2.7 .8 2.7-.4 2.8 1 2.7 .1 2.8-.7 2.7-.5 2.7-3.3 2.8-1.8 2.7-.6 2.8 2.9 2.7 .6 2.7 .7 2.8 1.1 2.7 .9 2.8-1.1 2.7-.2 2.7 .9 2.8 .5 2.7 .8 2.8-1.6 2.7-1.9 2.7 1.7 2.8-3.1 2.7-4.6 2.8-1.8 2.7-.4 2.7 2.8 2.8 1.1 2.7 4 2.8 1.6 2.7-1.2 2.7 1.4 2.8-1.2 2.7-.9 2.8 1.8 2.7-.3 2.7 .2 2.8-1 2.7 2.6 2.8-.7 2.7-1.1 2.7-1.1 2.8 .2 2.7 1.2 2.8-2.2 2.7 1.2 2.7 .7 2.8-1.1 2.7-.8 2.8 1.2 2.7 1.2 2.8-.9 2.7-.6 2.7-.9 2.8 1.7 2.7-1.2 2.8 1.3 2.7-1.2 2.7 1.2 2.8-.8 2.7 .9 2.8-.6 2.7 .5 2.7 .3 2.8-2.9" fill="none" stroke="url(#fl3)" stroke-width="0.9"/>
<path transform="translate(289.2 122.4) scale(1 1.05)" d="M-8.2 -3.3 -5.3 -7.7 -3.4 -16.9 -2.2 -32.8 -1.4 -53.7 -.9 -73.1 -.6 -86 -.4 -92.8 -.2 -96 0 -98.4 .2 -96 .4 -92.8 .6 -86 .9 -73.1 1.4 -53.8 2.2 -32.9 3.4 -17 5.3 -8 8.2 -3.6Z" fill="url(#sp)" stroke="#b83030" stroke-width="0.4" stroke-opacity="0.6"/>
<path d="M111.8 126.2l2.7 .7 2.8-1.7 2.7 1.5 2.7-.7 2.8-.7 2.7 .8 2.8-1.2 2.7 1.4 2.7 0 2.8-.3 2.7 1.1 2.8-.2 2.7-1.7 2.7 2.2 2.8-2.6 2.7 .7 2.8-.9 2.7 .3 2.7 .1 2.8-1.1 2.7 1.6 2.8 0 2.7-1.2 2.7 1.6 2.8-1.7 2.7 .4 2.8 1 2.7 .6 2.7 .6 2.8-3.5 2.7 2.9 2.8-.3 2.7-1.9 2.7 .3 2.8 .2 2.7 .1 2.8 .4 2.7 .4 2.7-.3 2.8-1.2 2.7-.5 2.8-.2 2.7 1.1 2.7 1.9 2.8-2.5 2.7 .5 2.8 2.2 2.7-3.7 2.7 1 2.8 .1 2.7-.5 2.8-.3 2.7-.6 2.7-.6 2.8-.7 2.7-1.3 2.8-.4 2.7-2.2 2.7 2.2 2.8 1 2.7 .7 2.8-.2 2.7 .3 2.7-1.4 2.8-1.5 2.7-.1 2.8 1.3 2.7 1.3 2.7 1.5 2.8 .5 2.7 .9 2.8-.1 2.7-1.1 2.7-.1 2.8-1.1 2.7-.9 2.8-2.7 2.7 1.6 2.7 1.1 2.8 1.3 2.7-.4 2.8 1.3 2.7 .3 2.7-1.2 2.8 .3 2.7-1 2.8 .5 2.7 .1 2.7 .1 2.8-1.8 2.7-1.3 2.8-2.1 2.7-1.8 2.7 4.2 2.8 1.7 2.7 .1 2.8-.3 2.7 3.4 2.7-1.7 2.8-2.1 2.7 2.6 2.8-2 2.7 .7 2.7 .4 2.8-.7 2.7 1.2 2.8-4.5 2.7-5.4 2.7 .7 2.8-.8 2.7-1.4 2.8 3.5 2.7 5.2 2.7-.5 2.8 2.8 2.7-1.3 2.8-.4 2.7 .3 2.7-1.1 2.8 2.2 2.7-1.6 2.8 .7 2.7-1.8 2.7 0 2.8 1.6 2.7 .3 2.8-1 2.7 .6 2.7-.3 2.8-.9 2.7 .7 2.8-2.1 2.7 1.5 2.7 .5 2.8 .5 2.7-.6 2.8-1.5 2.7 .4 2.7-.8 2.8 0 2.7 .6 2.8 1.1 2.7-.5 2.7-.3 2.8 1.5 2.7-1.8 2.8 1.1 2.7-.9 2.7 .4" fill="none" stroke="url(#fl3)" stroke-width="0.9"/>
<path transform="translate(290.4 123.1) scale(1 1.03)" d="M-8.2 -3.4 -5.3 -8.1 -3.4 -17.7 -2.2 -34.3 -1.4 -56.2 -.9 -76.4 -.6 -89.9 -.4 -97.1 -.2 -100.4 0 -102.9 .2 -100.4 .4 -97.1 .6 -90 .9 -76.5 1.4 -56.2 2.2 -34.4 3.4 -17.8 5.3 -8.3 8.2 -3.7Z" fill="url(#sp)" stroke="#b83030" stroke-width="0.4" stroke-opacity="0.6"/>
<path d="M113 128.4l2.7-1.1 2.8-1.9 2.7 2.6 2.8-.7 2.7-.1 2.7-.5 2.8 1.7 2.7-1.8 2.7-.3 2.8-1.8 2.7 2.3 2.8 .4 2.7-.7 2.7 2.4 2.8-2.7 2.7-1.2 2.8 1.4 2.7 0 2.7 .1 2.8-.4 2.7 1.2 2.8-2.6 2.7 1.8 2.7-.1 2.8-2 2.7 1.5 2.8 .3 2.7-1.9 2.7 1.2 2.8-.7 2.7 1.3 2.8 1 2.7-1.8 2.7-1.2 2.8 1.7 2.7-.8 2.8-.4 2.7 .4 2.7 .1 2.8-.7 2.7 .4 2.8 .7 2.7-1.5 2.7 .1 2.8 .4 2.7-.4 2.8 3 2.7-2.7 2.7 .1 2.8 1.7 2.7-3.9 2.8 1.2 2.7 .2 2.7-.8 2.8-1.4 2.7-.5 2.8 .8 2.7-1.4 2.7-.6 2.8 .3 2.7 .4 2.8 2.3 2.7-.3 2.7-2.1 2.8-1.1 2.7-.8 2.8 3.1 2.7 .6 2.7 1.1 2.8-.4 2.7 .4 2.8 .7 2.7 .3 2.7-1.5 2.8-.4 2.7-1 2.8-2.7 2.7-1.2 2.7 1.3 2.8 2.2 2.7 .2 2.8 1.8 2.7-.2 2.7 .7 2.8-.3 2.7-2.2 2.8 1 2.7-.2 2.7-2 2.8-.4 2.7-.1 2.7-4.4 2.8 1.9 2.7 1.4 2.8 4.7 2.7-.2 2.7 0 2.8-2.7 2.7 3.4 2.8-2.7 2.7 0 2.7 .8 2.8-.7 2.7-1.7 2.8 2.1 2.7 .3 2.7-4.1 2.8-4.2 2.7 .1 2.8-1.3 2.7 .2 2.7 4.1 2.8 4.3 2.7 .9 2.8 .5 2.7-1.7 2.7 .2 2.8 2.2 2.7-1.7 2.8-.6 2.7 1.4 2.7-1.1 2.8-.5 2.7 1.7 2.8-1.3 2.7 1.8 2.7-2.9 2.8 1.3 2.7 .6 2.8 .3 2.7-.2 2.7-2.7 2.8 1.9 2.7-.3 2.8-.2 2.7 .9 2.7-2.1 2.8 2.9 2.7-3.1 2.8 1.4 2.7-.8 2.7-.2 2.8-.6 2.7 1.9 2.8-1.8 2.7 .6 2.7 0 2.8 .1 2.7-1.4" fill="none" stroke="url(#fl0)" stroke-width="0.9"/>
<path transform="translate(291.5 123.7) scale(1 1.01)" d="M-8.2 -3.3 -5.3 -7.8 -3.4 -17 -2.2 -33 -1.4 -54 -.9 -73.6 -.6 -86.5 -.4 -93.4 -.2 -96.6 0 -99 .2 -96.6 .4 -93.4 .6 -86.6 .9 -73.6 1.4 -54.1 2.2 -33.1 3.4 -17.1 5.3 -8 8.2 -3.6Z" fill="url(#sp)" stroke="#b83030" stroke-width="0.4" stroke-opacity="0.6"/>
<path d="M114.2 126.8l2.7 .3 2.8 2.6 2.7-1.8 2.8-1.1 2.7 1.7 2.7 .7 2.8 .5 2.7-4 2.8 2.6 2.7-1 2.7 1.1 2.8-1.5 2.7-1.1 2.8 2.7 2.7-1.3 2.7 .6 2.8 1 2.7-1 2.8-.9 2.7-1.2 2.7 0 2.8 1.1 2.7 1.4 2.8-2.1 2.7 .5 2.7 0 2.8 .9 2.7-.9 2.8-2 2.7 .4 2.7 .1 2.8 .5 2.7 .9 2.7-.4 2.8-.2 2.7-.3 2.8 .7 2.7 .4 2.7-1.9 2.8 1.3 2.7-1.2 2.8 .9 2.7-.8 2.7 .1 2.8-.3 2.7 0 2.8 1.4 2.7 .3 2.7-1.3 2.8-1.7 2.7 2.1 2.8-.3 2.7-3.4 2.7 2.8 2.8-1.7 2.7-.9 2.8-.4 2.7-.3 2.7-1.5 2.8 1.2 2.7 .7 2.8 2.3 2.7-2.2 2.7-.7 2.8-1.9 2.7-.6 2.8 2.6 2.7 2.1 2.7 .2 2.8 1.1 2.7 .2 2.7 .3 2.8-2.2 2.7 1.2 2.8-1.8 2.7-2.7 2.7-2.4 2.8 2 2.7 1.2 2.8 1.8 2.7 2.1 2.7-.6 2.8-3 2.7 2.6 2.8-1.8 2.7 .9 2.7-1 2.8 .4 2.7 .7 2.8 .4 2.7-5.1 2.7-2.1 2.8 .7 2.7 2.5 2.8 3.7 2.7-.3 2.7 .2 2.8 1.3 2.7-.3 2.8-1.1 2.7 1.9 2.7-2.8 2.8 0 2.7 .7 2.8-.4 2.7 1.7 2.7-4.4 2.8-5.2 2.7-1.4 2.7-.6 2.8 1.2 2.7 1 2.8 5.9 2.7 .8 2.7-.3 2.8 1.7 2.7 .2 2.8-1.8 2.7 1.8 2.7-.6 2.8-1.5 2.7 1.8 2.8-.1 2.7 .1 2.7-.2 2.8-2.7 2.7 1.1 2.8-.4 2.7 2.6 2.7 .4 2.8-1.2 2.7-2.1 2.8-.2 2.7 2.9 2.7-.3 2.8-2.2 2.7 .3 2.8-.3 2.7-.2 2.7 1.5 2.8-1.1 2.7 .3 2.8-1.5 2.7 1.4 2.7 1.4 2.8-3 2.7-.5 2.7 .7 2.8 1.1" fill="none" stroke="url(#fl5)" stroke-width="0.9"/>
<path transform="translate(292.7 124.4) scale(1 0.99)" d="M-8.2 -3.4 -5.3 -8 -3.4 -17.5 -2.2 -34 -1.4 -55.6 -.9 -75.7 -.6 -89 -.4 -96.1 -.2 -99.4 0 -101.9 .2 -99.4 .4 -96.1 .6 -89.1 .9 -75.7 1.4 -55.7 2.2 -34 3.4 -17.6 5.3 -8.2 8.2 -3.7Z" fill="url(#sp)" stroke="#b83030" stroke-width="0.4" stroke-opacity="0.6"/>
<path d="M115.4 129.1l2.8-1 2.7-.3 2.7 .8 2.8 1.7 2.7-2.4 2.8 1.4 2.7 .4 2.7-1.4 2.8-.3 2.7 .2 2.8-.7 2.7 2.3 2.7-2.4 2.8-1 2.7 1.5 2.7 .3 2.8-.3 2.7-1.4 2.8 1.3 2.7 .5 2.7 .8 2.8-2.9 2.7-.1 2.8 1.2 2.7-1.9 2.7 2.2 2.8-1.1 2.7 1.8 2.8-.3 2.7-1 2.7-.5 2.8-.2 2.7 1.3 2.8-.3 2.7-.5 2.7 .1 2.8-.1 2.7-1 2.7-.4 2.8 2.7 2.7-2.9 2.8 1 2.7-.2 2.7-.1 2.8-.6 2.7 .2 2.8 1.9 2.7-2.2 2.7 1.7 2.8-1.5 2.7-.1 2.8 1.3 2.7-2 2.7-.4 2.8-.5 2.7-3.2 2.8 1.1 2.7 .2 2.7-1.9 2.8 2.1 2.7 .7 2.7 2.4 2.8-2.4 2.7-1.6 2.8-2.7 2.7 2.6 2.7 .3 2.8 1.5 2.7 1.2 2.8 .7 2.7 1.5 2.7-1.7 2.8 .6 2.7 .7 2.8-3.1 2.7-1.2 2.7-1.7 2.8-2 2.7 4 2.8 3.1 2.7 1 2.7-2.3 2.8 .6 2.7 .5 2.8 1.2 2.7-1.3 2.7 .3 2.8-1 2.7 .4 2.7-1 2.8-3.3 2.7-2.1 2.8-.6 2.7 6.3 2.7 .2 2.8-1.7 2.7 1 2.8 1.1 2.7-.8 2.7 .3 2.8-.3 2.7-1.7 2.8 1.6 2.7-.6 2.7 .9 2.8-.3 2.7-1.8 2.8-5.5 2.7-1.9 2.7-.2 2.8-.1 2.7 2.8 2.7 4 2.8 1.9 2.7-1.4 2.8 .6 2.7-.8 2.7 1.3 2.8-1.2 2.7 .9 2.8 1.6 2.7-1.6 2.7 .1 2.8 1.1 2.7-.5 2.8-.4 2.7-2.6 2.7 1.7 2.8-1.4 2.7 .7 2.8-.2 2.7 .2 2.7 2 2.8-2.5 2.7 2 2.7-1.4 2.8 .5 2.7-1.7 2.8 .4 2.7-.7 2.7 1.2 2.8 .4 2.7-.8 2.8-1.5 2.7 1.6 2.7 .4 2.8 1.1 2.7-.5 2.8-.6" fill="none" stroke="url(#fl5)" stroke-width="0.9"/>
<path transform="translate(293.9 125) scale(1 0.97)" d="M-8.2 -3.4 -5.3 -8.1 -3.4 -17.6 -2.2 -34.2 -1.4 -56.1 -.9 -76.3 -.6 -89.8 -.4 -96.9 -.2 -100.2 0 -102.7 .2 -100.2 .4 -96.9 .6 -89.8 .9 -76.3 1.4 -56.1 2.2 -34.3 3.4 -17.8 5.3 -8.3 8.2 -3.7Z" fill="url(#sp)" stroke="#b83030" stroke-width="0.4" stroke-opacity="0.6"/>
<path d="M116.6 128.7l2.8 .6 2.7-.2 2.8-1.4 2.7-.3 2.7 .5 2.8-.3 2.7 .2 2.7-.6 2.8 2.7 2.7-.7 2.8-.7 2.7-.2 2.7-.9 2.8 2.8 2.7-1.9 2.8-.1 2.7 .8 2.7-.6 2.8-1.1 2.7 .5 2.8 .4 2.7-.3 2.7 .2 2.8-1 2.7 .9 2.7-1 2.8 1.3 2.7-.5 2.8 .9 2.7-.9 2.7-1 2.8 1.6 2.7-.6 2.8-.5 2.7 .4 2.7-1.2 2.8 1.9 2.7-2 2.8-.5 2.7-.3 2.7 1.5 2.8 .6 2.7 .6 2.7-2.1 2.8-.2 2.7 .5 2.8-.2 2.7-.3 2.7 .8 2.8 .9 2.7-.3 2.8-.9 2.7-.4 2.7-.1 2.8-1.8 2.7-.3 2.8-2.1 2.7 .3 2.7-.7 2.8 2.4 2.7 .4 2.7 1.1 2.8-1.6 2.7-3.8 2.8 .7 2.7 .5 2.7 1.6 2.8 2 2.7-.3 2.8 1 2.7 .7 2.7 .9 2.8-2.1 2.7-.9 2.8-.2 2.7-1 2.7-2.1 2.8-.2 2.7 .9 2.7 2.3 2.8-.3 2.7 1.5 2.8 .4 2.7-2.4 2.7 2.6 2.8-.3 2.7-2.6 2.8 1.5 2.7-1.6 2.7 2.9 2.8-6 2.7-1.6 2.8 .4 2.7 2.5 2.7 5 2.8-1 2.7-1.2 2.7-2.6 2.8 3.6 2.7-2.9 2.8 1.5 2.7-.4 2.7 1.7 2.8-1.4 2.7 1.2 2.8 .2 2.7-4.9 2.7-2.9 2.8-1.8 2.7-1.2 2.8 1.6 2.7 3.2 2.7 3.2 2.8 1.1 2.7-1.2 2.7 2.4 2.8-1.8 2.7 0 2.8 1 2.7-.3 2.7-.2 2.8 .9 2.7 .2 2.8-1.9 2.7 1.5 2.7-.1 2.8-1.7 2.7 1.2 2.8-.2 2.7 .9 2.7-.2 2.8 0 2.7 0 2.7-2.5 2.8 2 2.7 1.2 2.8-1.2 2.7-1.7 2.7 1.7 2.8-1.1 2.7 .8 2.8 .7 2.7-1.2 2.7 .4 2.8-1.2 2.7-.5 2.8 .7 2.7-2.6 2.7 3.3" fill="none" stroke="url(#fl3)" stroke-width="0.9"/>
<path transform="translate(295.1 125.7) scale(1 0.96)" d="M-8.2 -3.4 -5.3 -8.2 -3.4 -17.8 -2.2 -34.6 -1.4 -56.6 -.9 -77 -.6 -90.6 -.4 -97.8 -.2 -101.2 0 -103.7 .2 -101.2 .4 -97.8 .6 -90.7 .9 -77.1 1.4 -56.7 2.2 -34.6 3.4 -18 5.3 -8.4 8.2 -3.8Z" fill="url(#sp)" stroke="#b83030" stroke-width="0.4" stroke-opacity="0.6"/>
<path d="M117.9 128.7l2.7 .7 2.7 2.5 2.8-1.8 2.7-1.3 2.7 .9 2.8 1.1 2.7-.7 2.8-.9 2.7-.8 2.7 1.6 2.8-.7 2.7 .9 2.8 .2 2.7-.7 2.7-1.8 2.8 .6 2.7 .8 2.7-.3 2.8-.5 2.7 .5 2.8 .2 2.7-.1 2.7-.9 2.8 .8 2.7-1.1 2.8 2.4 2.7-1.1 2.7-.3 2.8-1 2.7 1.3 2.7-.4 2.8-.8 2.7 .3 2.8 .5 2.7-.4 2.7 .5 2.8-1.6 2.7 .2 2.8-.4 2.7-1.3 2.7 .8 2.8 .6 2.7 .5 2.7-2.2 2.8 1.8 2.7 .3 2.8-1.4 2.7 .7 2.7 .5 2.8-.8 2.7-1.6 2.8 1.3 2.7-.7 2.7 .4 2.8-1.2 2.7-2 2.7 .2 2.8-.4 2.7-.8 2.8 1.7 2.7-1.1 2.7 2.6 2.8 .2 2.7-1.2 2.8-1.3 2.7-1.9 2.7 2.6 2.8 .7 2.7 2.5 2.8-1.3 2.7-.6 2.7 1.4 2.8-.2 2.7 1.8 2.7-4.9 2.8 0 2.7-2.5 2.8 1 2.7 1 2.7 3 2.8-.8 2.7 .7 2.8 .4 2.7-.7 2.7 1.9 2.8-1.8 2.7 .5 2.7-1.8 2.8 .4 2.7-.1 2.8-2.5 2.7-5.7 2.7 4 2.8 .3 2.7 3 2.8 .7 2.7 2.5 2.7-2.5 2.8 1.1 2.7 .3 2.7-1.4 2.8 1.1 2.7-1.2 2.8 1.3 2.7-1.4 2.7-.1 2.8-1.4 2.7-4.6 2.8-1.9 2.7-.3 2.7 .4 2.8 .6 2.7 5.8 2.7 1.8 2.8 0 2.7 .4 2.8-1.1 2.7 .3 2.7 .5 2.8 0 2.7-.4 2.8 .6 2.7-1.1 2.7 .8 2.8-1.3 2.7 .7 2.7-.8 2.8 .9 2.7 1.1 2.8-.5 2.7-1 2.7-.7 2.8-.1 2.7-.1 2.8-.2 2.7 .2 2.7-.1 2.8 .5 2.7-.7 2.8 .5 2.7-.1 2.7-.3 2.8-1.9 2.7 3.3 2.7-.9 2.8-.3 2.7-.7 2.8 .3 2.7-1.5" fill="none" stroke="url(#fl3)" stroke-width="0.9"/>
<path transform="translate(283.1 126.6) scale(1 0.90)" d="M-8.2 -.1 -5.3 -.5 -3.4 -1.3 -2.2 -2.6 -1.4 -4.3 -.9 -5.9 -.6 -7 -.4 -7.6 -.2 -7.8 0 -8 .2 -7.8 .4 -7.6 .6 -7 .9 -6 1.4 -4.4 2.2 -2.7 3.4 -1.5 5.3 -.8 8.2 -.5Z" fill="url(#sp3)" stroke="#ffe0e0" stroke-width="0.5" stroke-opacity="0.85"/>
<path transform="translate(296.3 126.3) scale(1 0.94)" d="M-8.2 -3.6 -5.3 -8.6 -3.4 -18.8 -2.2 -36.4 -1.4 -59.6 -.9 -81.2 -.6 -95.5 -.4 -103.1 -.2 -106.6 0 -109.3 .2 -106.6 .4 -103.1 .6 -95.5 .9 -81.2 1.4 -59.7 2.2 -36.5 3.4 -18.9 5.3 -8.8 8.2 -4Z" fill="url(#sp)" stroke="#b83030" stroke-width="0.4" stroke-opacity="0.6"/>
<path d="M119.1 131.7l2.7-.5 2.7-1.2 2.8 .3 2.7 .1 2.8-.2 2.7-.3 2.7-.6 2.8 .5 2.7 1.4 2.7-.5 2.8-2 2.7-.5 2.8 .8 2.7-.2 2.7 .7 2.8-1.7 2.7 2.3 2.8-.2 2.7 .3 2.7-2.1 2.8 1.8 2.7-1 2.7 1.6 2.8 .1 2.7-2.3 2.8 .2 2.7-.2 2.7 .5 2.8 .4 2.7 .1 2.8 .5 2.7-.7 2.7-1.6 2.8 1.3 2.7 1 2.7-1 2.8 .6 2.7 .1 2.8-1 2.7 .5 2.7 .4 2.8-2.5 2.7-.3 2.7 1.4 2.8-1.2 2.7 1.6 2.8-.4 2.7-1.3 2.7 .8 2.8-.6 2.7 3 2.8-3.1 2.7 .1 2.7-.9 2.8 .4 2.7-1.4 2.7-1.9 2.8-.2 2.7-.1 2.8 .4 2.7 .4 2.7 1.2 2.8 .7 2.7-1 2.8-2 2.7 .4 2.7 2.2 2.8 1 2.7 2.6 2.7-.9 2.8-.4 2.7-1.3 2.8-.6 2.7 .4 2.7-.6 2.8-1.5 2.7-3.2 2.8 .3 2.7 3 2.7 1.1 2.8 .5 2.7-.3 2.7 1.1 2.8-1.7 2.7 .2 2.8 1.4 2.7-.3 2.7 .6 2.8-.2 2.7-2.1 2.7-3.6 2.8-2.7 2.7 1.5 2.8 3.4 2.7 2.3 2.7-.3 2.8 .8 2.7-1.1 2.8 .7 2.7-.4 2.7 .6 2.8-2.3 2.7 .7 2.7 .9 2.8 .8 2.7-1.5 2.8-2.7 2.7-3 2.7-2.8 2.8-1.9 2.7 2 2.8 3.3 2.7 3.6 2.7 .1 2.8 2 2.7-.1 2.7-.2 2.8-.4 2.7-1 2.8 .7 2.7 2.2 2.7-2.4 2.8 0 2.7-.3 2.8 .3 2.7 .3 2.7-.7 2.8 1.1 2.7 .8 2.7-1.3 2.8 .7 2.7-2.6 2.8 1.6 2.7-1.6 2.7 2.6 2.8-.2 2.7-1.5 2.7 1.9 2.8-1.1 2.7 1.2 2.8-2.2 2.7 1.9 2.7-1.5 2.8 1.4 2.7-2.1 2.8-.6 2.7 .8 2.7 1 2.8-1.3" fill="none" stroke="url(#fl4)" stroke-width="0.9"/>
<path transform="translate(284.3 127.3) scale(1 0.90)" d="M-8.2 -.5 -5.3 -1.5 -3.4 -3.4 -2.2 -6.7 -1.4 -11 -.9 -15 -.6 -17.7 -.4 -19.1 -.2 -19.8 0 -20.3 .2 -19.8 .4 -19.1 .6 -17.7 .9 -15.1 1.4 -11.1 2.2 -6.8 3.4 -3.6 5.3 -1.7 8.2 -.9Z" fill="url(#sp3)" stroke="#ffe0e0" stroke-width="0.5" stroke-opacity="0.85"/>
<path transform="translate(297.5 127) scale(1 0.92)" d="M-8.2 -3.6 -5.3 -8.6 -3.4 -18.9 -2.2 -36.6 -1.4 -59.9 -.9 -81.5 -.6 -95.9 -.4 -103.5 -.2 -107.1 0 -109.7 .2 -107.1 .4 -103.5 .6 -95.9 .9 -81.6 1.4 -60 2.2 -36.7 3.4 -19 5.3 -8.9 8.2 -4Z" fill="url(#sp)" stroke="#b83030" stroke-width="0.4" stroke-opacity="0.6"/>
<path d="M120.3 129.5l2.7 1.4 2.8 .4 2.7 .3 2.7-.6 2.8 .1 2.7 .3 2.7-.9 2.8-1.5 2.7 2.4 2.8-.3 2.7-.2 2.7 .6 2.8-1.9 2.7 1 2.8-.7 2.7 1.9 2.7-2 2.8 .6 2.7 1.1 2.7-2.1 2.8-.2 2.7 .6 2.8-.3 2.7 1.3 2.7-1.9 2.8 1.1 2.7-.7 2.7-.1 2.8 0 2.7 1 2.8-.9 2.7 0 2.7-.9 2.8 1.6 2.7-1.6 2.7 .4 2.8 .3 2.7-1.7 2.8 1 2.7 1.1 2.7-.8 2.8 .9 2.7 .3 2.8-.6 2.7-.1 2.7-2 2.8 .7 2.7 2.8 2.7-2.1 2.8 .4 2.7-.8 2.8-.6 2.7-.4 2.7-1 2.8 .2 2.7-2.7 2.7 .8 2.8-1.6 2.7 1.3 2.8-.1 2.7 2 2.7-1.2 2.8 .8 2.7-.7 2.7-2.6 2.8-.1 2.7 3.9 2.8 1.2 2.7 .8 2.7-1.6 2.8 .6 2.7 .7 2.8-.1 2.7-.9 2.7 1.1 2.8-3.8 2.7-3.3 2.7 2.6 2.8 1.5 2.7 1.7 2.8-.6 2.7 1.3 2.7-2.4 2.8 1.8 2.7 .2 2.7 .5 2.8-1.7 2.7-.4 2.8 .6 2.7-2 2.7-2.5 2.8-1.9 2.7 .7 2.8 3.4 2.7 1.3 2.7 1.2 2.8-1.6 2.7 .6 2.7 .7 2.8 .2 2.7-.8 2.8-.6 2.7 .6 2.7-.7 2.8 1.2 2.7-.8 2.7-2.9 2.8-4.3 2.7-1.9 2.8-.7 2.7 1.2 2.7 2 2.8 5.8 2.7 .3 2.7 .8 2.8-.1 2.7-1 2.8-.7 2.7 1.2 2.7-.2 2.8-1.2 2.7 1.9 2.8-1.6 2.7 1.8 2.7 .6 2.8-2.1 2.7 .5 2.7 .2 2.8 1.6 2.7-2.5 2.8 .7 2.7 .6 2.7-1 2.8 .9 2.7-.5 2.7 0 2.8-1.6 2.7 .9 2.8-1.3 2.7 1.8 2.7 .3 2.8-2.7 2.7 2.8 2.7-2.4 2.8 2 2.7-1.7 2.8 1.3 2.7-2.1 2.7-.5" fill="none" stroke="url(#fl1)" stroke-width="0.9"/>
<path transform="translate(285.5 127.9) scale(1 0.90)" d="M-8.2 -.7 -5.3 -1.8 -3.4 -4.1 -2.2 -8 -1.4 -13.1 -.9 -17.9 -.6 -21.1 -.4 -22.8 -.2 -23.5 0 -24.1 .2 -23.5 .4 -22.8 .6 -21.1 .9 -17.9 1.4 -13.2 2.2 -8.1 3.4 -4.2 5.3 -2 8.2 -1Z" fill="url(#sp3)" stroke="#ffe0e0" stroke-width="0.5" stroke-opacity="0.85"/>
<path transform="translate(298.7 127.7) scale(1 0.90)" d="M-8.2 -3.6 -5.3 -8.6 -3.4 -18.8 -2.2 -36.4 -1.4 -59.7 -.9 -81.2 -.6 -95.5 -.4 -103.1 -.2 -106.6 0 -109.3 .2 -106.6 .4 -103.1 .6 -95.6 .9 -81.2 1.4 -59.7 2.2 -36.5 3.4 -18.9 5.3 -8.8 8.2 -4Z" fill="url(#sp)" stroke="#b83030" stroke-width="0.4" stroke-opacity="0.6"/>
<path d="M121.5 132.2l2.7-1.1 2.8-1.3 2.7 2.3 2.7 .5 2.8-2.7 2.7 1.8 2.8-.9 2.7 .4 2.7-.1 2.8 .4 2.7-.2 2.7 1.4 2.8-1.1 2.7 .2 2.8-1.9 2.7 1.3 2.7-.4 2.8 1.5 2.7-1.6 2.7-1.4 2.8 1.2 2.7-.7 2.8 1 2.7 .2 2.7-1.4 2.8 1.2 2.7 .5 2.8-.9 2.7 .2 2.7-1.4 2.8 .3 2.7 1.8 2.7-1.8 2.8 1.6 2.7-1.4 2.8-.4 2.7 .9 2.7 0 2.8-1.2 2.7 .9 2.7 .7 2.8-2.6 2.7 .7 2.8 .3 2.7 0 2.7-.6 2.8 .7 2.7-.7 2.7 .4 2.8 .7 2.7-1.8 2.8 .5 2.7 .3 2.7-1 2.8 1 2.7-1.5 2.7-.8 2.8-2.2 2.7 .1 2.8 0 2.7 1.3 2.7-.5 2.8 2 2.7-1 2.7-1.7 2.8-1.1 2.7 2.9 2.8 2.1 2.7 .3 2.7-.6 2.8 1.3 2.7-1.2 2.7-.1 2.8-1.8 2.7 .4 2.8-.6 2.7-3.1 2.7 0 2.8 3 2.7 3.4 2.7-2.6 2.8 1 2.7 .5 2.8-.6 2.7-1.3 2.7-.5 2.8 1.9 2.7-1.9 2.7 1.2 2.8-1 2.7-2.4 2.8-2.8 2.7 .5 2.7 3.4 2.8 1.4 2.7 1.5 2.8-1.4 2.7 1.1 2.7-1.1 2.8 .5 2.7 1.4 2.7-2.7 2.8 .8 2.7 .2 2.8 .2 2.7-2.1 2.7-.8 2.8-5.7 2.7-1 2.7 1.2 2.8-1.5 2.7 4.8 2.8 2.8 2.7 1.1 2.7 .2 2.8 .8 2.7-2 2.7-.4 2.8 2.4 2.7-.6 2.8-1.8 2.7 1.8 2.7-1.3 2.8 1.7 2.7-.4 2.7-.9 2.8-.2 2.7 1.7 2.8-.4 2.7-1.5 2.7-.7 2.8 .6 2.7 .1 2.7-.2 2.8 1.5 2.7-1.5 2.8-.5 2.7 .2 2.7 1.5 2.8-.2 2.7-2 2.7 2.2 2.8-.3 2.7-2.4 2.8 2.1 2.7-.2 2.7-1.3 2.8-.1 2.7 .8" fill="none" stroke="url(#fl2)" stroke-width="0.9"/>
<path transform="translate(286.7 128.6) scale(1 0.90)" d="M-8.2 -.6 -5.3 -1.8 -3.4 -4 -2.2 -7.8 -1.4 -12.7 -.9 -17.4 -.6 -20.4 -.4 -22.1 -.2 -22.8 0 -23.4 .2 -22.8 .4 -22.1 .6 -20.5 .9 -17.4 1.4 -12.8 2.2 -7.9 3.4 -4.1 5.3 -2 8.2 -1Z" fill="url(#sp3)" stroke="#ffe0e0" stroke-width="0.5" stroke-opacity="0.85"/>
<path transform="translate(299.9 128.3) scale(1 0.88)" d="M-8.2 -3.7 -5.3 -8.7 -3.4 -19 -2.2 -36.9 -1.4 -60.4 -.9 -82.2 -.6 -96.7 -.4 -104.4 -.2 -107.9 0 -110.6 .2 -107.9 .4 -104.4 .6 -96.7 .9 -82.2 1.4 -60.4 2.2 -37 3.4 -19.2 5.3 -8.9 8.2 -4Z" fill="url(#sp)" stroke="#b83030" stroke-width="0.4" stroke-opacity="0.6"/>
<path d="M122.7 133.4l2.7 0 2.8-2.1 2.7 .6 2.8-.3 2.7-.1 2.7 1.6 2.8-1.4 2.7-.7 2.7 .4 2.8 1.6 2.7 .3 2.8-.7 2.7-1.3 2.7 .6 2.8-.4 2.7 1.3 2.7-1.9 2.8 1.3 2.7-1.7 2.8 1 2.7 2.6 2.7-2.6 2.8 .6 2.7-.1 2.7-.7 2.8-1.2 2.7 .2 2.8-.6 2.7 1.3 2.7 1.6 2.8-1.3 2.7 .3 2.7-.3 2.8-3 2.7 1.6 2.8 1.5 2.7-2 2.7 1.3 2.8 .9 2.7-2.3 2.7 1.4 2.8-.6 2.7-2 2.8 2.9 2.7-1.9 2.7 1.2 2.8 .7 2.7-.9 2.7-.5 2.8-.1 2.7 1.3 2.8-2.5 2.7 1 2.7-1.7 2.8-.7 2.7-.1 2.7-1.7 2.8 .9 2.7 .3 2.8 .9 2.7 1 2.7-.4 2.8 1.4 2.7-2.9 2.7-1.7 2.8-2 2.7 4.6 2.8-.2 2.7 1.3 2.7 .1 2.8 .8 2.7 .1 2.7-.5 2.8-.6 2.7-1.5 2.8-.9 2.7-3.6 2.7-.1 2.8 5.4 2.7-.6 2.7 1 2.8 1 2.7 1.5 2.8-.9 2.7-1.4 2.7-.9 2.8 .2 2.7-.2 2.7 .5 2.8-2.1 2.7-2.1 2.7-3.2 2.8 1.5 2.7 3.3 2.8 2.9 2.7-2.2 2.7 1.9 2.8 .4 2.7 .9 2.7-2.4 2.8 1.6 2.7-1.3 2.8-.3 2.7-1 2.7 1.8 2.8 .9 2.7-5.1 2.7-4.1 2.8-.9 2.7-.7 2.8-1.4 2.7 4.5 2.7 5.1 2.8 .6 2.7-.6 2.7 .2 2.8-.1 2.7 0 2.8 1.3 2.7-1.7 2.7-.4 2.8 .3 2.7 .6 2.7-.1 2.8-.3 2.7 .1 2.8 1.5 2.7-1.5 2.7-1.3 2.8 1.4 2.7 .1 2.7-1.1 2.8 .5 2.7 .6 2.8-.8 2.7-1.5 2.7-.1 2.8 1.4 2.7 .3 2.7-1.3 2.8 .6 2.7-.2 2.8 .5 2.7 1.1 2.7 .1 2.8-1.3 2.7 .8 2.7-1.7 2.8-.2" fill="none" stroke="url(#fl5)" stroke-width="0.9"/>
<path transform="translate(287.9 129.2) scale(1 0.90)" d="M-8.2 -.7 -5.3 -1.9 -3.4 -4.2 -2.2 -8.2 -1.4 -13.5 -.9 -18.4 -.6 -21.7 -.4 -23.4 -.2 -24.2 0 -24.8 .2 -24.2 .4 -23.4 .6 -21.7 .9 -18.5 1.4 -13.6 2.2 -8.3 3.4 -4.4 5.3 -2.1 8.2 -1Z" fill="url(#sp3)" stroke="#ffe0e0" stroke-width="0.5" stroke-opacity="0.85"/>
<path transform="translate(301.1 129) scale(1 0.86)" d="M-8.2 -3.8 -5.3 -8.9 -3.4 -19.5 -2.2 -37.8 -1.4 -61.9 -.9 -84.2 -.6 -99.1 -.4 -107 -.2 -110.6 0 -113.4 .2 -110.6 .4 -107 .6 -99.1 .9 -84.3 1.4 -62 2.2 -37.9 3.4 -19.6 5.3 -9.2 8.2 -4.1Z" fill="url(#sp)" stroke="#b83030" stroke-width="0.4" stroke-opacity="0.6"/>
<path d="M123.9 131.4l2.8 .5 2.7 .8 2.7-.4 2.8 1.1 2.7 2.3 2.7-3.8 2.8 .4 2.7-1.1 2.8 1 2.7 .6 2.7 .2 2.8 0 2.7-.7 2.7 1.7 2.8-.7 2.7-1.8 2.8 2.6 2.7-.5 2.7-1 2.8-.2 2.7-.5 2.7-.7 2.8 .4 2.7-.3 2.8 1 2.7-.6 2.7 .6 2.8-.6 2.7-.6 2.7 0 2.8 2.1 2.7-.8 2.7-2.8 2.8 3.5 2.7-1.9 2.8 1.1 2.7-1 2.7 .3 2.8-.6 2.7 1 2.7-2 2.8-1.1 2.7 4.1 2.8-1.5 2.7 .6 2.7-1.6 2.8-1.2 2.7 0 2.7-.1 2.8 .9 2.7 .5 2.8-1.9 2.7 1 2.7-.5 2.8-1.6 2.7 .4 2.7-1.5 2.8 .3 2.7-.8 2.7-.3 2.8 2 2.7-.3 2.8-.4 2.7 .3 2.7-2.5 2.8 .2 2.7 .2 2.7 3.9 2.8 0 2.7 1.5 2.8-.5 2.7-1.4 2.7 .7 2.8-1.3 2.7-.3 2.7-4.2 2.8 .8 2.7-1.1 2.8 3.3 2.7 1.4 2.7 1.8 2.8-3.5 2.7 4.2 2.7-2 2.8 .4 2.7-1.2 2.8 1.2 2.7-2.3 2.7 .5 2.8-.5 2.7-2.5 2.7-3.1 2.8 .9 2.7 1.8 2.7 2.7 2.8 1.4 2.7-.4 2.8 .2 2.7-1 2.7 1.3 2.8-.4 2.7 1.2 2.7-1.8 2.8 .3 2.7 .8 2.8-2.4 2.7-1.1 2.7-3.6 2.8-3.7 2.7 1 2.7 3 2.8-.3 2.7 4.8 2.8 1.1 2.7 .2 2.7 .5 2.8-.9 2.7 1.6 2.7-1.4 2.8-1 2.7-.2 2.7 1.3 2.8-2.3 2.7 1.4 2.8 .7 2.7-.6 2.7 .7 2.8-1.5 2.7 1.6 2.7-.3 2.8 .4 2.7-.4 2.8-.5 2.7-2 2.7 1.4 2.8-.9 2.7 1 2.7-.9 2.8 1.7 2.7 .1 2.8-2.8 2.7 1.3 2.7 1.7 2.8-2 2.7 .7 2.7 0 2.8-1.1 2.7 1.8 2.8-2.2" fill="none" stroke="url(#fl0)" stroke-width="0.9"/>
<path transform="translate(289.1 129.9) scale(1 0.90)" d="M-8.2 -.7 -5.3 -1.8 -3.4 -4 -2.2 -7.9 -1.4 -13 -.9 -17.7 -.6 -20.9 -.4 -22.5 -.2 -23.3 0 -23.9 .2 -23.3 .4 -22.6 .6 -20.9 .9 -17.8 1.4 -13.1 2.2 -8 3.4 -4.2 5.3 -2 8.2 -1Z" fill="url(#sp3)" stroke="#ffe0e0" stroke-width="0.5" stroke-opacity="0.85"/>
<path transform="translate(302.3 129.6) scale(1 0.83)" d="M-8.2 -3.7 -5.3 -8.8 -3.4 -19.3 -2.2 -37.5 -1.4 -61.4 -.9 -83.5 -.6 -98.3 -.4 -106.1 -.2 -109.7 0 -112.4 .2 -109.7 .4 -106.1 .6 -98.3 .9 -83.6 1.4 -61.4 2.2 -37.6 3.4 -19.5 5.3 -9.1 8.2 -4.1Z" fill="url(#sp)" stroke="#b83030" stroke-width="0.4" stroke-opacity="0.6"/>
<path d="M125.1 132.2l2.8 1.8 2.7 .9 2.7-1.2 2.8-.6 2.7-.2 2.8-.8 2.7 .8 2.7 .5 2.8-2.1 2.7 .1 2.7 2.8 2.8-2 2.7 1.4 2.8-2 2.7 2.2 2.7-1.2 2.8-1.2 2.7 1.1 2.7-.8 2.8 1.6 2.7 .4 2.7-.1 2.8-1.7 2.7 1.1 2.8-1.9 2.7 1.5 2.7-1.5 2.8 .8 2.7 1.3 2.7-1.1 2.8-.5 2.7 0 2.8 .4 2.7-1.1 2.7 .1 2.8-.1 2.7 1.5 2.7 1.2 2.8-2.5 2.7 1.2 2.7-.3 2.8-.3 2.7-.6 2.8 1.8 2.7-1.5 2.7-1.4 2.8 2.5 2.7-1.1 2.7-1.7 2.8 .4 2.7 0 2.8 .1 2.7 .9 2.7-2.1 2.8 .2 2.7-1.8 2.7 .2 2.8 .1 2.7-1 2.7-.5 2.8 2 2.7 0 2.8-.4 2.7-1 2.7-.3 2.8-.7 2.7 1.3 2.7 2.1 2.8-.9 2.7 1.1 2.8 1.3 2.7-1.5 2.7-.5 2.8 .1 2.7-.8 2.7-.1 2.8-3 2.7-.6 2.7 2.6 2.8 1.6 2.7 .1 2.8 1.2 2.7 .2 2.7-.7 2.8-.1 2.7-.9 2.7 .9 2.8 .8 2.7-1.7 2.8 .2 2.7-3.9 2.7-1.5 2.8-.7 2.7 3.1 2.7 2.5 2.8 1.6 2.7-.8 2.7-1.6 2.8 1 2.7-.9 2.8 .9 2.7 0 2.7 .8 2.8-1.2 2.7 1 2.7-.2 2.8-4.3 2.7-2.8 2.7-4.7 2.8 2 2.7 .8 2.8 1.1 2.7 6.6 2.7 .1 2.8 .1 2.7-.9 2.7-.8 2.8 1.2 2.7 1.4 2.8 0 2.7-.8 2.7-1.2 2.8 .5 2.7-.1 2.7 .4 2.8-1.5 2.7 2.2 2.7-2.8 2.8 .6 2.7 .4 2.8 .6 2.7 .1 2.7-.3 2.8 .5 2.7-.2 2.7 .3 2.8-1.5 2.7 .6 2.8-.4 2.7 1 2.7 .4 2.8-.3 2.7-1.1 2.7 1.2 2.8-1.7 2.7 1.4 2.7-.5 2.8-.7 2.7 1.2" fill="none" stroke="url(#fl1)" stroke-width="0.9"/>
<path transform="translate(290.3 130.5) scale(1 0.90)" d="M-8.2 -.6 -5.3 -1.7 -3.4 -3.9 -2.2 -7.7 -1.4 -12.6 -.9 -17.2 -.6 -20.2 -.4 -21.8 -.2 -22.6 0 -23.1 .2 -22.6 .4 -21.8 .6 -20.2 .9 -17.2 1.4 -12.7 2.2 -7.8 3.4 -4.1 5.3 -2 8.2 -1Z" fill="url(#sp3)" stroke="#ffe0e0" stroke-width="0.5" stroke-opacity="0.85"/>
<path transform="translate(303.5 130.3) scale(1 0.81)" d="M-8.2 -4.1 -5.3 -9.7 -3.4 -21.1 -2.2 -41 -1.4 -67.1 -.9 -91.3 -.6 -107.5 -.4 -116 -.2 -119.9 0 -122.9 .2 -120 .4 -116 .6 -107.5 .9 -91.4 1.4 -67.2 2.2 -41.1 3.4 -21.3 5.3 -9.9 8.2 -4.5Z" fill="url(#sp)" stroke="#b83030" stroke-width="0.4" stroke-opacity="0.6"/>
<path d="M126.4 134.6l2.7 .4 2.7-2.1 2.8-.6 2.7 1.9 2.7-.3 2.8-2.1 2.7 2.8 2.7-1.7 2.8 .2 2.7 1.3 2.8 .3 2.7-.2 2.7-.9 2.8-.2 2.7-2.1 2.7 3.2 2.8-1.2 2.7 .9 2.7-1.6 2.8 .4 2.7 1.5 2.8-.9 2.7-.5 2.7-.6 2.8 .1 2.7-.2 2.7 .5 2.8-.5 2.7 .4 2.7-.9 2.8 .3 2.7 1.3 2.8-.8 2.7 .6 2.7-.7 2.8-.6 2.7 .3 2.7 .2 2.8 .3 2.7-1.9 2.8 1.3 2.7 .8 2.7-.5 2.8-1.3 2.7-1.1 2.7 .7 2.8 1.3 2.7-1.1 2.7 2.2 2.8-2.4 2.7 .7 2.8-.8 2.7 .9 2.7-2.2 2.8 .7 2.7-.5 2.7-3.4 2.8 2.2 2.7-1.9 2.7 1.8 2.8 .3 2.7 .5 2.8-1 2.7-.6 2.7-.7 2.8-.4 2.7 .5 2.7 1.8 2.8 2.3 2.7-1.2 2.7 .8 2.8-1 2.7 1.7 2.8-1.9 2.7 .2 2.7-1.2 2.8-3.4 2.7 0 2.7 3.5 2.8 2.5 2.7-1.2 2.7-.3 2.8 .9 2.7-.6 2.8 .4 2.7 .1 2.7-.9 2.8-.9 2.7 .5 2.7-.3 2.8-2.1 2.7-3.5 2.7 2.6 2.8 .7 2.7 2.2 2.8 .5 2.7 .3 2.7-.1 2.8 1.1 2.7-2 2.7 .9 2.8-.4 2.7 .4 2.7 .8 2.8-1.9 2.7 .5 2.8-2.5 2.7-5.3 2.7-2.8 2.8 1.4 2.7-.2 2.7 1.6 2.8 6.5 2.7-.3 2.8 1.1 2.7-1 2.7 .8 2.8-.8 2.7 1.4 2.7-.2 2.8 0 2.7-.3 2.7-1.3 2.8 .5 2.7-.3 2.8 .8 2.7-.4 2.7-.3 2.8 0 2.7 .8 2.7-.2 2.8 .5 2.7-1.7 2.7-.3 2.8-.8 2.7 4.4 2.8-3.6 2.7 .2 2.7-1.9 2.8 2.7 2.7 .3 2.7-1 2.8 1.5 2.7-.1 2.7-1.9 2.8 2 2.7-.5 2.8-2.2 2.7 .5" fill="none" stroke="url(#fl1)" stroke-width="0.9"/>
<path transform="translate(291.5 131.2) scale(1 0.90)" d="M-8.2 -.7 -5.3 -1.9 -3.4 -4.3 -2.2 -8.4 -1.4 -13.9 -.9 -18.9 -.6 -22.2 -.4 -24 -.2 -24.8 0 -25.5 .2 -24.8 .4 -24 .6 -22.3 .9 -18.9 1.4 -13.9 2.2 -8.5 3.4 -4.5 5.3 -2.1 8.2 -1.1Z" fill="url(#sp3)" stroke="#ffe0e0" stroke-width="0.5" stroke-opacity="0.85"/>
<path transform="translate(304.7 130.9) scale(1 0.78)" d="M-8.2 -4.1 -5.3 -9.6 -3.4 -21 -2.2 -40.8 -1.4 -66.9 -.9 -91 -.6 -107.1 -.4 -115.6 -.2 -119.5 0 -122.5 .2 -119.5 .4 -115.6 .6 -107.1 .9 -91 1.4 -66.9 2.2 -40.9 3.4 -21.2 5.3 -9.9 8.2 -4.5Z" fill="url(#sp)" stroke="#b83030" stroke-width="0.4" stroke-opacity="0.6"/>
<path d="M127.6 135.4l2.7-.5 2.7 .2 2.8-1.2 2.7 .5 2.7 1.2 2.8-.3 2.7-1.3 2.8 1.2 2.7 .3 2.7 1.2 2.8-2.9 2.7 .7 2.7 .1 2.8 .6 2.7-.4 2.7-.5 2.8 .9 2.7-1.1 2.8-1.5 2.7 1.9 2.7-.5 2.8-1.5 2.7 1.3 2.7-1.4 2.8 .5 2.7 0 2.7 .9 2.8 .2 2.7-1.6 2.8 1 2.7 .1 2.7 1.9 2.8-1.9 2.7-2.5 2.7 1.6 2.8-1 2.7 1.3 2.7 1.4 2.8-1.5 2.7-1.5 2.8 1.4 2.7 .4 2.7-.2 2.8 .9 2.7-.8 2.7-.5 2.8-.8 2.7 .1 2.7 1.6 2.8 .6 2.7-1.7 2.8 0 2.7-1.9 2.7 1 2.8-2.3 2.7 .1 2.7-2 2.8 .7 2.7 1.9 2.7 .8 2.8-1.7 2.7 1.8 2.7-1.7 2.8-.4 2.7-3.5 2.8 1.6 2.7 2.8 2.7 2.9 2.8-1.6 2.7 .7 2.7 .1 2.8-2.8 2.7 1.6 2.7 1.2 2.8-2.4 2.7 .2 2.8-2.6 2.7-1.4 2.7 3.7 2.8 .5 2.7 .8 2.7 .1 2.8 1 2.7 .3 2.7-1.3 2.8-.6 2.7 1.4 2.8-1.7 2.7-.5 2.7-.2 2.8-3.2 2.7-2.6 2.7 .2 2.8 3.7 2.7 1.9 2.7 .6 2.8-.7 2.7 1.5 2.8-1.9 2.7 2.1 2.7-2.6 2.8 1.1 2.7-1.9 2.7 2.1 2.8-.4 2.7 1.8 2.7-3.7 2.8-5.1 2.7-1.9 2.8-.4 2.7 .8 2.7 3 2.8 3.6 2.7 3.4 2.7-1 2.8-1.1 2.7 .6 2.7-1.2 2.8 1.6 2.7-.3 2.7-.9 2.8-1.1 2.7 2.7 2.8 .3 2.7-.5 2.7 0 2.8-1.4 2.7-.7 2.7 .8 2.8-.3 2.7-.4 2.7 .2 2.8 0 2.7 0 2.8-.9 2.7 2 2.7-.6 2.8-.7 2.7-2.3 2.7 3.2 2.8-1.6 2.7 1.4 2.7-.6 2.8 .5 2.7-2.5 2.8 1.3 2.7 .8 2.7-1.4 2.8 1.4" fill="none" stroke="url(#fl2)" stroke-width="0.9"/>
<path transform="translate(292.7 131.9) scale(1 0.90)" d="M-8.2 -.7 -5.3 -1.9 -3.4 -4.2 -2.2 -8.3 -1.4 -13.6 -.9 -18.5 -.6 -21.8 -.4 -23.6 -.2 -24.4 0 -25 .2 -24.4 .4 -23.6 .6 -21.9 .9 -18.6 1.4 -13.7 2.2 -8.4 3.4 -4.4 5.3 -2.1 8.2 -1.1Z" fill="url(#sp3)" stroke="#ffe0e0" stroke-width="0.5" stroke-opacity="0.85"/>
<path transform="translate(305.9 131.6) scale(1 0.76)" d="M-8.2 -4 -5.3 -9.5 -3.4 -20.8 -2.2 -40.4 -1.4 -66.1 -.9 -90 -.6 -105.9 -.4 -114.3 -.2 -118.2 0 -121.1 .2 -118.2 .4 -114.3 .6 -105.9 .9 -90 1.4 -66.2 2.2 -40.5 3.4 -21 5.3 -9.8 8.2 -4.4Z" fill="url(#sp)" stroke="#b83030" stroke-width="0.4" stroke-opacity="0.6"/>
<path d="M128.8 136l2.7-.6 2.8-.1 2.7 1 2.7-.1 2.8 .8 2.7 .3 2.7-1.7 2.8-1.3 2.7 .5 2.7-.1 2.8 .4 2.7 0 2.8 0 2.7-1.6 2.7 1.7 2.8-1.4 2.7 2.3 2.7-.4 2.8-.9 2.7 1.2 2.7-2.8 2.8 1.1 2.7-.2 2.7 .7 2.8-.9 2.7 1 2.8-1.8 2.7-.1 2.7 1.7 2.8 .2 2.7 .5 2.7-.1 2.8-2.5 2.7 .3 2.7-.7 2.8 .9 2.7-.4 2.7 .1 2.8 1 2.7-.7 2.8-.7 2.7 .6 2.7 1 2.8-.1 2.7-3.6 2.7 3.4 2.8-.2 2.7-.7 2.7 0 2.8-1.1 2.7 1 2.8-1.3 2.7 0 2.7-.7 2.8-.6 2.7-.1 2.7-1 2.8 .3 2.7-.5 2.7-.1 2.8 .6 2.7 1.8 2.7-.2 2.8-1.7 2.7-3.4 2.8 1 2.7 2 2.7 1 2.8 1.3 2.7 1 2.7-2 2.8 1.6 2.7-1.3 2.7 .4 2.8-1.2 2.7-2.5 2.7-.2 2.8 .9 2.7 .1 2.8 2.1 2.7 1 2.7 0 2.8 1.4 2.7-1.5 2.7 .2 2.8-.6 2.7 .3 2.7 .2 2.8-1.1 2.7-1.3 2.8-1.5 2.7-1.9 2.7 .2 2.8 1.1 2.7 4.6 2.7-.9 2.8-.2 2.7-.2 2.7 2.2 2.8-2 2.7 2.1 2.7-1.5 2.8 .3 2.7 .9 2.8-3.4 2.7 1.7 2.7-1.4 2.8-5.1 2.7-2.6 2.7-.9 2.8 .9 2.7 4 2.7 2 2.8 2.2 2.7-1.2 2.7 .2 2.8 .8 2.7-1 2.8 1.3 2.7-1.1 2.7 2.3 2.8 .2 2.7-.7 2.7-1.5 2.8 .2 2.7 .8 2.7-.2 2.8-.1 2.7-.7 2.8-.9 2.7 0 2.7 1 2.8-.2 2.7-.6 2.7 1.5 2.8-1.1 2.7-.5 2.7 0 2.8 .8 2.7 .3 2.7 0 2.8-2.2 2.7 1.2 2.8 1.1 2.7 .7 2.7-1.9 2.8-1.4 2.7 1.5 2.7 .5" fill="none" stroke="url(#fl1)" stroke-width="0.9"/>
<path transform="translate(293.9 132.5) scale(1 0.90)" d="M-8.2 -.7 -5.3 -1.9 -3.4 -4.2 -2.2 -8.2 -1.4 -13.5 -.9 -18.4 -.6 -21.7 -.4 -23.4 -.2 -24.2 0 -24.8 .2 -24.2 .4 -23.4 .6 -21.7 .9 -18.5 1.4 -13.6 2.2 -8.3 3.4 -4.4 5.3 -2.1 8.2 -1Z" fill="url(#sp3)" stroke="#ffe0e0" stroke-width="0.5" stroke-opacity="0.85"/>
<path transform="translate(307.1 132.2) scale(1 0.73)" d="M-8.2 -4.2 -5.3 -10.1 -3.4 -22 -2.2 -42.6 -1.4 -69.8 -.9 -95 -.6 -111.8 -.4 -120.6 -.2 -124.7 0 -127.9 .2 -124.8 .4 -120.6 .6 -111.8 .9 -95 1.4 -69.9 2.2 -42.7 3.4 -22.1 5.3 -10.3 8.2 -4.7Z" fill="url(#sp)" stroke="#b83030" stroke-width="0.4" stroke-opacity="0.6"/>
<path d="M130 136.2l2.7 .5 2.8-1 2.7-.2 2.7 .8 2.8 .4 2.7-.9 2.7 2.5 2.8-1.9 2.7 .1 2.8-1.3 2.7 1.6 2.7-2 2.8 1.1 2.7-.6 2.7-.8 2.8 .9 2.7 .7 2.7-.9 2.8-.1 2.7-1.5 2.7 1.8 2.8-1 2.7-.4 2.8 .1 2.7 1.2 2.7 .8 2.8-2.1 2.7-.6 2.7 .8 2.8-.5 2.7 .9 2.7-.7 2.8-.5 2.7 1.1 2.7-1.1 2.8 1 2.7 .8 2.8-1.2 2.7 .4 2.7-.6 2.8-.2 2.7 .6 2.7-.5 2.8 .7 2.7-1.2 2.7 1.5 2.8 .3 2.7-2.2 2.7 2.6 2.8-1.7 2.7-.2 2.7-1.3 2.8 .4 2.7-.6 2.8 .6 2.7-3.3 2.7 1.2 2.8-1.2 2.7 .8 2.7-1.3 2.8 2.5 2.7 1 2.7-2.3 2.8 .5 2.7-2.7 2.7-.2 2.8 3.9 2.7-.5 2.8 2.5 2.7-.9 2.7-.4 2.8 .4 2.7 .6 2.7-1.9 2.8 .7 2.7-1.5 2.7-4 2.8-.1 2.7 4.5 2.7 .2 2.8 .7 2.7 2.7 2.8-2 2.7-1.6 2.7 1.8 2.8-2.1 2.7-.7 2.7 1.9 2.8 .3 2.7-1.7 2.7-1.1 2.8-5.1 2.7 1.1 2.7 4.5 2.8 1.5 2.7 .1 2.8-1.2 2.7 .2 2.7 1.3 2.8-.8 2.7 .5 2.7-.9 2.8 .6 2.7-2.2 2.7 1.4 2.8 .5 2.7-1.9 2.7-4.3 2.8-3.6 2.7-.3 2.8-.4 2.7 5.2 2.7 2.9 2.8 3 2.7-1.8 2.7 0 2.8 .3 2.7 .4 2.7 .1 2.8-.1 2.7 1.3 2.7-2.4 2.8 1.6 2.7-1.2 2.7 .1 2.8-.7 2.7 .5 2.8 0 2.7-.3 2.7-.7 2.8 1.2 2.7 .4 2.7-.9 2.8 .1 2.7-.9 2.7 .3 2.8 .1 2.7-.9 2.7 .7 2.8-.4 2.7 .9 2.8-1.8 2.7 .8 2.7 1.3 2.8-.1 2.7-2.4 2.7 1.3 2.8-1.4 2.7-.6" fill="none" stroke="url(#fl1)" stroke-width="0.9"/>
<path transform="translate(295.1 133.2) scale(1 0.90)" d="M-8.2 -.7 -5.3 -1.9 -3.4 -4.3 -2.2 -8.4 -1.4 -13.8 -.9 -18.8 -.6 -22.2 -.4 -23.9 -.2 -24.8 0 -25.4 .2 -24.8 .4 -23.9 .6 -22.2 .9 -18.9 1.4 -13.9 2.2 -8.5 3.4 -4.5 5.3 -2.1 8.2 -1.1Z" fill="url(#sp3)" stroke="#ffe0e0" stroke-width="0.5" stroke-opacity="0.85"/>
<path transform="translate(308.3 132.9) scale(1 0.71)" d="M-8.2 -4.4 -5.3 -10.5 -3.4 -22.9 -2.2 -44.3 -1.4 -72.6 -.9 -98.8 -.6 -116.3 -.4 -125.5 -.2 -129.8 0 -133.1 .2 -129.8 .4 -125.6 .6 -116.3 .9 -98.9 1.4 -72.7 2.2 -44.5 3.4 -23 5.3 -10.8 8.2 -4.9Z" fill="url(#sp)" stroke="#b83030" stroke-width="0.4" stroke-opacity="0.6"/>
<path d="M131.2 136.3l2.7 1.5 2.8 .7 2.7-3.3 2.8 2.3 2.7-.7 2.7-1.5 2.8 1.2 2.7-.8 2.7 .5 2.8 1.4 2.7-.5 2.7-.8 2.8 .9 2.7-1.9 2.7 .5 2.8 1.8 2.7-2 2.7 .9 2.8-.2 2.7-1 2.8 2.3 2.7-.9 2.7-1.2 2.8 1.5 2.7-2.5 2.7 4.1 2.8-4 2.7 .3 2.7 1.2 2.8-.7 2.7 .6 2.7-2.4 2.8 1.7 2.7-.5 2.7 .1 2.8 1.5 2.7 .4 2.8-1.9 2.7-1.2 2.7 .6 2.8 .7 2.7-.6 2.7 .7 2.8-1.6 2.7 .6 2.7 .2 2.8-1.7 2.7 2.4 2.7 .2 2.8-.8 2.7 .1 2.7-.3 2.8-1.7 2.7-.6 2.8 1.3 2.7-1.7 2.7-.8 2.8 .9 2.7-2.1 2.7 .9 2.8 .3 2.7 1.7 2.7 0 2.8-2 2.7-1.8 2.7 .5 2.8 1.2 2.7 2.9 2.7-.8 2.8 .5 2.7 .9 2.8 .6 2.7-1.6 2.7-1 2.8 0 2.7-3.1 2.7-1.2 2.8-.5 2.7 4.2 2.7 1 2.8 .1 2.7 .1 2.7 .3 2.8 .2 2.7 1.6 2.7-3.1 2.8 .3 2.7 1.1 2.8-.7 2.7-.4 2.7-3.9 2.8-1.5 2.7-.9 2.7 4.3 2.8 2.4 2.7 1.2 2.7-1.8 2.8 .9 2.7-1.2 2.7-.5 2.8 .6 2.7-1.1 2.7 1.7 2.8 .3 2.7-1 2.8 .2 2.7-4.2 2.7-1.7 2.8-2.2 2.7-2.3 2.7 2.1 2.8 2.4 2.7 4.7 2.7 .8 2.8-2 2.7 .9 2.7 .9 2.8-1.8 2.7 2.5 2.7-1.1 2.8-1.6 2.7 2.8 2.8-.3 2.7-.1 2.7-.5 2.8-1.1 2.7-.7 2.7 .2 2.8-.2 2.7 .8 2.7 .8 2.8 .3 2.7-.9 2.7 .8 2.8 .2 2.7-1.7 2.8 1.3 2.7-.6 2.7-2.2 2.8 1.4 2.7-.1 2.7 .6 2.8 .6 2.7-1.4 2.7 .8 2.8-.2 2.7 .3 2.7-.9 2.8 0" fill="none" stroke="url(#fl0)" stroke-width="0.9"/>
<path transform="translate(296.3 133.8) scale(1 0.90)" d="M-8.2 -.7 -5.3 -1.9 -3.4 -4.2 -2.2 -8.2 -1.4 -13.5 -.9 -18.4 -.6 -21.7 -.4 -23.4 -.2 -24.2 0 -24.8 .2 -24.2 .4 -23.4 .6 -21.7 .9 -18.5 1.4 -13.6 2.2 -8.3 3.4 -4.4 5.3 -2.1 8.2 -1Z" fill="url(#sp3)" stroke="#ffe0e0" stroke-width="0.5" stroke-opacity="0.85"/>
<path transform="translate(309.5 133.6) scale(1 0.68)" d="M-8.2 -4.5 -5.3 -10.6 -3.4 -23.1 -2.2 -44.9 -1.4 -73.6 -.9 -100.1 -.6 -117.8 -.4 -127.1 -.2 -131.5 0 -134.8 .2 -131.5 .4 -127.2 .6 -117.8 .9 -100.2 1.4 -73.6 2.2 -45 3.4 -23.3 5.3 -10.9 8.2 -4.9Z" fill="url(#sp)" stroke="#b83030" stroke-width="0.4" stroke-opacity="0.6"/>
<path d="M132.4 136.1l2.8 2.5 2.7-1.3 2.7-.7 2.8-.1 2.7 1.4 2.7-1.3 2.8 .5 2.7 .1 2.7 .5 2.8 1.1 2.7-1.2 2.7 .9 2.8-2.2 2.7 .3 2.8-1.2 2.7 2.8 2.7 .1 2.8-1.3 2.7-.4 2.7-.7 2.8 1.8 2.7 .5 2.7-.7 2.8-4 2.7 3.9 2.7-.4 2.8-1.4 2.7 .2 2.7 .9 2.8 2.3 2.7-3.4 2.7 1 2.8-1.7 2.7 1 2.8-.5 2.7 2.2 2.7-1.9 2.8 .1 2.7 .3 2.7-.8 2.8-.3 2.7 .9 2.7-1 2.8-.9 2.7 .9 2.7 .5 2.8-.5 2.7 .4 2.7-.5 2.8-.6 2.7 .8 2.7-1.3 2.8-1.4 2.7 1 2.8-.3 2.7-1.1 2.7-1.6 2.8 0 2.7 .9 2.7 2.3 2.8-2.1 2.7 .6 2.7 .1 2.8-.2 2.7-.6 2.7-1.7 2.8 2.5 2.7 .6 2.7-.2 2.8 .7 2.7 1 2.7-1.1 2.8 1.1 2.7-1.5 2.8-.3 2.7-1.4 2.7-2.5 2.8 .1 2.7 .6 2.7 3.1 2.8 .9 2.7-1.3 2.7 1 2.8 0 2.7-1.6 2.7 3.9 2.8-.9 2.7-.9 2.7-2 2.8-1.1 2.7-1.4 2.7-1.8 2.8 1.1 2.7 1 2.8 2.1 2.7 1.4 2.7-1.4 2.8-.6 2.7 2.3 2.7-1.2 2.8 1.4 2.7-1.4 2.7 1.3 2.8-1.3 2.7-1.7 2.7 2.1 2.8-4.5 2.7-4.5 2.7-1.6 2.8 1.3 2.7 1.2 2.7 1.6 2.8 3.9 2.7 2.3 2.8 .2 2.7 .3 2.7-3.9 2.8 4.5 2.7-2.6 2.7 1.1 2.8-1.5 2.7-.2 2.7 2.1 2.8-.9 2.7 .1 2.7-.8 2.8 .5 2.7-.8 2.7 .2 2.8 .9 2.7-1.5 2.7 .4 2.8-.1 2.7 .8 2.8-1 2.7 .9 2.7-1.6 2.8 .8 2.7 2.4 2.7-2.7 2.8 0 2.7 .4 2.7-.8 2.8 2.1 2.7-1.7 2.7 .9 2.8-.9 2.7 .8 2.7 .4" fill="none" stroke="url(#fl1)" stroke-width="0.9"/>
<path transform="translate(297.5 134.5) scale(1 0.90)" d="M-8.2 -.7 -5.3 -1.9 -3.4 -4.3 -2.2 -8.5 -1.4 -13.9 -.9 -19 -.6 -22.3 -.4 -24.1 -.2 -24.9 0 -25.6 .2 -24.9 .4 -24.1 .6 -22.4 .9 -19 1.4 -14 2.2 -8.6 3.4 -4.5 5.3 -2.2 8.2 -1.1Z" fill="url(#sp3)" stroke="#ffe0e0" stroke-width="0.5" stroke-opacity="0.85"/>
<path transform="translate(310.7 134.2) scale(1 0.66)" d="M-8.2 -4.4 -5.3 -10.5 -3.4 -23 -2.2 -44.7 -1.4 -73.2 -.9 -99.6 -.6 -117.2 -.4 -126.5 -.2 -130.8 0 -134.1 .2 -130.8 .4 -126.5 .6 -117.2 .9 -99.7 1.4 -73.3 2.2 -44.8 3.4 -23.2 5.3 -10.9 8.2 -4.9Z" fill="url(#sp)" stroke="#b83030" stroke-width="0.4" stroke-opacity="0.6"/>
<path transform="translate(326.8 133.9) scale(1 0.70)" d="M-8.2 .1 -5.3 -.2 -3.4 -.7 -2.2 -1.5 -1.4 -2.5 -.9 -3.4 -.6 -4 -.4 -4.3 -.2 -4.4 0 -4.6 .2 -4.5 .4 -4.3 .6 -4 .9 -3.4 1.4 -2.5 2.2 -1.6 3.4 -.9 5.3 -.5 8.2 -.4Z" fill="url(#sp)" stroke="#b83030" stroke-width="0.4" stroke-opacity="0.6"/>
<path d="M133.6 137.6l2.8-.6 2.7 .8 2.7 .7 2.8-.3 2.7-.1 2.8-1.3 2.7 1.9 2.7-.4 2.8 1.3 2.7-3 2.7 2.1 2.8 .1 2.7 .5 2.7-2 2.8 .4 2.7 0 2.7 .9 2.8-.8 2.7-1.6 2.7 2.4 2.8-1.5 2.7-1.2 2.7 2.2 2.8-1.7 2.7 0 2.7 1.2 2.8-.7 2.7-.7 2.7-.2 2.8 1.2 2.7 .8 2.8-1.5 2.7-.1 2.7-.5 2.8-.7 2.7 .2 2.7 .1 2.8 1 2.7-1.4 2.7 0 2.8 1.3 2.7 .1 2.7 .7 2.8-.8 2.7-.5 2.7 .1 2.8-.8 2.7 .4 2.7 .8 2.8-2.1 2.7 2.4 2.7-2.8 2.8 .4 2.7-.9 2.8 .1 2.7-1.5 2.7-2 2.8 1.7 2.7-.7 2.7 .6 2.8 3.5 2.7-1.6 2.7-.7 2.8-.4 2.7-2.3 2.7 .9 2.8-.5 2.7 3.1 2.7 1 2.8 .6 2.7-1.6 2.7 .7 2.8-.7 2.7-.1 2.7 .8 2.8-3.5 2.7 .8 2.8 .3 2.7-.5 2.7-.1 2.8 1.9 2.7 .2 2.7 1.3 2.8-.7 2.7-.7 2.7 2.3 2.8-1.2 2.7-.3 2.7-1.5 2.8-1.2 2.7-.9 2.7-4.5 2.8 1.6 2.7 3 2.7 .7 2.8 2.5 2.7-.1 2.7 .5 2.8-.4 2.7 1.2 2.7-4.3 2.8 1.6 2.7-1.2 2.8 3.1 2.7 .2 2.7-3.2 2.8-1 2.7-4.6 2.7-1.6 2.8 .7 2.7-.3 2.7 .3 2.8 7.4 2.7-1.2 2.7 .9 2.8-.4 2.7-.4 2.7 1.9 2.8-1.7 2.7 .3 2.7-2.1 2.8 2 2.7-.6 2.7 .7 2.8-.2 2.7 0 2.8 .2 2.7-1 2.7 .6 2.8-.2 2.7-.4 2.7 1.3 2.8-.3 2.7-.6 2.7-.3 2.8-1.2 2.7 3.5 2.7-1.3 2.8 .2 2.7-1 2.7 .2 2.8 1.3 2.7-.8 2.7 0 2.8 .7 2.7-.7 2.7-.4 2.8-1.6 2.7 .8" fill="none" stroke="url(#fl3)" stroke-width="0.9"/>
<path transform="translate(298.7 135.1) scale(1 0.90)" d="M-8.1 -.7 -5.3 -1.9 -3.4 -4.3 -2.2 -8.4 -1.4 -13.8 -.9 -18.8 -.6 -22.2 -.4 -23.9 -.2 -24.8 0 -25.4 .2 -24.8 .4 -24 .6 -22.2 .9 -18.9 1.4 -13.9 2.2 -8.5 3.4 -4.5 5.3 -2.1 8.1 -1.1Z" fill="url(#sp3)" stroke="#ffe0e0" stroke-width="0.5" stroke-opacity="0.85"/>
<path transform="translate(311.9 134.9) scale(1 0.63)" d="M-8.1 -4.7 -5.3 -11.2 -3.4 -24.5 -2.2 -47.6 -1.4 -78 -.9 -106.1 -.6 -124.8 -.4 -134.7 -.2 -139.3 0 -142.8 .2 -139.4 .4 -134.8 .6 -124.9 .9 -106.1 1.4 -78 2.2 -47.7 3.4 -24.7 5.3 -11.6 8.1 -5.2Z" fill="url(#sp)" stroke="#b83030" stroke-width="0.4" stroke-opacity="0.6"/>
<path transform="translate(328 134.6) scale(1 0.70)" d="M-8.1 0 -5.3 -.3 -3.4 -.9 -2.2 -1.8 -1.4 -3 -.9 -4 -.6 -4.8 -.4 -5.2 -.2 -5.3 0 -5.5 .2 -5.4 .4 -5.2 .6 -4.8 .9 -4.1 1.4 -3 2.2 -1.9 3.4 -1 5.3 -.6 8.1 -.4Z" fill="url(#sp)" stroke="#b83030" stroke-width="0.4" stroke-opacity="0.6"/>
<path d="M134.9 137.9l2.7 1.9 2.7-.5 2.8-.6 2.7-.2 2.7 1.2 2.8-1.5 2.7-.3 2.7-.1 2.8-.9 2.7 .7 2.7 1 2.8 1.1 2.7-1.3 2.7 .5 2.8-1.7 2.7 1 2.7 1 2.8-.7 2.7-1.8 2.7 1.9 2.8-.9 2.7-.8 2.7 .6 2.8 1.5 2.7 0 2.8-.6 2.7-1.2 2.7 .1 2.8 .9 2.7-.8 2.7-.3 2.8 1.7 2.7-.4 2.7-1.3 2.8-.9 2.7 1.1 2.7-.4 2.8-1.3 2.7 2.1 2.7-.8 2.8 .2 2.7-2 2.7 2.1 2.8 .2 2.7-1.7 2.7-1.8 2.8 1.7 2.7-.4 2.7-.1 2.8 .6 2.7 .4 2.7-2.2 2.8 .7 2.7 .8 2.8-1.4 2.7-1.2 2.7 .1 2.8-1 2.7 .4 2.7 .5 2.8 1.6 2.7-2.1 2.7 2.5 2.8-1.1 2.7-3.7 2.7 .7 2.8 2.1 2.7 .1 2.7 2.9 2.8 .6 2.7-.4 2.7-.3 2.8-.9 2.7-.6 2.7-1.5 2.8-.4 2.7-2.6 2.7 1.3 2.8 1.3 2.7 1.1 2.7 2 2.8-2.4 2.7 1.9 2.7 .4 2.8 0 2.7-1.1 2.8-1.4 2.7 2.7 2.7-1.6 2.8 0 2.7-4 2.7-1.3 2.8 1.9 2.7 1.8 2.7 1.2 2.8 .6 2.7-1.7 2.7 1 2.8 1.3 2.7-1.7 2.7 .7 2.8-2 2.7 2.1 2.7 .2 2.8-.9 2.7-1.5 2.7-.6 2.8-6.5 2.7-.3 2.7-.3 2.8-.7 2.7 3 2.7 5 2.8 0 2.7 2.1 2.7 1.7 2.8-2.9 2.7 .4 2.8 .3 2.7-1.3 2.7 3 2.8-1.7 2.7-1.6 2.7 .9 2.8-.9 2.7 .8 2.7 1.3 2.8 0 2.7-1.4 2.7 1.3 2.8-2.6 2.7 2.2 2.7 .7 2.8-1.4 2.7-.8 2.7 .5 2.8 .1 2.7 .2 2.7 1.1 2.8-1.8 2.7-.6 2.7 1.5 2.8-1.4 2.7 2 2.7-1.8 2.8 1.1 2.7-1.8 2.8 2 2.7-.2" fill="none" stroke="url(#fl1)" stroke-width="0.9"/>
<path transform="translate(299.9 135.8) scale(1 0.90)" d="M-8.1 -.7 -5.3 -1.9 -3.4 -4.4 -2.2 -8.6 -1.4 -14.1 -.9 -19.2 -.6 -22.6 -.4 -24.4 -.2 -25.2 0 -25.9 .2 -25.2 .4 -24.4 .6 -22.6 .9 -19.2 1.4 -14.2 2.2 -8.7 3.4 -4.5 5.3 -2.2 8.1 -1.1Z" fill="url(#sp3)" stroke="#ffe0e0" stroke-width="0.5" stroke-opacity="0.85"/>
<path transform="translate(313.1 135.5) scale(1 0.61)" d="M-8.1 -4.9 -5.3 -11.5 -3.4 -25.2 -2.2 -48.9 -1.4 -80.1 -.9 -109.1 -.6 -128.3 -.4 -138.5 -.2 -143.2 0 -146.8 .2 -143.3 .4 -138.5 .6 -128.4 .9 -109.1 1.4 -80.2 2.2 -49.1 3.4 -25.4 5.3 -11.9 8.1 -5.4Z" fill="url(#sp)" stroke="#b83030" stroke-width="0.4" stroke-opacity="0.6"/>
<path transform="translate(329.2 135.2) scale(1 0.70)" d="M-8.1 -.1 -5.3 -.6 -3.4 -1.5 -2.2 -3.1 -1.4 -5.2 -.9 -7.1 -.6 -8.3 -.4 -9 -.2 -9.3 0 -9.5 .2 -9.3 .4 -9 .6 -8.3 .9 -7.1 1.4 -5.2 2.2 -3.2 3.4 -1.7 5.3 -.9 8.1 -.6Z" fill="url(#sp)" stroke="#b83030" stroke-width="0.4" stroke-opacity="0.6"/>
<path d="M136.1 139.1l2.7 .6 2.7 .2 2.8-1.9 2.7 .6 2.7 .6 2.8-.1 2.7 1.9 2.7-.6 2.8-3.1 2.7 3.2 2.7-2.3 2.8 .5 2.7 .7 2.7-2.8 2.8 2.5 2.7-1.6 2.8 1.9 2.7-.9 2.7-.1 2.8 0 2.7-.9 2.7 .8 2.8 1.3 2.7-1.4 2.7 1.7 2.8-2.9 2.7 .4 2.7 0 2.8 .9 2.7-.7 2.7 2.5 2.8-1.5 2.7-.8 2.7 2.2 2.8-2.3 2.7 .5 2.7-.7 2.8 .7 2.7-1.8 2.7 1.2 2.8-1.2 2.7 .3 2.7 1.8 2.8 .8 2.7-1.7 2.7-.6 2.8-.1 2.7 .6 2.7-2.5 2.8 2 2.7-1.7 2.7 2.5 2.8-2.5 2.7-.1 2.7-1.9 2.8-2.1 2.7 2.3 2.8-.4 2.7-.3 2.7 .6 2.8 .4 2.7 .5 2.7 .7 2.8-1.8 2.7-1.7 2.7-1.5 2.8 3.9 2.7 .6 2.7 .8 2.8 .5 2.7-.9 2.7 2.7 2.8-2.3 2.7 .8 2.7 .5 2.8-3.7 2.7-2.4 2.7 2.1 2.8-.3 2.7 2.9 2.7 .6 2.8-1.9 2.7 .3 2.7 .4 2.8 .2 2.7 1.1 2.7-2.6 2.8 .6 2.7 .2 2.7-1.6 2.8-1.3 2.7-2.5 2.7-.3 2.8 2.7 2.7 1.2 2.7 2.5 2.8-2 2.7 1.5 2.7-.9 2.8 .6 2.7 1.9 2.8-1.6 2.7 0 2.7 .1 2.8-2.7 2.7 2.5 2.7-3.5 2.8-4.8 2.7-.6 2.7 .8 2.8-.2 2.7 .6 2.7 6.6 2.8 .1 2.7 0 2.7 1.3 2.8-1.8 2.7 .2 2.7 1.6 2.8-.4 2.7-.5 2.7-1.4 2.8 1.6 2.7 1.1 2.7-3.5 2.8 2.5 2.7-.5 2.7 0 2.8 1.2 2.7-3.1 2.7 .3 2.8-.2 2.7 .7 2.7-2.7 2.8 4.1 2.7-1.4 2.7 .3 2.8 1.9 2.7-1.5 2.7-.6 2.8-.1 2.7 .1 2.8-.3 2.7-.3 2.7 .4 2.8-1.5 2.7 1.2 2.7-1.4 2.8-.2" fill="none" stroke="url(#fl3)" stroke-width="0.9"/>
<path transform="translate(301.1 136.4) scale(1 0.90)" d="M-8.1 -.7 -5.3 -1.9 -3.4 -4.4 -2.2 -8.5 -1.4 -14 -.9 -19.1 -.6 -22.5 -.4 -24.3 -.2 -25.1 0 -25.8 .2 -25.1 .4 -24.3 .6 -22.5 .9 -19.2 1.4 -14.1 2.2 -8.6 3.4 -4.5 5.3 -2.2 8.1 -1.1Z" fill="url(#sp3)" stroke="#ffe0e0" stroke-width="0.5" stroke-opacity="0.85"/>
<path transform="translate(314.3 136.2) scale(1 0.58)" d="M-8.1 -5 -5.3 -11.8 -3.4 -25.8 -2.2 -50.1 -1.4 -82.2 -.9 -111.8 -.6 -131.6 -.4 -142 -.2 -146.8 0 -150.5 .2 -146.9 .4 -142 .6 -131.6 .9 -111.9 1.4 -82.2 2.2 -50.3 3.4 -26.1 5.3 -12.2 8.1 -5.5Z" fill="url(#sp)" stroke="#b83030" stroke-width="0.4" stroke-opacity="0.6"/>
<path transform="translate(330.4 135.9) scale(1 0.70)" d="M-8.1 -.4 -5.3 -1.3 -3.4 -3 -2.2 -6 -1.4 -9.8 -.9 -13.4 -.6 -15.7 -.4 -17 -.2 -17.6 0 -18 .2 -17.6 .4 -17 .6 -15.8 .9 -13.4 1.4 -9.9 2.2 -6.1 3.4 -3.2 5.3 -1.6 8.1 -.9Z" fill="url(#sp)" stroke="#b83030" stroke-width="0.4" stroke-opacity="0.6"/>
<path d="M137.3 142.4l2.7-1.9 2.8-2.5 2.7 2.4 2.7 .4 2.8 0 2.7-.2 2.7-.2 2.8 .7 2.7-1.4 2.7 .1 2.8 1.2 2.7-2.5 2.7 .1 2.8 1.5 2.7-.3 2.7-.7 2.8 .3 2.7-.6 2.7-.5 2.8-.5 2.7 .4 2.7 1.1 2.8 .1 2.7 1 2.7-1.6 2.8-1.4 2.7 .9 2.7 1.1 2.8-1 2.7 .7 2.7-.5 2.8 .6 2.7-2.2 2.7 3.5 2.8-1.1 2.7-1.6 2.7 2.6 2.8-1.7 2.7 .7 2.7-1.5 2.8 .2 2.7 .1 2.7-.2 2.8 .2 2.7-2.1 2.7 2.1 2.8 .6 2.7-1.1 2.7 1.4 2.8-.6 2.7-2.1 2.7 .4 2.8-.3 2.7-1.8 2.7 1.1 2.8 .1 2.7-3.3 2.7 .9 2.8-2.4 2.7 4.1 2.7-.8 2.8 1.2 2.7-.7 2.8-1 2.7-1.6 2.7-1.8 2.8 2.5 2.7 2.5 2.7 .4 2.8 .3 2.7 2 2.7-1 2.8-1.2 2.7-.1 2.7-2.4 2.8 .4 2.7-2.3 2.7-.2 2.8 1.5 2.7 .8 2.7 2.8 2.8-1.6 2.7 .6 2.7 1.7 2.8-.2 2.7-1.2 2.7-1.8 2.8 1.2 2.7-.4 2.7-.7 2.8-1 2.7-3.1 2.7 1.3 2.8 .5 2.7 3.1 2.7-1 2.8 1.3 2.7 1.2 2.7-1 2.8-1.4 2.7 1.2 2.7-.4 2.8 1.5 2.7-1.2 2.7-1.1 2.8 .6 2.7-2.9 2.7-4.7 2.8-.7 2.7-.9 2.7 .4 2.8 3.4 2.7 2.2 2.7 1.3 2.8 .2 2.7 1.3 2.7 1.3 2.8-2.2 2.7 1.3 2.7-1.4 2.8 1 2.7 .2 2.7 1.1 2.8-2.1 2.7-.3 2.7-.1 2.8-.4 2.7 2.4 2.7-1.7 2.8-.8 2.7-.2 2.8 2.4 2.7-1.8 2.7-.7 2.8 .2 2.7 1.5 2.7-1.8 2.8 .6 2.7-1.2 2.7 1.9 2.8-.8 2.7 .1 2.7-.7 2.8 1.9 2.7-1.3 2.7 1.1 2.8-1.1 2.7 .3 2.7-.5" fill="none" stroke="url(#fl0)" stroke-width="0.9"/>
<path transform="translate(302.3 137.1) scale(1 0.90)" d="M-8.1 -.8 -5.3 -2 -3.4 -4.6 -2.2 -9 -1.4 -14.8 -.9 -20.1 -.6 -23.7 -.4 -25.6 -.2 -26.4 0 -27.1 .2 -26.5 .4 -25.6 .6 -23.7 .9 -20.2 1.4 -14.8 2.2 -9.1 3.4 -4.7 5.3 -2.3 8.1 -1.1Z" fill="url(#sp3)" stroke="#ffe0e0" stroke-width="0.5" stroke-opacity="0.85"/>
<path transform="translate(315.5 136.8) scale(1 0.56)" d="M-8.1 -5 -5.3 -12 -3.4 -26.1 -2.2 -50.7 -1.4 -83.1 -.9 -113.1 -.6 -133.1 -.4 -143.7 -.2 -148.6 0 -152.3 .2 -148.6 .4 -143.7 .6 -133.1 .9 -113.2 1.4 -83.2 2.2 -50.9 3.4 -26.4 5.3 -12.3 8.1 -5.6Z" fill="url(#sp)" stroke="#b83030" stroke-width="0.4" stroke-opacity="0.6"/>
<path transform="translate(331.6 136.5) scale(1 0.70)" d="M-8.1 -1 -5.3 -2.6 -3.4 -5.8 -2.2 -11.3 -1.4 -18.6 -.9 -25.3 -.6 -29.8 -.4 -32.2 -.2 -33.3 0 -34.1 .2 -33.3 .4 -32.2 .6 -29.8 .9 -25.4 1.4 -18.7 2.2 -11.4 3.4 -6 5.3 -2.9 8.1 -1.4Z" fill="url(#sp)" stroke="#b83030" stroke-width="0.4" stroke-opacity="0.6"/>
<path d="M138.5 140.5l2.7 .5 2.8 .4 2.7-.9 2.7 1.9 2.8-1.9 2.7 .6 2.7 .2 2.8-.8 2.7-.1 2.7 1 2.8-1 2.7-.6 2.7 1.1 2.8-1.3 2.7 1.9 2.7-.6 2.8-1.5 2.7 .9 2.7 .2 2.8-1.1 2.7-.2 2.7 .6 2.8-.4 2.7 .2 2.7 .6 2.8-.8 2.7 .4 2.7 1.6 2.8-1.5 2.7-1 2.7 .4 2.8 0 2.7 .5 2.7 .8 2.8-.6 2.7 .3 2.7 .1 2.8-1.9 2.7 .9 2.7 .6 2.8-1.6 2.7-.4 2.7 2.1 2.8-2.1 2.7 1.7 2.7-3.5 2.8 2 2.7 2 2.7-2.9 2.8 1.8 2.7-1.6 2.7-1.5 2.8 .2 2.7 1.7 2.7-2.4 2.8-.1 2.7-1.4 2.7 .2 2.8-.1 2.7-1.1 2.7 2.7 2.8-1.1 2.7 2 2.7-1.9 2.8-.7 2.7-2.5 2.7 3.1 2.8 3.2 2.7-.7 2.7 .5 2.8 0 2.7 0 2.7-1.1 2.8 .8 2.7-2.5 2.7-1.5 2.8-2 2.7-.2 2.8 2.3 2.7 2.8 2.7-.6 2.8 2.2 2.7-.6 2.7-1.7 2.8 2.6 2.7-.9 2.7 .3 2.8-1.6 2.7 1.1 2.7-2.1 2.8-2.2 2.7-4.3 2.7 .2 2.8 5.4 2.7 1.8 2.7 0 2.8 .3 2.7 0 2.7-.3 2.8-1 2.7-.4 2.7 2.4 2.8-1.9 2.7 .4 2.7 1 2.8-1.1 2.7-2.1 2.7-5.3 2.8-1.7 2.7 1.5 2.7-.7 2.8 2.1 2.7 5.3 2.7 3.4 2.8-4 2.7 1.2 2.7-.7 2.8 1.1 2.7 .1 2.7-1.7 2.8 .7 2.7 .5 2.7-.8 2.8 .5 2.7-.5 2.7-.6 2.8 .7 2.7 .3 2.7-1 2.8-.5 2.7 .8 2.7 .1 2.8-.1 2.7 .6 2.7-1.2 2.8 .9 2.7-.1 2.7-.7 2.8-1.1 2.7 .3 2.7 1.9 2.8-2.3 2.7 .5 2.7 .6 2.8-.8 2.7 .5 2.7-1.5 2.8 2.3 2.7-2" fill="none" stroke="url(#fl5)" stroke-width="0.9"/>
<path transform="translate(303.5 137.8) scale(1 0.90)" d="M-8.1 -.6 -5.3 -1.7 -3.4 -3.9 -2.2 -7.6 -1.4 -12.5 -.9 -17 -.6 -20 -.4 -21.6 -.2 -22.3 0 -22.9 .2 -22.4 .4 -21.6 .6 -20 .9 -17 1.4 -12.5 2.2 -7.7 3.4 -4 5.3 -1.9 8.1 -1Z" fill="url(#sp3)" stroke="#ffe0e0" stroke-width="0.5" stroke-opacity="0.85"/>
<path transform="translate(316.7 137.5) scale(1 0.53)" d="M-8.1 -5.1 -5.3 -12.3 -3.4 -26.8 -2.2 -52 -1.4 -85.3 -.9 -116 -.6 -136.5 -.4 -147.4 -.2 -152.4 0 -156.2 .2 -152.4 .4 -147.4 .6 -136.6 .9 -116.1 1.4 -85.4 2.2 -52.2 3.4 -27.1 5.3 -12.7 8.1 -5.7Z" fill="url(#sp)" stroke="#b83030" stroke-width="0.4" stroke-opacity="0.6"/>
<path transform="translate(332.8 137.2) scale(1 0.70)" d="M-8.1 -1.6 -5.3 -4 -3.4 -8.8 -2.2 -17.1 -1.4 -28 -.9 -38.2 -.6 -44.9 -.4 -48.5 -.2 -50.2 0 -51.4 .2 -50.2 .4 -48.5 .6 -45 .9 -38.2 1.4 -28.1 2.2 -17.2 3.4 -9 5.3 -4.3 8.1 -2Z" fill="url(#sp)" stroke="#b83030" stroke-width="0.4" stroke-opacity="0.6"/>
<path d="M139.7 140.8l2.7-.4 2.8 2.6 2.7-1 2.7-1.5 2.8 1.7 2.7 .3 2.7-2.9 2.8 1.9 2.7-1.8 2.7 .4 2.8 .6 2.7 1 2.7-1.8 2.8 .5 2.7 .9 2.7 .1 2.8-.4 2.7 .7 2.7-.7 2.8-.9 2.7 1.2 2.7-.5 2.8-.1 2.7-.2 2.7 .4 2.8-1 2.7-.8 2.7 2.2 2.8-.7 2.7-.4 2.7-1.3 2.8 1.1 2.7 .3 2.7-1.3 2.8 .9 2.7 .8 2.7-1.3 2.8 .1 2.7 .6 2.7 .9 2.8-1.1 2.7-.9 2.7 0 2.8 1.6 2.7-.3 2.7-1.9 2.8 2.4 2.7-2.5 2.7 .1 2.8-1.4 2.7 3.1 2.7-2.6 2.8 .8 2.7-1.3 2.7 .2 2.8-2.6 2.7-.3 2.7 1.3 2.8 .4 2.7-1.2 2.7 1.4 2.8 0 2.7 .1 2.7-1.4 2.8-1.7 2.7 .5 2.7 .8 2.8 2 2.7 1.3 2.7-.3 2.8 .4 2.7 0 2.7 .2 2.8-2 2.7 .8 2.7-3.6 2.8-1.1 2.7 0 2.7 1.6 2.8 2 2.7 2.4 2.7 .4 2.8-.7 2.7-.2 2.7-.6 2.8 .1 2.7-.5 2.7 1.8 2.8-1.9 2.7-.1 2.7-2.4 2.8-2.6 2.7-.2 2.7 3.5 2.8 .5 2.7 .5 2.7 1.4 2.8-.1 2.7-.6 2.7-1.2 2.8 .5 2.7 1.1 2.7-.6 2.8 1 2.7-.7 2.7 .3 2.8-4 2.7-4 2.7-1.8 2.8 1.2 2.7-.7 2.7 2.7 2.8 3.2 2.7 3.7 2.7-.7 2.8-.1 2.7-1.3 2.7 .9 2.8-1.7 2.7-.4 2.7 3.1 2.8-2.9 2.7 .4 2.7-.1 2.8 .2 2.7 .6 2.7 .2 2.8 0 2.7 .2 2.7-1.1 2.8 .3 2.7-.3 2.7 0 2.8 1.5 2.7-1.4 2.7 .5 2.8 .1 2.7-.8 2.7-.9 2.8 .9 2.7-.5 2.7-1.2 2.8 .7 2.7 .1 2.7 1.1 2.8-1.5 2.7 1 2.7-1.7 2.8-.5" fill="none" stroke="url(#fl2)" stroke-width="0.9"/>
<path transform="translate(304.7 138.4) scale(1 0.90)" d="M-8.1 -.3 -5.3 -1.1 -3.4 -2.5 -2.2 -4.9 -1.4 -8 -.9 -11 -.6 -12.9 -.4 -13.9 -.2 -14.4 0 -14.8 .2 -14.4 .4 -14 .6 -12.9 .9 -11 1.4 -8.1 2.2 -5 3.4 -2.6 5.3 -1.3 8.1 -.7Z" fill="url(#sp3)" stroke="#ffe0e0" stroke-width="0.5" stroke-opacity="0.85"/>
<path transform="translate(317.8 138.2) scale(1 0.51)" d="M-8.1 -5.1 -5.3 -12.2 -3.4 -26.7 -2.2 -51.8 -1.4 -84.9 -.9 -115.5 -.6 -136 -.4 -146.7 -.2 -151.8 0 -155.5 .2 -151.8 .4 -146.8 .6 -136 .9 -115.6 1.4 -85 2.2 -52 3.4 -27 5.3 -12.6 8.1 -5.7Z" fill="url(#sp)" stroke="#b83030" stroke-width="0.4" stroke-opacity="0.6"/>
<path transform="translate(334 137.8) scale(1 0.70)" d="M-8.1 -2.5 -5.3 -6.1 -3.4 -13.4 -2.2 -26 -1.4 -42.6 -.9 -57.9 -.6 -68.2 -.4 -73.6 -.2 -76.1 0 -78 .2 -76.1 .4 -73.6 .6 -68.2 .9 -58 1.4 -42.7 2.2 -26.1 3.4 -13.6 5.3 -6.4 8.1 -2.9Z" fill="url(#sp)" stroke="#b83030" stroke-width="0.4" stroke-opacity="0.6"/>
<path d="M140.9 140.9l2.8 2.4 2.7-2.2 2.7 0 2.8 .8 2.7-.5 2.7 .6 2.8-.5 2.7 .4 2.7 1.1 2.8-.8 2.7-.1 2.7-1 2.8 .8 2.7-.9 2.7-.5 2.8 1.2 2.7-.9 2.7 1.6 2.8-1.3 2.7-.9 2.7 0 2.8-2.3 2.7 3.5 2.7-.6 2.8 0 2.7 .6 2.7-.6 2.8 1 2.7-.9 2.7-2.9 2.8 3.2 2.7-1.5 2.7-.4 2.8-.2 2.7 .7 2.7 .2 2.7-.5 2.8-.2 2.7 2.2 2.7-2.7 2.8 1.1 2.7-.8 2.7-.1 2.8 .6 2.7 1.3 2.7 .4 2.8-2.4 2.7 1.3 2.7 .7 2.8-1 2.7-.7 2.7-1.7 2.8 1.8 2.7-2 2.7-.6 2.8-.2 2.7-.1 2.7-2.5 2.8 1.6 2.7 0 2.7 1.1 2.8-1.2 2.7 1.4 2.7-.6 2.8-3.1 2.7 .6 2.7 3.2 2.8 2.3 2.7-.2 2.7 0 2.8 .9 2.7 .4 2.7-2 2.8-.3 2.7-1.4 2.7-.3 2.8-2.8 2.7-.1 2.7 2.1 2.8 2.2 2.7 0 2.7 .7 2.8 .1 2.7-.3 2.7 .5 2.8 0 2.7-.8 2.7-.2 2.8-.9 2.7 0 2.7-1.9 2.8-2.3 2.7-1.4 2.7 4 2.8 2.4 2.7-1.7 2.7 .4 2.8 1.4 2.7-.5 2.7 .6 2.8-.7 2.7-1.4 2.7 1.3 2.8-1.1 2.7-.3 2.7 2.6 2.8-3.6 2.7-6.5 2.7 .1 2.8-.2 2.7 .4 2.7 1.4 2.8 5.4 2.7-1.1 2.7 1.9 2.8 2 2.7-.8 2.7-1.3 2.7-1.6 2.8 .8 2.7 1.4 2.7-.2 2.8 .9 2.7-2.4 2.7 2.3 2.8-2.2 2.7-.2 2.7 .4 2.8-.7 2.7-1 2.7 2.6 2.8-2.3 2.7 3.4 2.7-1.6 2.8-.2 2.7-.2 2.7-1.1 2.8 1.2 2.7 .5 2.7 0 2.8-.6 2.7-.8 2.7 1.4 2.8-.4 2.7-.1 2.7-1.1 2.8 .1 2.7 1.3 2.7 0" fill="none" stroke="url(#fl2)" stroke-width="0.9"/>
<path transform="translate(305.8 139.1) scale(1 0.90)" d="M-8.1 -.1 -5.3 -.5 -3.4 -1.1 -2.2 -2.3 -1.4 -3.8 -.9 -5.2 -.6 -6.2 -.4 -6.7 -.2 -6.9 0 -7.1 .2 -6.9 .4 -6.7 .6 -6.2 .9 -5.3 1.4 -3.9 2.2 -2.4 3.4 -1.3 5.3 -.7 8.1 -.4Z" fill="url(#sp3)" stroke="#ffe0e0" stroke-width="0.5" stroke-opacity="0.85"/>
<path transform="translate(319 138.8) scale(1 0.48)" d="M-8.1 -5.1 -5.3 -12.1 -3.4 -26.5 -2.2 -51.5 -1.4 -84.3 -.9 -114.8 -.6 -135 -.4 -145.8 -.2 -150.7 0 -154.5 .2 -150.8 .4 -145.8 .6 -135.1 .9 -114.8 1.4 -84.4 2.2 -51.6 3.4 -26.8 5.3 -12.5 8.1 -5.7Z" fill="url(#sp)" stroke="#b83030" stroke-width="0.4" stroke-opacity="0.6"/>
<path transform="translate(335.2 138.5) scale(1 0.70)" d="M-8.1 -3.3 -5.3 -8 -3.4 -17.6 -2.2 -34.1 -1.4 -55.8 -.9 -76 -.6 -89.4 -.4 -96.5 -.2 -99.8 0 -102.3 .2 -99.8 .4 -96.5 .6 -89.4 .9 -76 1.4 -55.9 2.2 -34.2 3.4 -17.7 5.3 -8.3 8.1 -3.8Z" fill="url(#sp)" stroke="#b83030" stroke-width="0.4" stroke-opacity="0.6"/>
<path d="M142.1 143.6l2.8-2.6 2.7 1.1 2.7 2.8 2.8-2.8 2.7-.4 2.7 0 2.8 1.4 2.7 .9 2.7-1.6 2.8-.6 2.7 .1 2.7 .1 2.8 .9 2.7-.8 2.7 .1 2.8 .4 2.7-2.2 2.7 1.9 2.8-.1 2.7-2 2.7 2 2.8 0 2.7-.3 2.7 1 2.8-1.8 2.7 .8 2.7-.5 2.8-.9 2.7 1.5 2.7-.2 2.8 1 2.7-2.2 2.7 1.1 2.8-1.2 2.7 .7 2.7 .4 2.8 .2 2.7-1.9 2.7 .5 2.8-.5 2.7 1 2.7 1.1 2.7-1.2 2.8-.7 2.7-.1 2.7-.3 2.8-.2 2.7 0 2.7-.7 2.8 2.9 2.7-2.4 2.7-.3 2.8-.7 2.7-.1 2.7 0 2.8-1.7 2.7-1.1 2.7 .3 2.8-.7 2.7 .5 2.7 3.4 2.8-3.4 2.7 3.2 2.7-4.4 2.8-.4 2.7 1.2 2.7 1.3 2.8 2.2 2.7 0 2.7 1.9 2.8-1.1 2.7 1.8 2.7-2.2 2.8 .1 2.7-.4 2.7-1.9 2.8-2.5 2.7 .3 2.7 1.4 2.8 2 2.7 .9 2.7 .2 2.8-1.5 2.7 1.2 2.7-.4 2.8-.7 2.7-.6 2.7 2.4 2.8-1.1 2.7-.4 2.7-3.4 2.7-2.6 2.8 2.1 2.7 2.1 2.7 1.7 2.8-1 2.7 2.8 2.7-2.4 2.8 .4 2.7 .5 2.7-.8 2.8 .8 2.7-2.5 2.7 1.6 2.8 .5 2.7-1.7 2.7-1.6 2.8-3.8 2.7-2.3 2.7-.7 2.8 .6 2.7 2.7 2.7 4.5 2.8 .7 2.7 .7 2.7-1.8 2.8 1.1 2.7-.6 2.7 1 2.8 .5 2.7-.6 2.7-.2 2.8 .6 2.7 2.1 2.7-2.2 2.8-1.6 2.7-.4 2.7 0 2.8 1.6 2.7 0 2.7-2 2.8 .9 2.7 1.6 2.7-.1 2.8-.2 2.7-.3 2.7 1.5 2.7-1.5 2.8-.2 2.7-1.2 2.7 .8 2.8 1.3 2.7-2 2.7-.6 2.8-.7 2.7 .6 2.7 0 2.8-.8 2.7 2.6" fill="none" stroke="url(#fl0)" stroke-width="0.9"/>
<path transform="translate(320.2 139.5) scale(1 0.46)" d="M-8.1 -4.9 -5.3 -11.9 -3.4 -26 -2.2 -50.4 -1.4 -82.6 -.9 -112.5 -.6 -132.3 -.4 -142.8 -.2 -147.7 0 -151.4 .2 -147.7 .4 -142.9 .6 -132.4 .9 -112.5 1.4 -82.7 2.2 -50.6 3.4 -26.3 5.3 -12.3 8.1 -5.6Z" fill="url(#sp)" stroke="#b83030" stroke-width="0.4" stroke-opacity="0.6"/>
<path transform="translate(336.4 139.2) scale(1 0.70)" d="M-8.1 -4.3 -5.3 -10.3 -3.4 -22.5 -2.2 -43.7 -1.4 -71.5 -.9 -97.3 -.6 -114.5 -.4 -123.6 -.2 -127.8 0 -131 .2 -127.8 .4 -123.6 .6 -114.6 .9 -97.4 1.4 -71.6 2.2 -43.8 3.4 -22.7 5.3 -10.6 8.1 -4.8Z" fill="url(#sp)" stroke="#b83030" stroke-width="0.4" stroke-opacity="0.6"/>
<path d="M143.4 144.2l2.7-1.7 2.7 2.2 2.8-3.9 2.7 1.7 2.7 .8 2.8 .8 2.7-1 2.7-.7 2.8 .6 2.7-1 2.7 .6 2.7 .8 2.8-1.5 2.7-1.9 2.7 4.6 2.8-2 2.7-.9 2.7 1.4 2.8 .4 2.7-.4 2.7-.8 2.8 1 2.7 .7 2.7-.4 2.8-1.6 2.7 .4 2.7-1.1 2.8 .7 2.7 1.1 2.7-.5 2.8 .1 2.7-1.6 2.7 .8 2.8 .1 2.7-.5 2.7-.3 2.8 1.1 2.7 .6 2.7-1.3 2.8 .3 2.7-.8 2.7 1.5 2.8-2.6 2.7 1.3 2.7-1.3 2.7 .7 2.8 .5 2.7 .6 2.7-.7 2.8 .5 2.7-2.6 2.7 1.9 2.8-1.3 2.7 .1 2.7-.9 2.8-1.5 2.7-2.4 2.7 2.6 2.8-1 2.7-.4 2.7 1.6 2.8 1 2.7-2.9 2.7 1 2.8-1 2.7 .9 2.7 1.5 2.8 1.5 2.7-.8 2.7 .9 2.8 .7 2.7-2.3 2.7 .4 2.8 1.1 2.7-2.1 2.7-1.1 2.8-1.3 2.7 .5 2.7 .9 2.7 1.5 2.8 .6 2.7 .3 2.7-.8 2.8-.4 2.7 1.3 2.7-.7 2.8-.6 2.7 1.3 2.7 .2 2.8 .3 2.7-4 2.7-.8 2.8-.7 2.7 1.4 2.7 1.6 2.8 2.5 2.7 .7 2.7-.7 2.8-1.6 2.7-1.6 2.7 1.9 2.8 1.7 2.7-.8 2.7-2.2 2.8 .6 2.7-.4 2.7-1.8 2.8-4.8 2.7 .1 2.7-2.8 2.7-.3 2.8 4.9 2.7 4.6 2.7 .5 2.8 .2 2.7 .8 2.7-.2 2.8-1.3 2.7-.9 2.7 1.6 2.8 .7 2.7-1.8 2.7-.7 2.8 1.7 2.7 .3 2.7-.6 2.8-.3 2.7-1.7 2.7 2.3 2.8-1.3 2.7-.2 2.7 .8 2.8-2.1 2.7 1 2.7 1.1 2.8-.4 2.7-.3 2.7-1.5 2.8 1.7 2.7-1 2.7 .2 2.8 1.3 2.7-1.3 2.7 1.2 2.7-.6 2.8-.3 2.7-.7 2.7 .5 2.8 .3" fill="none" stroke="url(#fl3)" stroke-width="0.9"/>
<path transform="translate(321.4 140.1) scale(1 0.43)" d="M-8.1 -4.4 -5.3 -10.8 -3.4 -23.6 -2.2 -45.8 -1.4 -75.1 -.9 -102.3 -.6 -120.3 -.4 -129.9 -.2 -134.3 0 -137.7 .2 -134.4 .4 -129.9 .6 -120.4 .9 -102.3 1.4 -75.3 2.2 -46 3.4 -23.9 5.3 -11.2 8.1 -5.2Z" fill="url(#sp)" stroke="#b83030" stroke-width="0.4" stroke-opacity="0.6"/>
<path transform="translate(337.6 139.8) scale(1 0.71)" d="M-8.1 -4.1 -5.3 -9.8 -3.4 -21.4 -2.2 -41.5 -1.4 -67.9 -.9 -92.5 -.6 -108.8 -.4 -117.4 -.2 -121.4 0 -124.5 .2 -121.4 .4 -117.4 .6 -108.8 .9 -92.5 1.4 -68 2.2 -41.6 3.4 -21.6 5.3 -10.1 8.1 -4.6Z" fill="url(#sp)" stroke="#b83030" stroke-width="0.4" stroke-opacity="0.6"/>
<path d="M144.6 145.4l2.7-.6 2.7-.7 2.8 2.2 2.7-2.9 2.7-.2 2.8 1.4 2.7-.7 2.7 0 2.8 .2 2.7-.5 2.7 1.1 2.8-1.8 2.7 1.2 2.7-1.6 2.8-1.5 2.7 2.1 2.7-.2 2.8 .1 2.7 .3 2.7-.8 2.7-.3 2.8 1.3 2.7-1.7 2.7 1.4 2.8-1.6 2.7 1.4 2.7 1.7 2.8-1.6 2.7 .4 2.7-.7 2.8-1 2.7 1.4 2.7-.1 2.8-.8 2.7 1.4 2.7-1 2.8-1.6 2.7-.2 2.7 1.8 2.8-.2 2.7-1.1 2.7-.5 2.8 1.4 2.7 .4 2.7-.2 2.7-1.8 2.8 .5 2.7 1.2 2.7-2.3 2.8 1.6 2.7 .2 2.7-2 2.8-.5 2.7 .8 2.7-.9 2.8-1.8 2.7 .2 2.7-1.7 2.8 .5 2.7 1.6 2.7 2.8 2.8-2 2.7 .2 2.7-3.3 2.8 1 2.7-.9 2.7 .6 2.8 3.5 2.7-.4 2.7 .7 2.8 .2 2.7-.7 2.7 .8 2.7 .2 2.8-2.2 2.7-1.2 2.7-2.4 2.8-.8 2.7 2.1 2.7 3.5 2.8 .6 2.7 .6 2.7-.7 2.8 .1 2.7-1.1 2.7-.8 2.8 .7 2.7 2.2 2.7-1.8 2.8-1.2 2.7-3.5 2.7-1.8 2.8 .1 2.7 3.1 2.7 3.5 2.8-1.2 2.7-.5 2.7 1.9 2.7-2.6 2.8-.6 2.7 2.8 2.7-.2 2.8 .3 2.7-1.2 2.7 .9 2.8-2.5 2.7-.5 2.7-5.2 2.8-2.3 2.7 .8 2.7-1.5 2.8 4.3 2.7 4.3 2.7 .7 2.8 1.8 2.7-1.4 2.7 .7 2.8-.9 2.7 1.2 2.7-2.3 2.8 .6 2.7 .9 2.7-.3 2.7 1.3 2.8-1.9 2.7 1.4 2.7-1.9 2.8 1.4 2.7-2.2 2.7 1.7 2.8 .2 2.7-1.6 2.7 1.1 2.8-2 2.7 0 2.7 2.2 2.8-1.6 2.7 .4 2.7 .4 2.8 1.8 2.7-1.7 2.7 .4 2.8-1.6 2.7-.1 2.7 2 2.8 .2 2.7-1.5 2.7 .6 2.7-1.3" fill="none" stroke="url(#fl1)" stroke-width="0.9"/>
<path transform="translate(322.6 140.8) scale(1 0.42)" d="M-8.1 -3.6 -5.3 -8.9 -3.4 -19.5 -2.2 -38 -1.4 -62.3 -.9 -84.7 -.6 -99.7 -.4 -107.6 -.2 -111.3 0 -114.1 .2 -111.3 .4 -107.7 .6 -99.8 .9 -84.8 1.4 -62.4 2.2 -38.2 3.4 -19.8 5.3 -9.3 8.1 -4.4Z" fill="url(#sp)" stroke="#b83030" stroke-width="0.4" stroke-opacity="0.6"/>
<path transform="translate(338.7 140.5) scale(1 0.72)" d="M-8.1 -4.2 -5.3 -10 -3.4 -21.8 -2.2 -42.3 -1.4 -69.3 -.9 -94.3 -.6 -111 -.4 -119.8 -.2 -123.9 0 -127 .2 -123.9 .4 -119.8 .6 -111 .9 -94.4 1.4 -69.4 2.2 -42.4 3.4 -22 5.3 -10.3 8.1 -4.6Z" fill="url(#sp)" stroke="#b83030" stroke-width="0.4" stroke-opacity="0.6"/>
<path d="M145.8 143.3l2.7 2.6 2.8-.3 2.7-1 2.7 .3 2.7-2.1 2.8 1.8 2.7 .1 2.7 1.1 2.8-1.9 2.7 1.3 2.7-.4 2.8 1.2 2.7-1.6 2.7-.4 2.8-.1 2.7 1.5 2.7-1.6 2.8-.2 2.7-.4 2.7 2 2.8-1.7 2.7 0 2.7 .2 2.8-.4 2.7 1.2 2.7-.3 2.7-2.8 2.8 1 2.7 .2 2.7 .3 2.8 .6 2.7 .3 2.7 .5 2.8-1.1 2.7 1.3 2.7-1.5 2.8 .6 2.7-.4 2.7 .1 2.8-2.2 2.7-.1 2.7 2.7 2.8-3.1 2.7 1.1 2.7 .2 2.8-.5 2.7 3.2 2.7-2.6 2.7-1.4 2.8 1.8 2.7-1.8 2.7 1.4 2.8-.2 2.7-2 2.7 0 2.8-.5 2.7-1 2.7-.7 2.8-.4 2.7 1.2 2.7 .4 2.8 .9 2.7 .6 2.7-1.1 2.8-2.3 2.7 .2 2.7 2 2.7 .8 2.8 1.1 2.7 .1 2.7 .8 2.8-.5 2.7-.1 2.7-.1 2.8-2.2 2.7-2.8 2.7-1.1 2.8 1.8 2.7 1.2 2.7 .8 2.8 1.6 2.7-.1 2.7 1.2 2.8-.1 2.7-1.6 2.7 1.1 2.8-1.3 2.7-.3 2.7 1.3 2.7-.9 2.8-4.5 2.7-1 2.7-.1 2.8 2.7 2.7 2.4 2.7 .3 2.8-.5 2.7 .7 2.7 1.5 2.8-1.4 2.7 .1 2.7-.1 2.8-1.4 2.7 2.3 2.7-2.1 2.8 1.6 2.7-3.2 2.7-5.7 2.8-.4 2.7-2.1 2.7 .6 2.7 4 2.8 4.5 2.7 1.2 2.7 1.9 2.8-1.6 2.7-.1 2.7-.8 2.8-.6 2.7 3.6 2.7-2.4 2.8-1.4 2.7 0 2.7-.8 2.8 1.8 2.7 .6 2.7-1.2 2.8-.5 2.7 1.3 2.7-.1 2.7 .2 2.8-1.7 2.7 1.6 2.7-1.3 2.8 .1 2.7 .2 2.7-.7 2.8 .3 2.7 1.1 2.7-.4 2.8-1.1 2.7-1.4 2.7 .9 2.8 .5 2.7-.2 2.7 1 2.8-2.2 2.7 .3 2.7 2.9" fill="none" stroke="url(#fl3)" stroke-width="0.9"/>
<path transform="translate(323.8 141.4) scale(1 0.42)" d="M-8.1 -2.4 -5.3 -6.2 -3.4 -13.7 -2.2 -26.7 -1.4 -43.8 -.9 -59.6 -.6 -70.2 -.4 -75.8 -.2 -78.4 0 -80.3 .2 -78.4 .4 -75.8 .6 -70.2 .9 -59.7 1.4 -43.9 2.2 -26.9 3.4 -14 5.3 -6.7 8.1 -3.2Z" fill="url(#sp)" stroke="#b83030" stroke-width="0.4" stroke-opacity="0.6"/>
<path transform="translate(339.9 141.1) scale(1 0.73)" d="M-8.1 -4 -5.3 -9.6 -3.4 -20.9 -2.2 -40.5 -1.4 -66.3 -.9 -90.2 -.6 -106.2 -.4 -114.6 -.2 -118.5 0 -121.5 .2 -118.5 .4 -114.6 .6 -106.2 .9 -90.3 1.4 -66.4 2.2 -40.6 3.4 -21 5.3 -9.8 8.1 -4.4Z" fill="url(#sp)" stroke="#b83030" stroke-width="0.4" stroke-opacity="0.6"/>
<path d="M147 144.4l2.7 1.8 2.8-.9 2.7 .3 2.7 2.7 2.8-4.9 2.7 1.3 2.7 2.8 2.8-3.7 2.7 1.9 2.7-.2 2.8-.1 2.7-1.4 2.7 .4 2.7 1.3 2.8-.9 2.7 .9 2.7-2.1 2.8 .7 2.7-.6 2.7 2 2.8-1.3 2.7-1.7 2.7 2.1 2.8-.4 2.7 .3 2.7 .1 2.8-.8 2.7 .2 2.7 .6 2.7-.1 2.8-1.3 2.7-.9 2.7 1 2.8-.2 2.7 1 2.7-.4 2.8 .4 2.7-.8 2.7 0 2.8-1.2 2.7-.1 2.7 1.5 2.8-1.1 2.7 .7 2.7 .9 2.8-.6 2.7-.9 2.7 0 2.7-.4 2.8 1.1 2.7-.7 2.7 1.1 2.8-3 2.7-2.9 2.7 1.9 2.8 1.5 2.7-2.6 2.7-.2 2.8-.7 2.7 .7 2.7-.2 2.8 .9 2.7 .7 2.7-.2 2.7-2 2.8-.7 2.7 2.7 2.7 .4 2.8 1 2.7 0 2.7 2.9 2.8-1.4 2.7-2 2.7 .6 2.8-1 2.7-2.5 2.7-.4 2.8 0 2.7 1.5 2.7 2.4 2.8 0 2.7 1.8 2.7-3.2 2.7-.3 2.8 .9 2.7 .4 2.7 1.9 2.8-3.7 2.7 1 2.7 .4 2.8-2.2 2.7-3.5 2.7 1.3 2.8 1.5 2.7 1.4 2.7 2.6 2.8 .3 2.7-.8 2.7-1.6 2.7 .6 2.8 .1 2.7 .2 2.7-1.3 2.8 1.9 2.7-2.1 2.7 1.7 2.8-2.9 2.7-5.4 2.7-2.5 2.8 .9 2.7 1.6 2.7 1.6 2.8 6 2.7-1.1 2.7 .7 2.8 .1 2.7-.7 2.7 1.6 2.7 .6 2.8-1.5 2.7 0 2.7 1.4 2.8-2 2.7-.8 2.7-.6 2.8 .8 2.7 .5 2.7 2.4 2.8-.2 2.7-3.1 2.7-.6 2.8 1.9 2.7-.8 2.7-.5 2.7 .2 2.8-.4 2.7 1.3 2.7 .8 2.8-1.4 2.7-.2 2.7 2.3 2.8-2.3 2.7-2.7 2.7 1.7 2.8 .9 2.7-.9 2.7 0 2.8 .4 2.7 .3" fill="none" stroke="url(#fl1)" stroke-width="0.9"/>
<path transform="translate(325 142.1) scale(1 0.42)" d="M-8.1 -.5 -5.3 -1.8 -3.4 -4.2 -2.2 -8.3 -1.4 -13.7 -.9 -18.7 -.6 -22 -.4 -23.8 -.2 -24.6 0 -25.2 .2 -24.6 .4 -23.8 .6 -22.1 .9 -18.8 1.4 -13.8 2.2 -8.5 3.4 -4.5 5.3 -2.3 8.1 -1.3Z" fill="url(#sp)" stroke="#b83030" stroke-width="0.4" stroke-opacity="0.6"/>
<path transform="translate(341.1 141.8) scale(1 0.74)" d="M-8.1 -3.9 -5.3 -9.2 -3.4 -20.1 -2.2 -38.9 -1.4 -63.8 -.9 -86.8 -.6 -102.1 -.4 -110.3 -.2 -114 0 -116.9 .2 -114 .4 -110.3 .6 -102.2 .9 -86.9 1.4 -63.9 2.2 -39.1 3.4 -20.2 5.3 -9.5 8.1 -4.3Z" fill="url(#sp)" stroke="#b83030" stroke-width="0.4" stroke-opacity="0.6"/>
<path d="M148.2 145.6l2.8 1.1 2.7-.3 2.7-1 2.7-.1 2.8 1.1 2.7 .9 2.7-1 2.8 .3 2.7-1.5 2.7 2.1 2.8-1.7 2.7-.3 2.7 2 2.8-2 2.7 0 2.7-1.4 2.7 1 2.8-.3 2.7 .5 2.7-1.3 2.8 1.9 2.7-2.2 2.7 .5 2.8 2.5 2.7-1 2.7-1.9 2.8 .2 2.7 1.2 2.7 .1 2.8-1.1 2.7 2 2.7-1.4 2.7-1.3 2.8 2.5 2.7-2.9 2.7-.2 2.8 2.2 2.7 .4 2.7-1.1 2.8-.5 2.7-.4 2.7 1.1 2.8 .6 2.7-2.2 2.7 1.8 2.8 .3 2.7-.3 2.7-1.5 2.7 1 2.8-.1 2.7-1.6 2.7 1.5 2.8 .8 2.7-3.3 2.7-.8 2.8-.8 2.7 .3 2.7 .4 2.8-.7 2.7 1 2.7-1.2 2.8 1.2 2.7-1.5 2.7-.1 2.7-1 2.8-1.6 2.7 4.2 2.7 0 2.8 .7 2.7 1.3 2.7 .5 2.8-.8 2.7 .3 2.7-.8 2.8-1.4 2.7-1.6 2.7-1.6 2.7-.8 2.8 2.3 2.7 .5 2.7 3.8 2.8-1.5 2.7 .7 2.7-1.6 2.8 .9 2.7-1.1 2.7-.4 2.8 1.5 2.7-1.3 2.7-.7 2.8-.9 2.7-2.6 2.7-.9 2.7 5.1 2.8 .5 2.7 .7 2.7-.3 2.8-.2 2.7-1.9 2.7 2.2 2.8 .7 2.7-1.2 2.7 .8 2.8-1.7 2.7 0 2.7 1.8 2.8-2.6 2.7-6.2 2.7-.9 2.7-.6 2.8-1.1 2.7 4.3 2.7 4 2.8 2.7 2.7 .1 2.7-.4 2.8-.4 2.7-1.1 2.7-.4 2.8-.8 2.7 2.3 2.7-1.6 2.8 1.4 2.7 .8 2.7-3 2.7 .9 2.8 1.1 2.7-.5 2.7-1.1 2.8-1 2.7 .8 2.7 .1 2.8 1.4 2.7 .7 2.7-1.5 2.8 1.1 2.7-.8 2.7-1.7 2.7 .9 2.8 1.2 2.7 .6 2.7-.7 2.8-1.6 2.7 2.7 2.7-1.2 2.8-1.6 2.7 1 2.7-.5 2.8 .9" fill="none" stroke="url(#fl5)" stroke-width="0.9"/>
<path transform="translate(326.2 142.7) scale(1 0.42)" d="M-8.1 -.3 -5.3 -1.3 -3.4 -3.1 -2.2 -6.2 -1.4 -10.2 -.9 -13.9 -.6 -16.4 -.4 -17.7 -.2 -18.3 0 -18.8 .2 -18.4 .4 -17.8 .6 -16.5 .9 -14 1.4 -10.3 2.2 -6.4 3.4 -3.4 5.3 -1.7 8.1 -1Z" fill="url(#sp)" stroke="#b83030" stroke-width="0.4" stroke-opacity="0.6"/>
<path transform="translate(342.3 142.4) scale(1 0.74)" d="M-8.1 -4 -5.3 -9.5 -3.4 -20.8 -2.2 -40.3 -1.4 -66 -.9 -89.9 -.6 -105.7 -.4 -114.1 -.2 -118 0 -121 .2 -118 .4 -114.2 .6 -105.8 .9 -89.9 1.4 -66.1 2.2 -40.4 3.4 -21 5.3 -9.8 8.1 -4.4Z" fill="url(#sp)" stroke="#b83030" stroke-width="0.4" stroke-opacity="0.6"/>
<path d="M149.4 145.4l2.8 1.7 2.7-.8 2.7 .3 2.8 1.5 2.7-1.5 2.7-.1 2.8 .4 2.7-.2 2.7 1.3 2.7-2.3 2.8 1.2 2.7-.9 2.7 .6 2.8-1.4 2.7 .8 2.7-.7 2.8 1.7 2.7-1.7 2.7 .1 2.8 .5 2.7 .2 2.7-.8 2.7-.2 2.8 .5 2.7-.2 2.7 .4 2.8 .2 2.7 .6 2.7-2.2 2.8 .5 2.7 .1 2.7 .4 2.8-.1 2.7 .3 2.7-1.4 2.7 .5 2.8 .1 2.7 .2 2.7 .5 2.8-2 2.7 1.3 2.7-1 2.8 1.3 2.7-.8 2.7-.9 2.8 2.2 2.7-.5 2.7 .1 2.7-1.3 2.8 1.7 2.7-1.3 2.7 .5 2.8-.3 2.7-4.3 2.7 1.6 2.8-2.2 2.7-.6 2.7-.6 2.8 1.6 2.7 1.3 2.7-2.4 2.7 4.2 2.8 .3 2.7-3.6 2.7-2.1 2.8 0 2.7 3.2 2.7 2.8 2.8-.9 2.7-.6 2.7 1 2.8-1.5 2.7 1.3 2.7-1.2 2.7 .5 2.8-2.9 2.7-2.7 2.7 .1 2.8 2.3 2.7 2.4 2.7 1.3 2.8-.3 2.7-1 2.7 .1 2.8 1.7 2.7-2.2 2.7-.3 2.7 2 2.8-1.3 2.7 .5 2.7-3.3 2.8-2.1 2.7-.1 2.7 2.9 2.8 2.2 2.7-.3 2.7 2.7 2.8-1.3 2.7-1.1 2.7 .1 2.8-.7 2.7 1.3 2.7 .4 2.7-1.3 2.8 .4 2.7 1.1 2.7-5.2 2.8-4.2 2.7-1.2 2.7-2.6 2.8 3.5 2.7 1.8 2.7 4.1 2.8 1.7 2.7 .5 2.7-.6 2.7-.3 2.8-.5 2.7 1.2 2.7-.2 2.8 .4 2.7-.4 2.7 0 2.8 0 2.7-2.3 2.7 2.2 2.8-.1 2.7-2.6 2.7 1.2 2.7 3.2 2.8-2.5 2.7 .2 2.7 1.1 2.8-.3 2.7-1.9 2.7 .3 2.8 .2 2.7 .8 2.7-2 2.8 .9 2.7 .1 2.7-.1 2.7 1.5 2.8-1.9 2.7-1 2.7 1 2.8 .7 2.7-1.6 2.7 2.2" fill="none" stroke="url(#fl4)" stroke-width="0.9"/>
<path transform="translate(327.4 143.4) scale(1 0.42)" d="M-8.1 -0 -5.2 -.7 -3.4 -1.9 -2.2 -3.8 -1.4 -6.3 -.9 -8.6 -.6 -10.2 -.4 -11 -.2 -11.4 0 -11.7 .2 -11.4 .4 -11 .6 -10.2 .9 -8.7 1.4 -6.4 2.2 -4 3.4 -2.2 5.2 -1.2 8.1 -.8Z" fill="url(#sp)" stroke="#b83030" stroke-width="0.4" stroke-opacity="0.6"/>
<path transform="translate(343.5 143.1) scale(1 0.75)" d="M-8.1 -3.9 -5.2 -9.4 -3.4 -20.5 -2.2 -39.7 -1.4 -65 -.9 -88.5 -.6 -104.1 -.4 -112.4 -.2 -116.2 0 -119.1 .2 -116.2 .4 -112.4 .6 -104.2 .9 -88.5 1.4 -65.1 2.2 -39.8 3.4 -20.6 5.2 -9.6 8.1 -4.4Z" fill="url(#sp)" stroke="#b83030" stroke-width="0.4" stroke-opacity="0.6"/>
<path d="M150.6 147l2.8 .1 2.7 1.8 2.7-2.1 2.8 .1 2.7 1 2.7-2.2 2.8 1.6 2.7-.1 2.7-.7 2.8 .1 2.7 0 2.7 .8 2.7-.8 2.8 .1 2.7 1 2.7 .4 2.8-3.6 2.7 3 2.7-.3 2.8-1.4 2.7 .4 2.7 1.7 2.8-2.2 2.7-.2 2.7 .7 2.7 .3 2.8-.4 2.7 .8 2.7 .2 2.8-1.6 2.7-1.3 2.7 .6 2.8 .6 2.7-.4 2.7 .2 2.7-.5 2.8 0 2.7 1.9 2.7-.5 2.8-2.1 2.7 2.1 2.7 .8 2.8-2.8 2.7 1 2.7-.5 2.8-.7 2.7 1.9 2.7-1.1 2.7-.1 2.8 .3 2.7-.3 2.7-.2 2.8-1.2 2.7 .4 2.7-1.4 2.8 .2 2.7-1.8 2.7-1 2.8 1.6 2.7 0 2.7 1.4 2.7-2 2.8 1.7 2.7-1.6 2.7-3.5 2.8 2.2 2.7 2 2.7 2.4 2.8 1.1 2.7-2.5 2.7 1.1 2.7 .1 2.8-.4 2.7 .7 2.7-1.8 2.8-2.1 2.7-2.3 2.7 1.1 2.8 2 2.7 1.2 2.7 .3 2.8-.1 2.7 1.3 2.7 .1 2.7 .7 2.8-.8 2.7-.8 2.7-.3 2.8 1.3 2.7-.2 2.7-2.7 2.8-4.2 2.7 1.1 2.7 2.9 2.8-.5 2.7 2.1 2.7 .4 2.7-.5 2.8 .1 2.7 .2 2.7-1 2.8 .8 2.7-.2 2.7-.3 2.8-.6 2.7 2 2.7-3.1 2.7-5.1 2.8-1.4 2.7-.6 2.7 1 2.8 2.8 2.7 4.8 2.7-.2 2.8-1.1 2.7 2.1 2.7-2.2 2.8 .1 2.7 2.8 2.7-2 2.7-.2 2.8 2.2 2.7-2.2 2.7 .4 2.8-.4 2.7-1.2 2.7 1.1 2.8-.3 2.7 1.4 2.7-1.8 2.8 0 2.7-.2 2.7-2.2 2.7 2.9 2.8-.8 2.7 .8 2.7-.7 2.8-1.6 2.7 2.3 2.7 .6 2.8-2.1 2.7 1.5 2.7-.3 2.7-.6 2.8 .5 2.7-.4 2.7-.6 2.8-.6 2.7 2.1" fill="none" stroke="url(#fl1)" stroke-width="0.9"/>
<path transform="translate(328.6 144.1) scale(1 0.42)" d="M-8.1 -0 -5.2 -.7 -3.4 -1.9 -2.2 -3.8 -1.4 -6.4 -.9 -8.7 -.6 -10.3 -.4 -11.1 -.2 -11.5 0 -11.8 .2 -11.5 .4 -11.1 .6 -10.3 .9 -8.8 1.4 -6.5 2.2 -4 3.4 -2.2 5.2 -1.2 8.1 -.8Z" fill="url(#sp)" stroke="#b83030" stroke-width="0.4" stroke-opacity="0.6"/>
<path transform="translate(344.7 143.8) scale(1 0.87)" d="M-8.1 -3.3 -5.2 -7.8 -3.4 -16.9 -2.2 -32.9 -1.4 -53.9 -.9 -73.3 -.6 -86.3 -.4 -93.1 -.2 -96.3 0 -98.7 .2 -96.3 .4 -93.1 .6 -86.3 .9 -73.3 1.4 -53.9 2.2 -33 3.4 -17.1 5.2 -8 8.1 -3.6Z" fill="url(#sp)" stroke="#b83030" stroke-width="0.4" stroke-opacity="0.6"/>
<path d="M151.9 148.9l2.7-1.4 2.7-1.1 2.8 1.9 2.7 .6 2.7-2.4 2.7 2.3 2.8-1.6 2.7-.2 2.7 .7 2.8 1.1 2.7-1.9 2.7 .1 2.8 .4 2.7-.9 2.7 1.2 2.7 1 2.8 .6 2.7-2.3 2.7 .6 2.8-1.2 2.7 .3 2.7 .1 2.8 .7 2.7-.7 2.7-.8 2.8 1.7 2.7-2.2 2.7 1.3 2.7-.8 2.8 1.2 2.7-1.5 2.7 .8 2.8-.1 2.7-.4 2.7-1.3 2.8 .9 2.7 .4 2.7 1.2 2.7-1.1 2.8 1 2.7-1.5 2.7 .6 2.8-.4 2.7 .8 2.7-.8 2.8-.3 2.7-1.4 2.7 1 2.7-.2 2.8 1.4 2.7-2 2.7 1 2.8-.1 2.7-1.3 2.7-1.3 2.8-.2 2.7-.5 2.7-1.3 2.7 1.4 2.8 0 2.7 .8 2.7 .1 2.8 0 2.7-.4 2.7-3.6 2.8 3.5 2.7-.8 2.7 1.1 2.8 .3 2.7 1 2.7-.1 2.7 .8 2.8-.1 2.7 .3 2.7-1.4 2.8-.9 2.7-1.3 2.7-2.9 2.8 2.4 2.7 .9 2.7 2.2 2.7 1.1 2.8-1.5 2.7-.8 2.7 2.8 2.8-1.5 2.7-.5 2.7-1.9 2.8 1.6 2.7 .7 2.7-1.7 2.7-1.8 2.8 .1 2.7 .4 2.7 2 2.8 .1 2.7 1.5 2.7-3.4 2.8 2.5 2.7 .7 2.7-1 2.8-1 2.7 .9 2.7-.3 2.7-2.1 2.8 2.6 2.7-4.1 2.7-1.7 2.8-4.1 2.7 .5 2.7-1 2.8 3.5 2.7 5.3 2.7 .5 2.7-.1 2.8 .2 2.7 .4 2.7 .4 2.8-.5 2.7-.3 2.7 .4 2.8-1.5 2.7 1.8 2.7 .4 2.7-.6 2.8-.3 2.7-.6 2.7-1 2.8 .6 2.7-1 2.7 .8 2.8-.2 2.7-1 2.7 .9 2.7-.3 2.8 .7 2.7 .5 2.7-.6 2.8-1.9 2.7 1.2 2.7 2.3 2.8-1.1 2.7-1.6 2.7 1 2.8-1.3 2.7 .3 2.7 .6 2.7-2 2.8 1.8" fill="none" stroke="url(#fl3)" stroke-width="0.9"/>
<path transform="translate(329.8 144.7) scale(1 0.42)" d="M-8.1 -.1 -5.2 -.7 -3.4 -2 -2.2 -4 -1.4 -6.6 -.9 -9 -.6 -10.6 -.4 -11.5 -.2 -11.9 0 -12.2 .2 -11.9 .4 -11.5 .6 -10.7 .9 -9.1 1.4 -6.7 2.2 -4.2 3.4 -2.3 5.2 -1.2 8.1 -.8Z" fill="url(#sp)" stroke="#b83030" stroke-width="0.4" stroke-opacity="0.6"/>
<path transform="translate(345.9 144.4) scale(1 2.21)" d="M-8.1 -1.3 -5.2 -3 -3.4 -6.5 -2.2 -12.7 -1.4 -20.8 -.9 -28.3 -.6 -33.3 -.4 -35.9 -.2 -37.2 0 -38.1 .2 -37.2 .4 -35.9 .6 -33.3 .9 -28.3 1.4 -20.8 2.2 -12.7 3.4 -6.6 5.2 -3.1 8.1 -1.4Z" fill="url(#sp)" stroke="#b83030" stroke-width="0.4" stroke-opacity="0.6"/>
<path d="M153.1 148.3l2.7 .2 2.7 1.1 2.8-.7 2.7-.7 2.7 1.2 2.8-1.8 2.7 .7 2.7 0 2.7 .1 2.8 2.1 2.7-2.6 2.7-.5 2.8-1.2 2.7 1.1 2.7 .7 2.8-.3 2.7 .6 2.7-.3 2.7 1.3 2.8-1.7 2.7-1.2 2.7 1 2.8 1.1 2.7-.5 2.7-1.5 2.8-.2 2.7 2.3 2.7-.5 2.7-.7 2.8-.8 2.7 .4 2.7-.1 2.8-.7 2.7 .2 2.7 1.7 2.8-1.7 2.7 .8 2.7-.1 2.7-.4 2.8 .1 2.7 0 2.7-1 2.8-1.1 2.7 2.1 2.7-.8 2.8 1.1 2.7 .4 2.7 0 2.7 0 2.8-1.4 2.7-.1 2.7-1.7 2.8 .3 2.7-.7 2.7 0 2.8-.7 2.7-1.9 2.7 .2 2.7-.2 2.8 .4 2.7 2.2 2.7-.1 2.8-1.6 2.7-.4 2.7-3.1 2.8 1.8 2.7 1.5 2.7 1 2.7-.7 2.8 2.2 2.7 1.1 2.7-.6 2.8 .5 2.7-.5 2.7-1.4 2.8-1.3 2.7-2.7 2.7 1.9 2.7 .1 2.8 2.6 2.7 .4 2.7-1.5 2.8 1.8 2.7-.6 2.7-.5 2.8-.4 2.7 0 2.7 1.1 2.7 .2 2.8-2.1 2.7-1.6 2.7 .8 2.8-1.7 2.7 2.3 2.7 .5 2.8 1.5 2.7-1.6 2.7-.1 2.7 2.7 2.8-3.2 2.7 1.1 2.7 1.1 2.8-1.9 2.7 1.8 2.7-1.7 2.8-.8 2.7-.8 2.7-4.5 2.7-.9 2.8-1 2.7-1.9 2.7 5.4 2.8 2.3 2.7 1.6 2.7 1.1 2.8-.9 2.7 .4 2.7-.2 2.7-.5 2.8 .1 2.7 .9 2.7-.7 2.8-.1 2.7 .4 2.7 .4 2.8-.6 2.7-.1 2.7-.2 2.7 1.1 2.8 .7 2.7-2.6 2.7 .5 2.8 1 2.7-1.6 2.7 .9 2.8 .4 2.7-1.9 2.7 .1 2.7 1.2 2.8-1.2 2.7 .3 2.7 1.7 2.8 .2 2.7-1.7 2.7 .6 2.8 .4 2.7-.7 2.7-.6 2.7-.5" fill="none" stroke="url(#fg5)" stroke-width="0.9"/>
<path transform="translate(331 145.4) scale(1 0.42)" d="M-8.1 -0 -5.2 -.7 -3.4 -1.8 -2.2 -3.7 -1.4 -6.1 -.9 -8.3 -.6 -9.8 -.4 -10.6 -.2 -11 0 -11.2 .2 -11 .4 -10.6 .6 -9.9 .9 -8.4 1.4 -6.2 2.2 -3.8 3.4 -2.1 5.2 -1.1 8.1 -.8Z" fill="url(#sp)" stroke="#b83030" stroke-width="0.4" stroke-opacity="0.6"/>
<path transform="translate(347.1 145.1) scale(1 2.49)" d="M-8.1 -.9 -5.2 -2.2 -3.4 -4.8 -2.2 -9.4 -1.4 -15.3 -.9 -20.9 -.6 -24.5 -.4 -26.5 -.2 -27.4 0 -28.1 .2 -27.4 .4 -26.5 .6 -24.5 .9 -20.9 1.4 -15.3 2.2 -9.4 3.4 -4.9 5.2 -2.3 8.1 -1Z" fill="url(#sp)" stroke="#b83030" stroke-width="0.4" stroke-opacity="0.6"/>
<path d="M154.3 150.5l2.7 0 2.8-.7 2.7 .1 2.7-1 2.7 .8 2.8-1.4 2.7 1.4 2.7-.1 2.8-2.2 2.7 1.8 2.7 .2 2.7-.9 2.8-.8 2.7-.2 2.7 1.9 2.8 .8 2.7-.6 2.7-.7 2.8-1.4 2.7-.3 2.7 1.8 2.7 .2 2.8-1.9 2.7 1 2.7-.1 2.8-1.5 2.7 .7 2.7 1.8 2.8-1.6 2.7 .3 2.7-.9 2.7 2.1 2.8-1.2 2.7 .5 2.7-.8 2.8 .9 2.7-1.6 2.7 1.5 2.8-1.9 2.7-.2 2.7 1.1 2.7-1.4 2.8 0 2.7 1.3 2.7 .6 2.8-.3 2.7-.1 2.7-1.5 2.7 .1 2.8 .3 2.7-.6 2.7-.5 2.8 1 2.7-1 2.7 0 2.8-2.7 2.7-.4 2.7-.6 2.7 .7 2.8 .4 2.7 1.5 2.7 .7 2.8-1.9 2.7 1.9 2.7-4.9 2.8 2.2 2.7 1.7 2.7 .3 2.7 2.2 2.8 1 2.7-2.3 2.7-.2 2.8 .3 2.7 1.3 2.7-2.4 2.7-1.6 2.8-1.5 2.7-.6 2.7 2.9 2.8-.4 2.7 2.6 2.7-.5 2.8-.3 2.7 .4 2.7-.8 2.7 .6 2.8-.5 2.7 1.5 2.7-1.6 2.8 0 2.7 .2 2.7-2.2 2.8 .7 2.7 1 2.7 1.5 2.7-.1 2.8-.3 2.7-.7 2.7-.1 2.8 .2 2.7 .5 2.7-.9 2.7-1.1 2.8 .4 2.7 .3 2.7-.2 2.8-2.1 2.7-5 2.7-1.9 2.8-.1 2.7 0 2.7 2.4 2.7 4.5 2.8 1.7 2.7 .7 2.7 .7 2.8 .4 2.7-2.4 2.7 .3 2.8 .6 2.7 .7 2.7-1.2 2.7-1 2.8-.1 2.7-.9 2.7 1.2 2.8 0 2.7-.4 2.7 2.5 2.7-2.2 2.8 1.3 2.7-1 2.7 1.7 2.8-.5 2.7-.1 2.7-.5 2.8-1.1 2.7 1.5 2.7-1.6 2.7-.4 2.8 1.9 2.7-1.9 2.7-.8 2.8 2.1 2.7-1.2 2.7-.8 2.8 1.8 2.7 0 2.7-.5" fill="none" stroke="url(#fg4)" stroke-width="0.9"/>
<path transform="translate(332.2 146) scale(1 0.42)" d="M-8.1 -0 -5.2 -.7 -3.4 -1.8 -2.2 -3.7 -1.4 -6.1 -.9 -8.4 -.6 -9.9 -.4 -10.7 -.2 -11 0 -11.3 .2 -11 .4 -10.7 .6 -9.9 .9 -8.4 1.4 -6.2 2.2 -3.9 3.4 -2.1 5.2 -1.1 8.1 -.8Z" fill="url(#sp)" stroke="#b83030" stroke-width="0.4" stroke-opacity="0.6"/>
<path transform="translate(348.3 145.7) scale(1 2.60)" d="M-8.1 -.6 -5.2 -1.5 -3.4 -3.3 -2.2 -6.4 -1.4 -10.5 -.9 -14.4 -.6 -16.9 -.4 -18.2 -.2 -18.9 0 -19.3 .2 -18.9 .4 -18.2 .6 -16.9 .9 -14.4 1.4 -10.6 2.2 -6.5 3.4 -3.4 5.2 -1.6 8.1 -.7Z" fill="url(#sp)" stroke="#b83030" stroke-width="0.4" stroke-opacity="0.6"/>
<path d="M155.5 150.4l2.7 .4 2.8-1.3 2.7-1.7 2.7 1.1 2.8 2.1 2.7-2.4 2.7 1.9 2.7-1.4 2.8 .7 2.7-1.6 2.7 1.2 2.8-.1 2.7 .1 2.7 0 2.7-.4 2.8-1.4 2.7 .1 2.7 .7 2.8 .6 2.7 .1 2.7-1.4 2.8 2 2.7 0 2.7-.3 2.7-.9 2.8-.1 2.7-.1 2.7 .5 2.8 .4 2.7 1.2 2.7-2.3 2.7 1 2.8-1.7 2.7 1.9 2.7-1.2 2.8-.4 2.7 .1 2.7-.4 2.8-.2 2.7 .5 2.7-.6 2.7 .8 2.8 0 2.7-2.5 2.7 2.4 2.8 .1 2.7 1.4 2.7-.9 2.7-1 2.8 .6 2.7-.9 2.7 .8 2.8-2.8 2.7 .3 2.7-.3 2.8-.8 2.7-.7 2.7-1.2 2.7 1.4 2.8-.5 2.7 1.3 2.7 1.5 2.8-.8 2.7-1.6 2.7-2.3 2.7-1 2.8 4.4 2.7 1.5 2.7-.4 2.8 .6 2.7 1.3 2.7-2.2 2.8 1.7 2.7-.1 2.7-1.3 2.7-1 2.8-2.8 2.7-1.1 2.7 1.1 2.8 3.1 2.7 1.1 2.7-.6 2.7 .6 2.8-3.1 2.7 1 2.7 .9 2.8 .7 2.7-.8 2.7-.4 2.8 .7 2.7-1.6 2.7-2.6 2.7 4.5 2.8-1.4 2.7-.1 2.7 1.6 2.8 .3 2.7-1.4 2.7 .4 2.7 .2 2.8 .6 2.7-2.4 2.7 1.6 2.8-1.1 2.7 .7 2.7 1 2.8-3.8 2.7-3 2.7-3.8 2.7 .4 2.8 1.7 2.7 .9 2.7 3.7 2.8 3.2 2.7 1 2.7-.1 2.7-1.2 2.8-2.1 2.7 2.5 2.7-2.9 2.8 2.8 2.7-1.3 2.7 1.6 2.7-2.2 2.8 .9 2.7-1.5 2.7 1 2.8-.4 2.7-.3 2.7 .2 2.8 0 2.7 .5 2.7-.1 2.7 .4 2.8-1.8 2.7 1.5 2.7 1.5 2.8-2.3 2.7-.6 2.7 1.4 2.7-.6 2.8 .3 2.7-1 2.7-.8 2.8 1.1 2.7 .2 2.7-1.1 2.8 .4 2.7 .8" fill="none" stroke="url(#fg1)" stroke-width="0.9"/>
<path transform="translate(333.4 146.7) scale(1 0.42)" d="M-8.1 -0 -5.2 -.7 -3.4 -1.9 -2.2 -3.8 -1.4 -6.3 -.9 -8.6 -.6 -10.2 -.4 -11 -.2 -11.4 0 -11.7 .2 -11.4 .4 -11 .6 -10.2 .9 -8.7 1.4 -6.4 2.2 -4 3.4 -2.2 5.2 -1.2 8.1 -.8Z" fill="url(#sp)" stroke="#b83030" stroke-width="0.4" stroke-opacity="0.6"/>
<path transform="translate(349.5 146.4) scale(1 2.71)" d="M-8.1 -.4 -5.2 -1 -3.4 -2.3 -2.2 -4.5 -1.4 -7.4 -.9 -10.1 -.6 -11.8 -.4 -12.8 -.2 -13.2 0 -13.5 .2 -13.2 .4 -12.8 .6 -11.8 .9 -10.1 1.4 -7.4 2.2 -4.5 3.4 -2.4 5.2 -1.1 8.1 -.5Z" fill="url(#sp)" stroke="#b83030" stroke-width="0.4" stroke-opacity="0.6"/>
<path d="M156.7 150.3l2.8 1.2 2.7-2.2 2.7 1.7 2.7-.6 2.8-.2 2.7 .9 2.7 .2 2.8-2.1 2.7 1 2.7-.9 2.7-1.4 2.8 2.8 2.7-.7 2.7-.2 2.8 1.6 2.7-.8 2.7-2.6 2.7 1.7 2.8-1 2.7-.8 2.7 2 2.8-1.8 2.7 .4 2.7 1.2 2.7-.8 2.8-.5 2.7 1.1 2.7-1.1 2.8 0 2.7 3.2 2.7-2.8 2.8 .9 2.7-1.4 2.7 .7 2.7-1 2.8 1.2 2.7 .7 2.7-2.8 2.8 1.9 2.7-1.3 2.7 1 2.7 .7 2.8 0 2.7-2.2 2.7 .8 2.8 .1 2.7 1.8 2.7-1.8 2.7 .3 2.8-.8 2.7 .2 2.7-.1 2.8-.9 2.7-.2 2.7-2.3 2.8 .8 2.7-.7 2.7-1.8 2.7 .5 2.8 1 2.7 .6 2.7 .2 2.8 .7 2.7-.1 2.7-4.2 2.7 1.3 2.8 3.7 2.7 1 2.7 .4 2.8-.5 2.7-1.5 2.7 1.5 2.7-.1 2.8 .7 2.7-3.2 2.7-.9 2.8-.7 2.7-1.7 2.7 1 2.7 3.5 2.8 .6 2.7-.9 2.7-1.1 2.8 3.2 2.7-2.6 2.7 1.8 2.8 1.5 2.7-2.9 2.7 2.3 2.7-1 2.8-3.1 2.7 2.2 2.7-1.8 2.8 2.5 2.7-.5 2.7-.7 2.7 2.5 2.8-1.6 2.7-2.3 2.7 2.3 2.8-.5 2.7-.3 2.7 .5 2.7-2.4 2.8 3.3 2.7-3 2.7-2.1 2.8-3.9 2.7-2.8 2.7 2.4 2.7-1.2 2.8 2 2.7 5.1 2.7 2.3 2.8-1.1 2.7-.4 2.7 1.7 2.8-1.1 2.7 1 2.7-.3 2.7 .3 2.8-1.5 2.7 .7 2.7 .4 2.8-1.5 2.7 1.3 2.7-.5 2.7 .6 2.8-.3 2.7-2.2 2.7 1.4 2.8 .8 2.7-1.7 2.7 1 2.7-.4 2.8-.3 2.7-1.1 2.7 .2 2.8 2.3 2.7-2.4 2.7-.5 2.8 2.3 2.7-.5 2.7-.7 2.7-.9 2.8 2.1 2.7-2.6 2.7 .3 2.8 .7" fill="none" stroke="url(#fg3)" stroke-width="0.9"/>
<path transform="translate(334.6 147.3) scale(1 0.42)" d="M-8.1 -0 -5.2 -.7 -3.4 -1.9 -2.2 -3.8 -1.4 -6.3 -.9 -8.6 -.6 -10.1 -.4 -10.9 -.2 -11.3 0 -11.6 .2 -11.3 .4 -11 .6 -10.2 .9 -8.7 1.4 -6.4 2.2 -4 3.4 -2.2 5.2 -1.2 8.1 -.8Z" fill="url(#sp)" stroke="#b83030" stroke-width="0.4" stroke-opacity="0.6"/>
<path transform="translate(350.7 147) scale(1 2.80)" d="M-8.1 -.2 -5.2 -.6 -3.4 -1.4 -2.2 -2.8 -1.4 -4.5 -.9 -6.2 -.6 -7.3 -.4 -7.8 -.2 -8.1 0 -8.3 .2 -8.1 .4 -7.8 .6 -7.3 .9 -6.2 1.4 -4.6 2.2 -2.8 3.4 -1.5 5.2 -.7 8.1 -.3Z" fill="url(#sp)" stroke="#b83030" stroke-width="0.4" stroke-opacity="0.6"/>
<path d="M157.9 149.6l2.8 1.6 2.7-1.1 2.7 2.3 2.8-2.5 2.7 .9 2.7 1.4 2.7-1 2.8-2.2 2.7 2.6 2.7-.9 2.8-.8 2.7-.5 2.7 1.2 2.7-.3 2.8 .1 2.7-.6 2.7 2 2.8-.6 2.7 0 2.7-2.1 2.7 2.3 2.8-.4 2.7-1.7 2.7 2.6 2.8-.9 2.7-.4 2.7-1.9 2.7-.1 2.8-.8 2.7 4.7 2.7-1.5 2.8-1.8 2.7 2.2 2.7-2.5 2.7 2 2.8-2.3 2.7 1.3 2.7 .6 2.8-.9 2.7-2.2 2.7 1.1 2.7-1.2 2.8 2.8 2.7-.9 2.7-.9 2.8-.4 2.7 1 2.7-.2 2.7 .5 2.8-.5 2.7 .2 2.7-1.8 2.8 .1 2.7-.3 2.7-1.3 2.7-1 2.8 .5 2.7-.4 2.7-.4 2.8 2.2 2.7-.4 2.7 .7 2.8-1.2 2.7 .6 2.7-3.1 2.7-.3 2.8 3.4 2.7-.9 2.7 4.4 2.8-1.1 2.7-2.9 2.7-.6 2.7 2.2 2.8-.9 2.7 .4 2.7-2.5 2.8-1.4 2.7-1.2 2.7 2.1 2.7 2.9 2.8-.5 2.7 2.5 2.7-3.4 2.8 3 2.7-.4 2.7-1.7 2.7 .6 2.8-.7 2.7 .9 2.7-2.4 2.8 3.6 2.7-3.4 2.7-1.5 2.7 1.8 2.8 1 2.7-.4 2.7 .7 2.8-.9 2.7 .9 2.7-.7 2.7 .4 2.8-.1 2.7 .8 2.7-.4 2.8 .9 2.7-1.1 2.7-2.9 2.7-5.1 2.8-1.3 2.7 .2 2.7 0 2.8 3.1 2.7 4 2.7 .3 2.7 1.4 2.8-.9 2.7 .5 2.7-.1 2.8-1.3 2.7 2.8 2.7-1.6 2.7 .7 2.8-.1 2.7-.2 2.7-.7 2.8-.7 2.7 1.4 2.7 .2 2.7-1.5 2.8-1.1 2.7 .3 2.7-.1 2.8 1.1 2.7-.9 2.7 0 2.8 2.3 2.7-2.1 2.7 1.3 2.7-2.5 2.8 1.4 2.7 .4 2.7-.9 2.8 .2 2.7-.7 2.7 0 2.7 1.8 2.8-.5 2.7-.5 2.7-.8" fill="none" stroke="url(#fg3)" stroke-width="0.9"/>
<path transform="translate(335.8 148) scale(1 0.42)" d="M-8.1 -0 -5.2 -.6 -3.4 -1.7 -2.2 -3.5 -1.4 -5.9 -.9 -8 -.6 -9.4 -.4 -10.2 -.2 -10.6 0 -10.8 .2 -10.6 .4 -10.2 .6 -9.5 .9 -8.1 1.4 -6 2.2 -3.7 3.4 -2 5.2 -1.1 8.1 -.7Z" fill="url(#sp)" stroke="#b83030" stroke-width="0.4" stroke-opacity="0.6"/>
<path transform="translate(351.9 147.7) scale(1 2.80)" d="M-8.1 -.1 -5.2 -.3 -3.4 -.7 -2.2 -1.4 -1.4 -2.2 -.9 -3 -.6 -3.6 -.4 -3.9 -.2 -4 0 -4.1 .2 -4 .4 -3.9 .6 -3.6 .9 -3 1.4 -2.2 2.2 -1.4 3.4 -.7 5.2 -.4 8.1 -.2Z" fill="url(#sp)" stroke="#b83030" stroke-width="0.4" stroke-opacity="0.6"/>
<path d="M159.2 151.1l2.7 .2 2.7 1.2 2.7-.7 2.8-.7 2.7 .7 2.7-.1 2.8 .4 2.7 .5 2.7-.7 2.7 .4 2.8-.5 2.7-.2 2.7-1.8 2.8 .6 2.7 1 2.7-.7 2.7 2.5 2.8-2.3 2.7-1.1 2.7 2.7 2.8-.5 2.7-.5 2.7-.2 2.7-1 2.8-.3 2.7 1.6 2.7-.1 2.7-1.6 2.8-.3 2.7-.1 2.7 .6 2.8 .7 2.7-.4 2.7 .9 2.7-.1 2.8 .1 2.7-1.2 2.7-.2 2.8 .4 2.7-.4 2.7-.4 2.7 .1 2.8 .6 2.7-.3 2.7-.6 2.8-.1 2.7-.6 2.7-1.9 2.7 2 2.8 1.2 2.7-1.6 2.7 .6 2.8 0 2.7-.2 2.7-1.7 2.7-.4 2.8-2.9 2.7 1.5 2.7-1.9 2.8 2.9 2.7 .1 2.7 .9 2.7 .3 2.8-2.2 2.7-2.2 2.7 .8 2.8 2 2.7 1.8 2.7 .4 2.7 .8 2.8 .2 2.7-1.3 2.7 1.4 2.8-2.1 2.7 .1 2.7-2.3 2.7-1.3 2.8-1.5 2.7 2.7 2.7 .2 2.8 3 2.7 .2 2.7-1.6 2.7-.8 2.8 2.7 2.7-.2 2.7-1.5 2.8 .8 2.7-1.1 2.7-.2 2.7 .7 2.8-.2 2.7-.8 2.7-.2 2.8 .5 2.7 1.6 2.7-1.1 2.7-.5 2.8-.2 2.7 .7 2.7 0 2.8 1.3 2.7-.8 2.7-2.3 2.7 1.7 2.8-.2 2.7-3 2.7-4 2.8 .2 2.7-.5 2.7-1.4 2.7 2.2 2.8 5.2 2.7 .3 2.7 1.2 2.8-1.6 2.7 .4 2.7 1.5 2.7-1.1 2.8-.6 2.7-1.1 2.7 2.7 2.8-.8 2.7-.6 2.7 2.9 2.7-2.6 2.8-.3 2.7-.2 2.7-1.4 2.8 .3 2.7 .6 2.7-.6 2.7 1.4 2.8-.8 2.7-.2 2.7 1.4 2.8-2.1 2.7 1.2 2.7 1.5 2.7-2.8 2.8 1.7 2.7 .5 2.7-1.5 2.8 .1 2.7-1.2 2.7 1.9 2.7-2.2 2.8 .4 2.7 .5" fill="none" stroke="url(#fg0)" stroke-width="0.9"/>
<path transform="translate(337 148.7) scale(1 0.42)" d="M-8.1 -0 -5.2 -.6 -3.4 -1.7 -2.2 -3.6 -1.4 -5.9 -.9 -8.1 -.6 -9.6 -.4 -10.3 -.2 -10.7 0 -11 .2 -10.7 .4 -10.4 .6 -9.6 .9 -8.2 1.4 -6 2.2 -3.8 3.4 -2 5.2 -1.1 8.1 -.7Z" fill="url(#sp)" stroke="#b83030" stroke-width="0.4" stroke-opacity="0.6"/>
<path transform="translate(353.1 148.4) scale(1 2.80)" d="M-8.1 -0 -5.2 -.2 -3.4 -.4 -2.2 -.8 -1.4 -1.3 -.9 -1.8 -.6 -2.2 -.4 -2.3 -.2 -2.4 0 -2.5 .2 -2.4 .4 -2.3 .6 -2.2 .9 -1.8 1.4 -1.4 2.2 -.8 3.4 -.4 5.2 -.2 8.1 -.1Z" fill="url(#sp)" stroke="#b83030" stroke-width="0.4" stroke-opacity="0.6"/>
<path d="M160.4 153.4l2.7-1.5 2.7 .1 2.8 1.9 2.7-.1 2.7-1.4 2.7-.2 2.8 .9 2.7-2 2.7 .8 2.7-.6 2.8 .9 2.7 .1 2.7-1.2 2.8 .8 2.7-1.3 2.7 1 2.7-.2 2.8 .8 2.7-1.5 2.7-.7 2.8 1.8 2.7-3.4 2.7 2.9 2.7 .1 2.8-.6 2.7 .8 2.7-.7 2.8-.6 2.7 .5 2.7 .2 2.7 .7 2.8-1.2 2.7 .6 2.7 .6 2.8-2.2 2.7-.4 2.7 1.4 2.7-.7 2.8-.6 2.7 .7 2.7 .3 2.8 .1 2.7-1.1 2.7 2.1 2.7-.2 2.8-1.4 2.7 1.1 2.7 .5 2.7-1.3 2.8 0 2.7 .4 2.7-1.7 2.8 .3 2.7-.3 2.7-1 2.7 .1 2.8-2 2.7 0 2.7-.7 2.8 1.5 2.7-.8 2.7 1.3 2.7 .1 2.8-.4 2.7-2.6 2.7 .9 2.8 1.7 2.7 .7 2.7 .9 2.7 1.1 2.8-2.2 2.7 .7 2.7 .2 2.8-.3 2.7-1.4 2.7-.7 2.7-2.3 2.8-.2 2.7 3.3 2.7 2.1 2.7-.8 2.8 1.1 2.7-.9 2.7 1.4 2.8-1.8 2.7-.8 2.7 1.2 2.7-1.3 2.8 1.3 2.7 .2 2.7-.3 2.8 1.1 2.7-1.9 2.7 .2 2.7 0 2.8 .5 2.7-.1 2.7 .1 2.8 1.4 2.7-1 2.7-1.1 2.7 1.3 2.8-1.9 2.7-.9 2.7-.1 2.8 1.6 2.7-2.3 2.7-6.2 2.7 0 2.8-.1 2.7-1.6 2.7 5.2 2.8 4.2 2.7-.4 2.7 1 2.7-.1 2.8-1 2.7-.1 2.7 1 2.7-.5 2.8-.6 2.7-1 2.7 1.6 2.8 .5 2.7-.5 2.7-.7 2.7 .1 2.8 1.8 2.7-1.3 2.7 .5 2.8-1.8 2.7 .6 2.7 .7 2.7-2.3 2.8 3 2.7-.9 2.7-1.1 2.8 .1 2.7 1 2.7-.9 2.7-.4 2.8-.2 2.7 1.6 2.7 0 2.8-.4 2.7-.2 2.7-.7 2.7 1.7 2.8-4" fill="none" stroke="url(#fg4)" stroke-width="0.9"/>
<path transform="translate(338.2 149.3) scale(1 0.42)" d="M-8.1 -0 -5.2 -.6 -3.4 -1.7 -2.2 -3.5 -1.4 -5.8 -.9 -8 -.6 -9.4 -.4 -10.2 -.2 -10.5 0 -10.8 .2 -10.6 .4 -10.2 .6 -9.5 .9 -8.1 1.4 -6 2.2 -3.7 3.4 -2 5.2 -1.1 8.1 -.7Z" fill="url(#sp)" stroke="#b83030" stroke-width="0.4" stroke-opacity="0.6"/>
<path transform="translate(354.3 149) scale(1 2.80)" d="M-8.1 0 -5.2 -.1 -3.4 -.2 -2.2 -.5 -1.4 -.8 -.9 -1.1 -.6 -1.3 -.4 -1.4 -.2 -1.5 0 -1.5 .2 -1.5 .4 -1.4 .6 -1.3 .9 -1.1 1.4 -.8 2.2 -.5 3.4 -.3 5.2 -.2 8.1 -.1Z" fill="url(#sp)" stroke="#b83030" stroke-width="0.4" stroke-opacity="0.6"/>
<path d="M161.6 151.8l2.7 1.4 2.7-.4 2.8 1.3 2.7-1.2 2.7 1.3 2.7-.8 2.8-1.1 2.7 1.5 2.7-.8 2.8 1.2 2.7-.7 2.7-.4 2.7-.8 2.8-.7 2.7-.2 2.7 1.5 2.8 .4 2.7-.6 2.7 .2 2.7-.3 2.8 .8 2.7-1 2.7-.4 2.8 .1 2.7 .5 2.7-.3 2.7-.7 2.8 .1 2.7-.1 2.7 0 2.7 .4 2.8-1 2.7 1.5 2.7-2.7 2.8 2.4 2.7-1.1 2.7-1.1 2.7 .6 2.8 .2 2.7 .9 2.7-1.7 2.8 1.4 2.7-.6 2.7 .6 2.7-.2 2.8 .4 2.7 .5 2.7-2.3 2.7 1.8 2.8-1 2.7 0 2.7-.1 2.8-.4 2.7-1.4 2.7-.7 2.7 1.4 2.8-1.9 2.7-.9 2.7-.8 2.8 1.2 2.7-.5 2.7 1.8 2.7-.1 2.8-1 2.7-2.4 2.7 2.6 2.7-.3 2.8 1.7 2.7 1.2 2.7 .3 2.8-1.3 2.7 1.6 2.7-1.4 2.7-.5 2.8 1.1 2.7-1.9 2.7-2.9 2.8-1.1 2.7 2.8 2.7 2 2.7-.2 2.8 .4 2.7 .7 2.7-.8 2.8-.9 2.7 1.3 2.7-1.6 2.7 .8 2.8-1.1 2.7 .7 2.7-.3 2.7 .8 2.8-2.7 2.7 3.8 2.7-1.9 2.8 .6 2.7 1.3 2.7-.6 2.7-.3 2.8-1.1 2.7 .7 2.7 0 2.8 2.7 2.7-1.9 2.7-.5 2.7-.5 2.8-1.5 2.7-7.8 2.7 .3 2.7-1.2 2.8 2.6 2.7 2.1 2.7 3.2 2.8 1.9 2.7 .2 2.7-1.8 2.7 1.2 2.8 .7 2.7 .2 2.7-1.4 2.8-.2 2.7-.8 2.7 1 2.7 0 2.8-.3 2.7-1.7 2.7 1.8 2.8-1.1 2.7 1.6 2.7 .2 2.7 .2 2.8-1 2.7 .4 2.7-1.2 2.7 0 2.8 .6 2.7 .2 2.7 .8 2.8-1.1 2.7-.5 2.7-1.3 2.7 1 2.8 1.5 2.7-2.5 2.7 .8 2.8 .6 2.7 1 2.7-1.3 2.7 1" fill="none" stroke="url(#fg1)" stroke-width="0.9"/>
<path transform="translate(339.4 150) scale(1 0.42)" d="M-8.1 -0 -5.2 -.6 -3.4 -1.7 -2.2 -3.4 -1.4 -5.7 -.9 -7.8 -.6 -9.2 -.4 -10 -.2 -10.3 0 -10.6 .2 -10.3 .4 -10 .6 -9.3 .9 -7.9 1.4 -5.8 2.2 -3.6 3.4 -2 5.2 -1.1 8.1 -.7Z" fill="url(#sp)" stroke="#b83030" stroke-width="0.4" stroke-opacity="0.6"/>
<path d="M162.8 155.3l2.7-.9 2.8-.7 2.7-.5 2.7-.3 2.7-.2 2.8 1.2 2.7-.6 2.7-.8 2.7 1.7 2.8-.9 2.7 0 2.7 .2 2.8-2.1 2.7 2.7 2.7-1.2 2.7 .5 2.8 .1 2.7-1 2.7 1.6 2.7-.5 2.8-.9 2.7-.5 2.7 .6 2.8 .1 2.7 1.9 2.7-1.2 2.7-.3 2.8 1 2.7-2.7 2.7 1.4 2.8-.7 2.7 .6 2.7-.9 2.7-1.7 2.8 3.2 2.7-1.4 2.7-.5 2.7 1.4 2.8 .2 2.7-2.1 2.7-.4 2.8-.1 2.7 2.8 2.7-4 2.7 2.8 2.8-.5 2.7-2.4 2.7 2.9 2.7-3.1 2.8 2 2.7 1.4 2.7-3.7 2.8 1.8 2.7-.1 2.7-1.9 2.7-1.9 2.8 .1 2.7-.5 2.7 1.9 2.8-.2 2.7 .5 2.7-1.1 2.7 1.2 2.8-.7 2.7-.7 2.7-.2 2.7 .8 2.8 .9 2.7 .9 2.7 .3 2.8 1.2 2.7-1.4 2.7-.6 2.7 2.4 2.8-4.5 2.7-.1 2.7-.8 2.7-2.4 2.8 5 2.7 2.7 2.7-1.1 2.8-.9 2.7 .4 2.7-.6 2.7 1.1 2.8-1.6 2.7-.2 2.7 .7 2.8 .4 2.7-.2 2.7 .5 2.7-3.5 2.8 2.5 2.7-.8 2.7 2.3 2.7-1 2.8-.3 2.7 0 2.7-.4 2.8 .5 2.7-.4 2.7 0 2.7 .4 2.8-1.8 2.7 .5 2.7 .9 2.7-3.6 2.8-4.8 2.7-.8 2.7 .5 2.8 .2 2.7 .4 2.7 7.2 2.7 .5 2.8-.3 2.7 .6 2.7-.8 2.8 0 2.7-.5 2.7 .8 2.7-1.3 2.8 .6 2.7-1.4 2.7 .5 2.7 .9 2.8 1.2 2.7-1.1 2.7 .8 2.8-2.4 2.7 1.4 2.7 .3 2.7 .5 2.8-.3 2.7-1.8 2.7 1.4 2.7-1.7 2.8 1.2 2.7 0 2.7 1.7 2.8-1.9 2.7 .9 2.7-1.6 2.7 .4 2.8 1 2.7-2 2.7 1.8 2.8-1.2 2.7 .6 2.7-.1" fill="none" stroke="url(#fg3)" stroke-width="0.9"/>
<path transform="translate(340.6 150.6) scale(1 0.42)" d="M-8.1 -0 -5.2 -.6 -3.4 -1.7 -2.2 -3.5 -1.4 -5.8 -.9 -8 -.6 -9.4 -.4 -10.2 -.2 -10.5 0 -10.8 .2 -10.5 .4 -10.2 .6 -9.5 .9 -8.1 1.4 -6 2.2 -3.7 3.4 -2 5.2 -1.1 8.1 -.7Z" fill="url(#sp)" stroke="#b83030" stroke-width="0.4" stroke-opacity="0.6"/>
<path d="M164 154.2l2.7 1.6 2.8-.4 2.7-1.5 2.7 .8 2.7-.5 2.8-.2 2.7 .4 2.7 .7 2.8-2.4 2.7 .5 2.7 .3 2.7 .9 2.8-.8 2.7 1.8 2.7-1.8 2.7 1.1 2.8-1.7 2.7 1.6 2.7 .2 2.8-.4 2.7-.6 2.7 1.8 2.7-3.1 2.8 .7 2.7-1.8 2.7 2.2 2.7 .9 2.8-2.2 2.7 1.3 2.7-.4 2.8-.1 2.7-.6 2.7 .4 2.7-.4 2.8 1.1 2.7-.9 2.7 .5 2.7-.9 2.8 0 2.7-.8 2.7 2.2 2.8-1.6 2.7 .8 2.7-.9 2.7 1.2 2.8-1.6 2.7 .5 2.7 0 2.7-1.7 2.8 .8 2.7 .6 2.7-1.3 2.8 .8 2.7-1.4 2.7-1 2.7-2.2 2.8-.6 2.7 1.2 2.7-.1 2.7 2.4 2.8-.4 2.7 1.3 2.7-2.5 2.8 .3 2.7-1.1 2.7-1.1 2.7 1.1 2.8 3 2.7 1 2.7-1.2 2.7 .7 2.8 .4 2.7 1 2.7-1.4 2.8-1 2.7-2.8 2.7-.8 2.7 0 2.8 1.2 2.7 1.3 2.7-.2 2.7 3.1 2.8-.4 2.7-2.4 2.7 1.6 2.8 .7 2.7-1.2 2.7-1.1 2.7 1.1 2.8 0 2.7-.4 2.7 .4 2.7 .6 2.8-2.7 2.7 2.5 2.7-.5 2.8-1.3 2.7 2.2 2.7-.3 2.7-1.7 2.8 .9 2.7-.4 2.7 0 2.7-1.8 2.8 2.6 2.7-.1 2.7-4 2.8-5 2.7-.4 2.7-.1 2.7 1.8 2.8 1.9 2.7 3.7 2.7 1.1 2.7 .1 2.8-.4 2.7-.2 2.7-1.3 2.8 1.8 2.7-1.2 2.7 1.8 2.7-.9 2.8 .3 2.7 .1 2.7-.6 2.7-.8 2.8 1.1 2.7 1.1 2.7-2.6 2.8-.9 2.7 1.2 2.7 .5 2.7 .1 2.8-.7 2.7-1.5 2.7 1.3 2.7 1.1 2.8-1.3 2.7 1.4 2.7-2 2.8 1.1 2.7-.7 2.7 .8 2.7 1.8 2.8-2.4 2.7 .8 2.7-.7 2.7-1.1 2.8 2.3" fill="none" stroke="url(#fg5)" stroke-width="0.9"/>
<path transform="translate(341.8 151.3) scale(1 0.42)" d="M-8.1 0 -5.2 -.6 -3.4 -1.6 -2.2 -3.3 -1.4 -5.5 -.9 -7.5 -.6 -8.8 -.4 -9.5 -.2 -9.9 0 -10.1 .2 -9.9 .4 -9.6 .6 -8.9 .9 -7.6 1.4 -5.6 2.2 -3.5 3.4 -1.9 5.2 -1 8.1 -.7Z" fill="url(#sp)" stroke="#b83030" stroke-width="0.4" stroke-opacity="0.6"/>
<path d="M165.2 156.3l2.8-1 2.7-.4 2.7 .2 2.7-.4 2.8-.5 2.7-.3 2.7 3.1 2.7-.9 2.8-1.3 2.7 .8 2.7-1.6 2.8-.5 2.7 1.9 2.7-.8 2.7 .1 2.8-1.2 2.7 1.4 2.7-.4 2.7-.9 2.8 .7 2.7 .5 2.7-2.1 2.7 2.2 2.8-.2 2.7-2.5 2.7 1.8 2.8-1 2.7 1.7 2.7 1 2.7-2.8 2.8 .9 2.7 .9 2.7-1.3 2.7 .3 2.8-.2 2.7-.9 2.7 1.5 2.8-1.5 2.7 1.1 2.7-1.1 2.7-.5 2.8-.5 2.7 .4 2.7 2.1 2.7 0 2.8-2.3 2.7 1.7 2.7-.2 2.7 0 2.8-3 2.7 3.5 2.7-1.8 2.8-.6 2.7-1.1 2.7 0 2.7-.9 2.8-1 2.7-.3 2.7 .5 2.7 .1 2.8 .4 2.7 2.1 2.7-.1 2.8-3.5 2.7-.7 2.7-1.1 2.7 4 2.8 .5 2.7 2.2 2.7-1.6 2.7 .6 2.8-1 2.7 1.8 2.7-1.9 2.8 .3 2.7-1.6 2.7-3 2.7 1.5 2.8 .3 2.7 2.2 2.7 .3 2.7 .5 2.8 0 2.7 .3 2.7 .2 2.7 .3 2.8-1.5 2.7 .8 2.7-1.9 2.8 .5 2.7 1.2 2.7-1.1 2.7-.6 2.8 1.9 2.7 1.1 2.7-2.6 2.7 1.5 2.8 .8 2.7-1.7 2.7 .4 2.8-1 2.7-.7 2.7-.4 2.7 .9 2.8-.1 2.7 1.5 2.7-4.8 2.7-4.1 2.8-.3 2.7-.6 2.7 1 2.7 2 2.8 4.8 2.7 .7 2.7 1.7 2.8-2.8 2.7 1 2.7 .5 2.7-.5 2.8 .8 2.7-1.5 2.7 .6 2.7 .5 2.8-.9 2.7 .7 2.7-.6 2.8 .4 2.7-1.9 2.7 .8 2.7 .1 2.8-.2 2.7-.3 2.7-.9 2.7 1.5 2.8-.6 2.7 0 2.7-.3 2.8 .2 2.7 1.1 2.7-.9 2.7 .8 2.8-.1 2.7-.4 2.7 .5 2.7-2.1 2.8 1.6 2.7-1.3 2.7 .4 2.7 .8" fill="none" stroke="url(#fg5)" stroke-width="0.9"/>
<path transform="translate(343 151.9) scale(1 0.42)" d="M-8.1 0 -5.2 -.5 -3.4 -1.5 -2.2 -3 -1.4 -5.1 -.9 -6.9 -.6 -8.2 -.4 -8.9 -.2 -9.2 0 -9.4 .2 -9.2 .4 -8.9 .6 -8.2 .9 -7 1.4 -5.2 2.2 -3.2 3.4 -1.8 5.2 -1 8.1 -.7Z" fill="url(#sp)" stroke="#b83030" stroke-width="0.4" stroke-opacity="0.6"/>
<path d="M166.4 156.8l2.8-2.6 2.7 1.5 2.7 .4 2.7-1.1 2.8 1.7 2.7 .4 2.7-.9 2.8 .6 2.7-.8 2.7-.3 2.7-.2 2.8 .2 2.7 1 2.7-1.3 2.7 1.5 2.8-1.2 2.7-2.2 2.7 1.1 2.7 1.3 2.8-1.2 2.7 .2 2.7 .4 2.8 .7 2.7-1.5 2.7-.1 2.7-.5 2.8 .2 2.7-1.4 2.7 1.7 2.7 3.2 2.8-2.2 2.7-1.4 2.7 1.2 2.7-2.1 2.8 2.6 2.7-1 2.7-.1 2.8 .1 2.7-2 2.7 1.8 2.7-1.1 2.8 1 2.7-1.9 2.7 .4 2.7-1.1 2.8 2.7 2.7-.9 2.7-.7 2.7 .7 2.8 .4 2.7 .6 2.7-2.2 2.8-.5 2.7-.4 2.7-.8 2.7-.5 2.8-.5 2.7 1.8 2.7-3 2.7 1.1 2.8 .4 2.7 1.8 2.7-.1 2.7-1.6 2.8-2.3 2.7 .4 2.7 1.1 2.8 2.1 2.7 .5 2.7 .1 2.7 .3 2.8 .6 2.7 0 2.7 .4 2.7-.6 2.8-3 2.7-3.4 2.7 1.3 2.7 1.7 2.8 1.4 2.7 1.2 2.7 1.1 2.8-.3 2.7-2.5 2.7 1.7 2.7-1.4 2.8 .3 2.7 1.1 2.7-1.9 2.7 .8 2.8 2.1 2.7-1.4 2.7-1 2.7 2.1 2.8-1.7 2.7-.7 2.7 1 2.8-.5 2.7 .3 2.7-.6 2.7-.1 2.8 .7 2.7 1.8 2.7-1.4 2.7-.4 2.8-1.7 2.7-1.5 2.7-2.8 2.8-3.9 2.7 1 2.7-.2 2.7 2 2.8 4.4 2.7-.7 2.7 1.4 2.7 1 2.8-.8 2.7 .4 2.7 1.3 2.7-.9 2.8-1.2 2.7 .1 2.7 .3 2.8-1 2.7 .9 2.7-.6 2.7 1.4 2.8 .2 2.7-1.1 2.7-.6 2.7 .3 2.8-.1 2.7-.9 2.7 1.3 2.7-.7 2.8 .9 2.7-.2 2.7-.9 2.8-1.1 2.7 2 2.7 .7 2.7-2 2.8-.5 2.7 1.1 2.7 .5 2.7-.5 2.8 .3 2.7 1.1 2.7-1.6" fill="none" stroke="url(#fg3)" stroke-width="0.9"/>
<path transform="translate(344.1 152.6) scale(1 0.42)" d="M-8.1 0 -5.2 -.6 -3.4 -1.6 -2.2 -3.3 -1.4 -5.6 -.9 -7.6 -.6 -9 -.4 -9.7 -.2 -10 0 -10.3 .2 -10.1 .4 -9.7 .6 -9 .9 -7.7 1.4 -5.7 2.2 -3.5 3.4 -1.9 5.2 -1.1 8.1 -.7Z" fill="url(#sp)" stroke="#b83030" stroke-width="0.4" stroke-opacity="0.6"/>
<path d="M167.7 157l2.7-1.8 2.7 3 2.7-2.7 2.8 2.3 2.7-1.1 2.7 .4 2.7 0 2.8-2.9 2.7 1.9 2.7-1.6 2.7-.4 2.8 1.4 2.7 .7 2.7-.1 2.8 .5 2.7-1.2 2.7-.8 2.7 1.7 2.8 0 2.7-.7 2.7-1.6 2.7 1.6 2.8-1.7 2.7 2.5 2.7-1.6 2.7-1 2.8 2.1 2.7-.3 2.7-1.4 2.7 1 2.8-.7 2.7-.2 2.7-.5 2.8-.6 2.7 2.4 2.7-1 2.7-1 2.8 .3 2.7 0 2.7 1.2 2.7-1.3 2.8 1.4 2.7-2.2 2.7 1.6 2.7 2.1 2.8 .1 2.7-3.3 2.7-1.1 2.7 1.2 2.8-.3 2.7 .2 2.7-.2 2.8-.2 2.7 .5 2.7-2.3 2.7-1.3 2.8 .3 2.7-1 2.7-.3 2.7 2.7 2.8-1.1 2.7 1.1 2.7-1.3 2.7-.7 2.8-1.8 2.7 2 2.7-.2 2.8 3.4 2.7 .6 2.7-.4 2.7-.8 2.8 .8 2.7-2.4 2.7 0 2.7 1.1 2.8-2.5 2.7-.8 2.7 .4 2.7 1.4 2.8 .1 2.7 1.7 2.7 .7 2.7-.1 2.8 .5 2.7-1 2.7-.6 2.8-1.1 2.7 .9 2.7 .8 2.7 .2 2.8-3.3 2.7 2.7 2.7-.4 2.7 1.7 2.8-1.3 2.7 .1 2.7-.6 2.7-1.1 2.8 .5 2.7 1.4 2.7 .6 2.7-1.4 2.8-.6 2.7 1 2.7-.3 2.8-.9 2.7-1.4 2.7-6.1 2.7-.4 2.8-2.5 2.7 2 2.7 3.3 2.7 4.3 2.8 1.8 2.7-1.2 2.7 1.4 2.7-2 2.8 .8 2.7 1.1 2.7-1.9 2.7 .2 2.8 1.5 2.7-1.7 2.7 .6 2.8-.5 2.7 1.5 2.7-2.5 2.7 1.6 2.8-.9 2.7-1.1 2.7 1.4 2.7-.8 2.8-.5 2.7 1.9 2.7-.3 2.7-.9 2.8-.6 2.7 1.3 2.7-1.9 2.8 .4 2.7 .8 2.7 .5 2.7-2.2 2.8 2.1 2.7-1.3 2.7 2.7 2.7-2.2 2.8-.1 2.7 .3" fill="none" stroke="url(#fg2)" stroke-width="0.9"/>
<path transform="translate(345.3 153.3) scale(1 0.42)" d="M-8.1 0 -5.2 -.6 -3.4 -1.6 -2.2 -3.3 -1.4 -5.4 -.9 -7.4 -.6 -8.8 -.4 -9.5 -.2 -9.8 0 -10.1 .2 -9.8 .4 -9.5 .6 -8.8 .9 -7.5 1.4 -5.6 2.2 -3.5 3.4 -1.9 5.2 -1 8.1 -.7Z" fill="url(#sp)" stroke="#b83030" stroke-width="0.4" stroke-opacity="0.6"/>
<path d="M168.9 158.3l2.7-2.2 2.7 1 2.7-1.5 2.8 1.6 2.7-.1 2.7-.7 2.8 1.2 2.7-1.2 2.7 .5 2.7 .7 2.8-1.8 2.7 .2 2.7 1.6 2.7-1.9 2.8-.4 2.7 .5 2.7 1.3 2.7-.5 2.8 .1 2.7-1.2 2.7 2 2.7-1.7 2.8-.2 2.7 2.2 2.7-3 2.7 .7 2.8 1.9 2.7-1.2 2.7-1.2 2.8 1.5 2.7 .9 2.7-1 2.7-.3 2.8-.9 2.7-.3 2.7 1.3 2.7 1 2.8-1.4 2.7 .1 2.7-.7 2.7-1.2 2.8 2.1 2.7-2.5 2.7 1 2.7-.6 2.8 3 2.7-2 2.7-.9 2.7 1 2.8-.5 2.7 .1 2.7-.4 2.8-.4 2.7-2 2.7 .7 2.7-1 2.8-2.2 2.7 .9 2.7 .5 2.7-2.2 2.8 5 2.7-2.1 2.7 .6 2.7-3.4 2.8 0 2.7 1 2.7 1.6 2.7 2.5 2.8-1.8 2.7 1.5 2.7-.1 2.7 .4 2.8-.9 2.7 1.1 2.7-1.9 2.8-1.4 2.7-2.5 2.7 .5 2.7 1.3 2.8 .8 2.7 2 2.7-.4 2.7 .9 2.8 .2 2.7-.4 2.7 .1 2.7-.5 2.8 .3 2.7 0 2.7 .6 2.7-1.7 2.8 1.1 2.7-.3 2.7-1.3 2.7-.8 2.8 .4 2.7 .4 2.7-.5 2.8 1.8 2.7-1.7 2.7 .4 2.7 .6 2.8-.2 2.7-.3 2.7 1.4 2.7-2 2.8-2.2 2.7-4.4 2.7-.4 2.7-1.8 2.8 1.5 2.7 .9 2.7 6 2.7 .7 2.8 2.2 2.7-2.7 2.7 .7 2.7-1.1 2.8-.3 2.7 2 2.7 .3 2.8-.7 2.7-1.3 2.7 .6 2.7-.5 2.8 .8 2.7 0 2.7 .3 2.7-2 2.8 .1 2.7 .4 2.7-1.5 2.7 .5 2.8 2 2.7-1.7 2.7 .4 2.7-.3 2.8 1.6 2.7-1.5 2.7 .5 2.8-1.4 2.7 1.1 2.7-.1 2.7-.8 2.8 1.5 2.7-1.8 2.7-.4 2.7 1.3 2.8 .4" fill="none" stroke="url(#fg1)" stroke-width="0.9"/>
<path transform="translate(346.5 153.9) scale(1 0.42)" d="M-8.1 0 -5.2 -.5 -3.4 -1.5 -2.2 -3.2 -1.4 -5.3 -.9 -7.2 -.6 -8.5 -.4 -9.2 -.2 -9.5 0 -9.8 .2 -9.5 .4 -9.2 .6 -8.6 .9 -7.3 1.4 -5.4 2.2 -3.4 3.4 -1.8 5.2 -1 8.1 -.7Z" fill="url(#sp)" stroke="#b83030" stroke-width="0.4" stroke-opacity="0.6"/>
<path d="M170.1 158.1l2.7-.8 2.7 .7 2.8-2.1 2.7 1.3 2.7-.4 2.7 .8 2.8-.5 2.7-.2 2.7 .6 2.7 .1 2.8 1 2.7-.5 2.7-1 2.7-1.7 2.8 1.6 2.7 .4 2.7-1 2.7 0 2.8 .3 2.7-.1 2.7 1.8 2.8-3.1 2.7 2.5 2.7 0 2.7-.3 2.8 0 2.7-.4 2.7-.4 2.7-1.3 2.8 2 2.7-1 2.7 0 2.7 0 2.8-.3 2.7-1.8 2.7 2 2.7-.5 2.8-.1 2.7-1.1 2.7 .1 2.7 .9 2.8-.4 2.7 .1 2.7 .7 2.7-.4 2.8-1 2.7 2.6 2.7-1.4 2.7-1.5 2.8 .8 2.7-.3 2.7-.4 2.8-1.6 2.7-.2 2.7 .8 2.7-2.6 2.8 .7 2.7-.1 2.7-.1 2.7 1.3 2.8-.6 2.7 1 2.7 1.3 2.7-3.1 2.8-2.8 2.7 2.2 2.7 2.2 2.7 2.8 2.8-2.5 2.7 1.2 2.7 .7 2.7-1.8 2.8 .7 2.7-2.5 2.7 1.6 2.7-2.7 2.8-1 2.7-1.1 2.7 3.5 2.7-.3 2.8 2.3 2.7-.2 2.7 0 2.8 0 2.7 .4 2.7 .1 2.7-.3 2.8-.7 2.7 .4 2.7-.9 2.7 .7 2.8-1.1 2.7 1.4 2.7-1.5 2.7 3 2.8-.7 2.7-1.4 2.7-.8 2.7-.6 2.8 1.4 2.7-1.3 2.7 1.1 2.7 1 2.8-2.1 2.7 .5 2.7 .4 2.7-3.1 2.8-4.6 2.7-1.4 2.7-.1 2.7 .8 2.8 1.8 2.7 6 2.7 .8 2.8-2 2.7 1.5 2.7-1.2 2.7 2 2.8 .6 2.7-2.3 2.7 .6 2.7 0 2.8 .8 2.7-1.6 2.7 2.1 2.7-1.8 2.8-1.3 2.7 1.6 2.7-.9 2.7 2.4 2.8-1.1 2.7-.6 2.7-.9 2.7 1.1 2.8-.9 2.7 .1 2.7 .7 2.7-1.1 2.8 1.5 2.7-1.6 2.7-.8 2.7 1.5 2.8 .2 2.7-.3 2.7-.5 2.8-.1 2.7 0 2.7 .8 2.7-1.1" fill="none" stroke="url(#fg0)" stroke-width="0.9"/>
<path transform="translate(347.7 154.6) scale(1 0.42)" d="M-8.1 0 -5.2 -.5 -3.4 -1.5 -2.2 -3.1 -1.4 -5.2 -.9 -7.1 -.6 -8.4 -.4 -9 -.2 -9.3 0 -9.6 .2 -9.4 .4 -9.1 .6 -8.4 .9 -7.2 1.4 -5.3 2.2 -3.3 3.4 -1.8 5.2 -1 8.1 -.7Z" fill="url(#sp)" stroke="#b83030" stroke-width="0.4" stroke-opacity="0.6"/>
<path d="M171.3 157.1l2.7 .5 2.8-.1 2.7 .4 2.7 .5 2.7-1.2 2.8 1.1 2.7 .3 2.7-1.7 2.7 .5 2.8 2.2 2.7-2.6 2.7 .6 2.7 .5 2.8-.4 2.7-.1 2.7 .9 2.7-1.7 2.8-.8 2.7 .3 2.7 .7 2.7 1.5 2.8-.6 2.7 1 2.7-1.4 2.7-.3 2.8-.2 2.7 1.4 2.7-1 2.7 1.1 2.8-.3 2.7-1.1 2.7 .3 2.7-1.7 2.8-.1 2.7 .6 2.7-.5 2.7 .8 2.8 2.1 2.7-1.3 2.7-.9 2.7-1.7 2.8 2.3 2.7 .4 2.7 1.2 2.7-2.1 2.8-.2 2.7 .4 2.7-.8 2.7-1.2 2.8 1.8 2.7 .4 2.7-2.7 2.8 1.5 2.7-1.8 2.7-2.1 2.7 .6 2.8-1.7 2.7 1.1 2.7-.7 2.7 .4 2.8 .5 2.7 2.3 2.7-1.5 2.7 .3 2.8-2.4 2.7 .4 2.7 2.4 2.7 1.8 2.8-.1 2.7-1.8 2.7 2.4 2.7-2.2 2.8 1.9 2.7-1.9 2.7 1.6 2.7-4.1 2.8-1.4 2.7-1 2.7 4.8 2.7 0 2.8 2.2 2.7-2 2.7 2.3 2.7-.4 2.8-1.7 2.7-.2 2.7 .3 2.7-.3 2.8 .9 2.7-1.9 2.7 1.2 2.7 1.6 2.8-1.1 2.7-.1 2.7-1.6 2.7 .2 2.8 .2 2.7 1.6 2.7-1.8 2.8 1.3 2.7-.5 2.7-.6 2.7 1.7 2.8-1.9 2.7 .7 2.7 .6 2.7-4.8 2.8-3.9 2.7-1.7 2.7 1.5 2.7-1.7 2.8 3.7 2.7 5.6 2.7-.7 2.7 .3 2.8-.1 2.7-.4 2.7 1.3 2.7-.7 2.8-.4 2.7-.4 2.7 1.7 2.7 .1 2.8-2.5 2.7 1.5 2.7 1.4 2.7-2.5 2.8 1.3 2.7-.4 2.7-.5 2.7 .8 2.8 .9 2.7-1 2.7-.7 2.7 1 2.8-.1 2.7-2.6 2.7 1.1 2.7 .4 2.8 .4 2.7-1.1 2.7 .1 2.7 1.7 2.8-.6 2.7-1 2.7-.5 2.7-.5 2.8-.2 2.7 1.2" fill="none" stroke="url(#fg5)" stroke-width="0.9"/>
<path transform="translate(348.9 155.2) scale(1 0.42)" d="M-8.1 0 -5.2 -.5 -3.4 -1.5 -2.2 -3.1 -1.4 -5.1 -.9 -7 -.6 -8.2 -.4 -8.9 -.2 -9.2 0 -9.4 .2 -9.2 .4 -8.9 .6 -8.3 .9 -7.1 1.4 -5.2 2.2 -3.2 3.4 -1.8 5.2 -1 8.1 -.7Z" fill="url(#sp)" stroke="#b83030" stroke-width="0.4" stroke-opacity="0.6"/>
<polyline points="97.2,118.9 171.3,158.5 577.4,151" fill="none" stroke="#3ab8b8" stroke-width="1.1" opacity="0.85"/>
<text x="95.4" y="14.4" font-size="13.5" font-weight="bold" fill="#000">A</text>
<text x="91" y="148.3" font-size="10" font-weight="bold" fill="#222" letter-spacing="-0.3">Time (s)</text>
<text x="370.5" y="164.6" font-size="9.6" font-weight="bold" fill="#222" letter-spacing="-0.2">ppm</text>
<rect x="99.80" y="207.00" width="223.20" height="184.00" fill="#fff" stroke="#a4a4a4" stroke-width="1"/>
<line x1="99.80" y1="391.00" x2="99.80" y2="388.20" stroke="#a4a4a4" stroke-width="0.8"/>
<line x1="99.80" y1="207.00" x2="99.80" y2="209.80" stroke="#a4a4a4" stroke-width="0.8"/>
<text x="99.80" y="399.00" font-size="5.9" letter-spacing="-0.2" text-anchor="middle" fill="#3c3c3c" stroke="#3c3c3c" stroke-width="0.12">0</text>
<line x1="127.70" y1="391.00" x2="127.70" y2="388.20" stroke="#a4a4a4" stroke-width="0.8"/>
<line x1="127.70" y1="207.00" x2="127.70" y2="209.80" stroke="#a4a4a4" stroke-width="0.8"/>
<text x="127.70" y="399.00" font-size="5.9" letter-spacing="-0.2" text-anchor="middle" fill="#3c3c3c" stroke="#3c3c3c" stroke-width="0.12">100</text>
<line x1="155.60" y1="391.00" x2="155.60" y2="388.20" stroke="#a4a4a4" stroke-width="0.8"/>
<line x1="155.60" y1="207.00" x2="155.60" y2="209.80" stroke="#a4a4a4" stroke-width="0.8"/>
<text x="155.60" y="399.00" font-size="5.9" letter-spacing="-0.2" text-anchor="middle" fill="#3c3c3c" stroke="#3c3c3c" stroke-width="0.12">200</text>
<line x1="183.50" y1="391.00" x2="183.50" y2="388.20" stroke="#a4a4a4" stroke-width="0.8"/>
<line x1="183.50" y1="207.00" x2="183.50" y2="209.80" stroke="#a4a4a4" stroke-width="0.8"/>
<text x="183.50" y="399.00" font-size="5.9" letter-spacing="-0.2" text-anchor="middle" fill="#3c3c3c" stroke="#3c3c3c" stroke-width="0.12">300</text>
<line x1="211.40" y1="391.00" x2="211.40" y2="388.20" stroke="#a4a4a4" stroke-width="0.8"/>
<line x1="211.40" y1="207.00" x2="211.40" y2="209.80" stroke="#a4a4a4" stroke-width="0.8"/>
<text x="211.40" y="399.00" font-size="5.9" letter-spacing="-0.2" text-anchor="middle" fill="#3c3c3c" stroke="#3c3c3c" stroke-width="0.12">400</text>
<line x1="239.30" y1="391.00" x2="239.30" y2="388.20" stroke="#a4a4a4" stroke-width="0.8"/>
<line x1="239.30" y1="207.00" x2="239.30" y2="209.80" stroke="#a4a4a4" stroke-width="0.8"/>
<text x="239.30" y="399.00" font-size="5.9" letter-spacing="-0.2" text-anchor="middle" fill="#3c3c3c" stroke="#3c3c3c" stroke-width="0.12">500</text>
<line x1="267.20" y1="391.00" x2="267.20" y2="388.20" stroke="#a4a4a4" stroke-width="0.8"/>
<line x1="267.20" y1="207.00" x2="267.20" y2="209.80" stroke="#a4a4a4" stroke-width="0.8"/>
<text x="267.20" y="399.00" font-size="5.9" letter-spacing="-0.2" text-anchor="middle" fill="#3c3c3c" stroke="#3c3c3c" stroke-width="0.12">600</text>
<line x1="295.10" y1="391.00" x2="295.10" y2="388.20" stroke="#a4a4a4" stroke-width="0.8"/>
<line x1="295.10" y1="207.00" x2="295.10" y2="209.80" stroke="#a4a4a4" stroke-width="0.8"/>
<text x="295.10" y="399.00" font-size="5.9" letter-spacing="-0.2" text-anchor="middle" fill="#3c3c3c" stroke="#3c3c3c" stroke-width="0.12">700</text>
<line x1="323.00" y1="391.00" x2="323.00" y2="388.20" stroke="#a4a4a4" stroke-width="0.8"/>
<line x1="323.00" y1="207.00" x2="323.00" y2="209.80" stroke="#a4a4a4" stroke-width="0.8"/>
<text x="323.00" y="399.00" font-size="5.9" letter-spacing="-0.2" text-anchor="middle" fill="#3c3c3c" stroke="#3c3c3c" stroke-width="0.12">800</text>
<line x1="99.80" y1="391.00" x2="102.60" y2="391.00" stroke="#a4a4a4" stroke-width="0.8"/>
<line x1="323.00" y1="391.00" x2="320.20" y2="391.00" stroke="#a4a4a4" stroke-width="0.8"/>
<text x="97.90" y="393.00" font-size="5.9" letter-spacing="-0.25" text-anchor="end" fill="#3c3c3c" stroke="#3c3c3c" stroke-width="0.12">0</text>
<line x1="99.80" y1="372.60" x2="102.60" y2="372.60" stroke="#a4a4a4" stroke-width="0.8"/>
<line x1="323.00" y1="372.60" x2="320.20" y2="372.60" stroke="#a4a4a4" stroke-width="0.8"/>
<text x="97.90" y="374.60" font-size="5.9" letter-spacing="-0.25" text-anchor="end" fill="#3c3c3c" stroke="#3c3c3c" stroke-width="0.12">0.05</text>
<line x1="99.80" y1="354.20" x2="102.60" y2="354.20" stroke="#a4a4a4" stroke-width="0.8"/>
<line x1="323.00" y1="354.20" x2="320.20" y2="354.20" stroke="#a4a4a4" stroke-width="0.8"/>
<text x="97.90" y="356.20" font-size="5.9" letter-spacing="-0.25" text-anchor="end" fill="#3c3c3c" stroke="#3c3c3c" stroke-width="0.12">0.1</text>
<line x1="99.80" y1="335.80" x2="102.60" y2="335.80" stroke="#a4a4a4" stroke-width="0.8"/>
<line x1="323.00" y1="335.80" x2="320.20" y2="335.80" stroke="#a4a4a4" stroke-width="0.8"/>
<text x="97.90" y="337.80" font-size="5.9" letter-spacing="-0.25" text-anchor="end" fill="#3c3c3c" stroke="#3c3c3c" stroke-width="0.12">0.15</text>
<line x1="99.80" y1="317.40" x2="102.60" y2="317.40" stroke="#a4a4a4" stroke-width="0.8"/>
<line x1="323.00" y1="317.40" x2="320.20" y2="317.40" stroke="#a4a4a4" stroke-width="0.8"/>
<text x="97.90" y="319.40" font-size="5.9" letter-spacing="-0.25" text-anchor="end" fill="#3c3c3c" stroke="#3c3c3c" stroke-width="0.12">0.2</text>
<line x1="99.80" y1="299.00" x2="102.60" y2="299.00" stroke="#a4a4a4" stroke-width="0.8"/>
<line x1="323.00" y1="299.00" x2="320.20" y2="299.00" stroke="#a4a4a4" stroke-width="0.8"/>
<text x="97.90" y="301.00" font-size="5.9" letter-spacing="-0.25" text-anchor="end" fill="#3c3c3c" stroke="#3c3c3c" stroke-width="0.12">0.25</text>
<line x1="99.80" y1="280.60" x2="102.60" y2="280.60" stroke="#a4a4a4" stroke-width="0.8"/>
<line x1="323.00" y1="280.60" x2="320.20" y2="280.60" stroke="#a4a4a4" stroke-width="0.8"/>
<text x="97.90" y="282.60" font-size="5.9" letter-spacing="-0.25" text-anchor="end" fill="#3c3c3c" stroke="#3c3c3c" stroke-width="0.12">0.3</text>
<line x1="99.80" y1="262.20" x2="102.60" y2="262.20" stroke="#a4a4a4" stroke-width="0.8"/>
<line x1="323.00" y1="262.20" x2="320.20" y2="262.20" stroke="#a4a4a4" stroke-width="0.8"/>
<text x="97.90" y="264.20" font-size="5.9" letter-spacing="-0.25" text-anchor="end" fill="#3c3c3c" stroke="#3c3c3c" stroke-width="0.12">0.35</text>
<line x1="99.80" y1="243.80" x2="102.60" y2="243.80" stroke="#a4a4a4" stroke-width="0.8"/>
<line x1="323.00" y1="243.80" x2="320.20" y2="243.80" stroke="#a4a4a4" stroke-width="0.8"/>
<text x="97.90" y="245.80" font-size="5.9" letter-spacing="-0.25" text-anchor="end" fill="#3c3c3c" stroke="#3c3c3c" stroke-width="0.12">0.4</text>
<line x1="99.80" y1="225.40" x2="102.60" y2="225.40" stroke="#a4a4a4" stroke-width="0.8"/>
<line x1="323.00" y1="225.40" x2="320.20" y2="225.40" stroke="#a4a4a4" stroke-width="0.8"/>
<text x="97.90" y="227.40" font-size="5.9" letter-spacing="-0.25" text-anchor="end" fill="#3c3c3c" stroke="#3c3c3c" stroke-width="0.12">0.45</text>
<line x1="99.80" y1="207.00" x2="102.60" y2="207.00" stroke="#a4a4a4" stroke-width="0.8"/>
<line x1="323.00" y1="207.00" x2="320.20" y2="207.00" stroke="#a4a4a4" stroke-width="0.8"/>
<text x="97.90" y="209.00" font-size="5.9" letter-spacing="-0.25" text-anchor="end" fill="#3c3c3c" stroke="#3c3c3c" stroke-width="0.12">0.5</text>
<text x="211.40" y="406.50" font-size="6.3" text-anchor="middle" fill="#333">Time (s)</text>
<line x1="122.50" y1="207.00" x2="122.50" y2="391.00" stroke="#4a4a4a" stroke-width="0.9" stroke-dasharray="1.2,0.5"/>
<line x1="136.90" y1="207.00" x2="136.90" y2="391.00" stroke="#333" stroke-width="1.3" stroke-dasharray="4,3.2"/>
<polyline points="99.9,227.4 100.8,231.0 102.1,228.9 103.4,227.8 104.8,225.9 106.1,224.5 107.4,226.0 108.7,227.4 110.0,227.7 111.3,229.8 112.7,229.5 114.0,231.4 115.4,231.3 116.9,230.4 118.4,230.4 120.1,226.3 121.2,225.2 122.4,225.1 123.9,227.4 125.4,228.0 126.6,229.1 127.7,230.9 128.9,231.5 130.1,237.9 131.2,244.4 132.3,253.4 133.5,261.9 135.3,277.1 137.0,286.2 138.2,279.9 139.4,274.7 140.6,266.8 141.7,258.4 142.9,257.3 144.0,254.9 145.2,253.1 146.4,251.4 147.5,249.1 148.7,246.7 149.9,244.7 151.1,244.6 152.2,243.0 153.4,241.2 154.6,240.3 156.0,238.5 157.3,239.0 158.7,237.4 160.0,237.6 161.4,238.2 162.7,238.0 163.9,238.8 165.1,238.6 166.2,239.1 167.4,238.5 168.6,237.0 169.7,236.3 170.9,234.5 172.2,233.6 173.4,233.6 174.7,232.1 176.1,233.3 177.4,232.6 178.8,233.9 180.1,231.3 181.5,229.5 182.8,228.0 184.0,228.6 185.2,227.4 186.4,227.5 187.5,226.7 188.7,226.8 189.9,226.6 191.2,228.1 192.5,229.7 193.8,231.8 195.1,233.3 196.3,231.5 197.4,230.1 198.6,227.4 200.1,228.6 201.5,229.2 202.7,228.9 203.8,227.8 205.0,227.0 206.2,225.1 207.4,225.3 208.5,224.3 209.7,224.8 210.9,226.7 212.1,228.1 213.2,229.2 214.4,229.8 215.6,229.6 216.7,229.6 217.8,228.4 219.0,228.6 220.2,228.7 221.3,227.9 222.5,227.0 223.7,226.9 225.1,227.1 226.4,229.4 227.8,229.8 229.2,228.9 230.5,225.6 231.9,224.5 233.1,225.7 234.2,225.8 235.4,226.1 236.6,227.4 237.7,226.7 238.9,227.1 240.0,226.3 241.4,228.1 242.8,227.9 244.2,229.8 245.6,228.2 247.1,225.5 248.5,224.5 249.9,226.6 251.2,227.7 252.6,229.8 253.8,229.3 254.9,228.3 256.1,226.3 257.6,224.0 259.0,221.6 260.2,224.2 261.4,224.8 262.5,226.1 263.7,228.6 264.9,228.2 266.0,226.7 267.2,226.9 268.4,227.9 269.5,229.8 270.7,231.5 272.1,231.7 273.4,230.9 274.8,231.5 276.1,229.3 277.4,229.2 278.7,226.8 280.0,225.7 281.2,227.0 282.3,227.5 283.5,227.4 284.7,226.5 285.9,225.9 287.0,225.3 288.2,224.8 289.4,223.9 290.7,223.6 292.0,223.1 293.3,222.7 294.6,222.0 296.0,224.2 297.3,224.9 298.7,226.3 299.9,228.5 301.1,231.0 302.6,231.9 304.0,232.1 304.6,231.0" fill="none" stroke="#0072BD" stroke-width="1.95" stroke-linejoin="round"/>
<polyline points="99.9,367.1 101.4,360.1 102.6,360.4 103.7,361.0 104.9,362.4 106.1,367.7 107.8,363.6 109.0,363.8 110.2,363.7 111.4,364.7 112.6,366.0 113.7,368.8 114.9,369.0 116.0,370.3 117.2,370.0 118.4,371.4 119.6,372.2 120.7,372.2 121.9,373.5 123.1,371.8 124.2,369.6 125.4,368.2 126.5,364.7 128.3,365.9 130.0,348.4 131.2,336.1 132.4,325.0 133.6,317.9 134.7,311.7 135.9,305.8 137.4,312.1 138.8,316.9 140.2,329.1 141.7,340.2 142.9,344.8 144.1,348.9 145.2,352.0 146.4,356.6 147.6,359.5 148.8,363.2 149.9,366.6 151.1,369.4 152.3,370.3 153.4,370.6 154.6,370.3 155.9,369.8 157.2,370.9 158.5,371.3 159.8,371.2 161.2,372.4 162.5,373.0 163.9,374.7 165.1,373.6 166.2,372.0 167.4,372.4 168.6,370.6 170.0,372.3 171.5,372.8 172.9,373.8 174.2,372.2 175.5,371.9 176.7,370.1 178.0,369.3 179.3,367.4 180.5,368.2 181.6,367.8 182.8,368.0 184.3,370.5 185.8,373.2 186.9,374.8 188.1,376.1 189.2,373.7 190.4,371.5 191.8,371.9 193.1,373.1 194.5,374.4 195.9,373.2 197.4,370.9 198.6,370.7 199.8,371.3 201.0,372.6 202.4,370.5 203.9,368.0 205.1,368.0 206.2,368.8 207.4,369.1 209.1,374.4 210.4,374.4 211.8,374.1 213.1,375.2 214.4,374.4 215.6,372.5 216.7,371.5 217.9,370.3 219.1,369.6 220.2,370.1 221.4,369.7 222.9,368.7 224.3,368.5 226.1,371.5 227.4,371.8 228.7,373.1 229.9,372.9 231.2,373.9 232.5,374.4 233.7,374.5 234.8,372.5 236.0,371.9 237.2,372.0 238.6,369.2 240.1,367.4 241.2,366.7 242.4,365.0 243.6,364.0 244.7,362.2 245.9,361.5 247.9,361.6 249.1,363.7 250.3,366.3 251.8,369.0 253.2,372.7 254.6,371.3 255.9,369.2 257.3,368.6 258.5,369.7 259.6,370.9 260.8,371.0 262.2,372.0 263.7,371.5 265.4,373.3 266.6,372.5 267.8,371.0 269.2,372.1 270.6,370.8 272.0,372.0 273.1,371.4 274.3,372.2 275.4,371.6 276.6,370.7 277.7,371.3 278.9,370.5 280.0,370.0 281.1,370.8 282.2,370.1 283.3,370.1 284.4,370.8 285.6,370.5 286.7,371.1 287.8,372.3 288.9,371.5 290.0,372.0" fill="none" stroke="#D95319" stroke-width="1.95" stroke-linejoin="round"/>
<text transform="translate(117.30,286.30) rotate(-90)" font-size="12" text-anchor="middle" fill="#111" stroke="#111" stroke-width="0.4">Exercise start</text>
<text transform="translate(153.10,292.70) rotate(-90)" font-size="11.4" text-anchor="middle" fill="#111" stroke="#111" stroke-width="0.4">Exercise End</text>
<text x="272.60" y="251.30" font-size="19" fill="#0072BD">PCr</text>
<text x="219.60" y="361.00" font-size="19.5" fill="#D95319">P<tspan font-size="12.1" dy="4">i</tspan></text>
<rect x="268.00" y="360.40" width="51.70" height="26.30" fill="#fff" stroke="#666" stroke-width="0.7"/>
<line x1="270.20" y1="364.34" x2="285.20" y2="364.34" stroke="#0072BD" stroke-width="1.5"/>
<line x1="270.20" y1="370.39" x2="285.20" y2="370.39" stroke="#D95319" stroke-width="1.5"/>
<line x1="270.20" y1="376.71" x2="285.20" y2="376.71" stroke="#777" stroke-width="0.6" stroke-dasharray="0.7,0.7"/>
<line x1="270.20" y1="383.02" x2="285.20" y2="383.02" stroke="#333" stroke-width="1" stroke-dasharray="3.2,4"/>
<text x="287.00" y="365.94" font-size="4.6" fill="#444">PCR</text>
<text x="287.00" y="371.99" font-size="4.6" fill="#444">Pi</text>
<text x="287.00" y="378.31" font-size="4.6" fill="#444">Exercise start</text>
<text x="287.00" y="384.62" font-size="4.6" fill="#444">Recovery start</text>
<text x="211.70" y="205.10" font-size="5.7" font-weight="bold" text-anchor="middle" fill="#111">PCR and Pi kinetics</text>
<rect x="362.40" y="206.70" width="235.00" height="186.60" fill="#fff" stroke="#6a6a6a" stroke-width="1"/>
<line x1="362.40" y1="393.30" x2="362.40" y2="390.50" stroke="#6a6a6a" stroke-width="0.8"/>
<line x1="362.40" y1="206.70" x2="362.40" y2="209.50" stroke="#6a6a6a" stroke-width="0.8"/>
<text x="362.40" y="401.30" font-size="5.9" letter-spacing="-0.2" text-anchor="middle" fill="#3c3c3c" stroke="#3c3c3c" stroke-width="0.12">0</text>
<line x1="391.78" y1="393.30" x2="391.78" y2="390.50" stroke="#6a6a6a" stroke-width="0.8"/>
<line x1="391.78" y1="206.70" x2="391.78" y2="209.50" stroke="#6a6a6a" stroke-width="0.8"/>
<text x="391.78" y="401.30" font-size="5.9" letter-spacing="-0.2" text-anchor="middle" fill="#3c3c3c" stroke="#3c3c3c" stroke-width="0.12">100</text>
<line x1="421.16" y1="393.30" x2="421.16" y2="390.50" stroke="#6a6a6a" stroke-width="0.8"/>
<line x1="421.16" y1="206.70" x2="421.16" y2="209.50" stroke="#6a6a6a" stroke-width="0.8"/>
<text x="421.16" y="401.30" font-size="5.9" letter-spacing="-0.2" text-anchor="middle" fill="#3c3c3c" stroke="#3c3c3c" stroke-width="0.12">200</text>
<line x1="450.54" y1="393.30" x2="450.54" y2="390.50" stroke="#6a6a6a" stroke-width="0.8"/>
<line x1="450.54" y1="206.70" x2="450.54" y2="209.50" stroke="#6a6a6a" stroke-width="0.8"/>
<text x="450.54" y="401.30" font-size="5.9" letter-spacing="-0.2" text-anchor="middle" fill="#3c3c3c" stroke="#3c3c3c" stroke-width="0.12">300</text>
<line x1="479.92" y1="393.30" x2="479.92" y2="390.50" stroke="#6a6a6a" stroke-width="0.8"/>
<line x1="479.92" y1="206.70" x2="479.92" y2="209.50" stroke="#6a6a6a" stroke-width="0.8"/>
<text x="479.92" y="401.30" font-size="5.9" letter-spacing="-0.2" text-anchor="middle" fill="#3c3c3c" stroke="#3c3c3c" stroke-width="0.12">400</text>
<line x1="509.30" y1="393.30" x2="509.30" y2="390.50" stroke="#6a6a6a" stroke-width="0.8"/>
<line x1="509.30" y1="206.70" x2="509.30" y2="209.50" stroke="#6a6a6a" stroke-width="0.8"/>
<text x="509.30" y="401.30" font-size="5.9" letter-spacing="-0.2" text-anchor="middle" fill="#3c3c3c" stroke="#3c3c3c" stroke-width="0.12">500</text>
<line x1="538.68" y1="393.30" x2="538.68" y2="390.50" stroke="#6a6a6a" stroke-width="0.8"/>
<line x1="538.68" y1="206.70" x2="538.68" y2="209.50" stroke="#6a6a6a" stroke-width="0.8"/>
<text x="538.68" y="401.30" font-size="5.9" letter-spacing="-0.2" text-anchor="middle" fill="#3c3c3c" stroke="#3c3c3c" stroke-width="0.12">600</text>
<line x1="568.06" y1="393.30" x2="568.06" y2="390.50" stroke="#6a6a6a" stroke-width="0.8"/>
<line x1="568.06" y1="206.70" x2="568.06" y2="209.50" stroke="#6a6a6a" stroke-width="0.8"/>
<text x="568.06" y="401.30" font-size="5.9" letter-spacing="-0.2" text-anchor="middle" fill="#3c3c3c" stroke="#3c3c3c" stroke-width="0.12">700</text>
<line x1="597.44" y1="393.30" x2="597.44" y2="390.50" stroke="#6a6a6a" stroke-width="0.8"/>
<line x1="597.44" y1="206.70" x2="597.44" y2="209.50" stroke="#6a6a6a" stroke-width="0.8"/>
<text x="597.44" y="401.30" font-size="5.9" letter-spacing="-0.2" text-anchor="middle" fill="#3c3c3c" stroke="#3c3c3c" stroke-width="0.12">800</text>
<line x1="362.40" y1="393.30" x2="365.20" y2="393.30" stroke="#6a6a6a" stroke-width="0.8"/>
<line x1="597.40" y1="393.30" x2="594.60" y2="393.30" stroke="#6a6a6a" stroke-width="0.8"/>
<text x="360.50" y="395.30" font-size="5.9" letter-spacing="-0.25" text-anchor="end" fill="#3c3c3c" stroke="#3c3c3c" stroke-width="0.12">0</text>
<line x1="362.40" y1="372.58" x2="365.20" y2="372.58" stroke="#6a6a6a" stroke-width="0.8"/>
<line x1="597.40" y1="372.58" x2="594.60" y2="372.58" stroke="#6a6a6a" stroke-width="0.8"/>
<text x="360.50" y="374.58" font-size="5.9" letter-spacing="-0.25" text-anchor="end" fill="#3c3c3c" stroke="#3c3c3c" stroke-width="0.12">0.05</text>
<line x1="362.40" y1="351.86" x2="365.20" y2="351.86" stroke="#6a6a6a" stroke-width="0.8"/>
<line x1="597.40" y1="351.86" x2="594.60" y2="351.86" stroke="#6a6a6a" stroke-width="0.8"/>
<text x="360.50" y="353.86" font-size="5.9" letter-spacing="-0.25" text-anchor="end" fill="#3c3c3c" stroke="#3c3c3c" stroke-width="0.12">0.1</text>
<line x1="362.40" y1="331.14" x2="365.20" y2="331.14" stroke="#6a6a6a" stroke-width="0.8"/>
<line x1="597.40" y1="331.14" x2="594.60" y2="331.14" stroke="#6a6a6a" stroke-width="0.8"/>
<text x="360.50" y="333.14" font-size="5.9" letter-spacing="-0.25" text-anchor="end" fill="#3c3c3c" stroke="#3c3c3c" stroke-width="0.12">0.15</text>
<line x1="362.40" y1="310.42" x2="365.20" y2="310.42" stroke="#6a6a6a" stroke-width="0.8"/>
<line x1="597.40" y1="310.42" x2="594.60" y2="310.42" stroke="#6a6a6a" stroke-width="0.8"/>
<text x="360.50" y="312.42" font-size="5.9" letter-spacing="-0.25" text-anchor="end" fill="#3c3c3c" stroke="#3c3c3c" stroke-width="0.12">0.2</text>
<line x1="362.40" y1="289.70" x2="365.20" y2="289.70" stroke="#6a6a6a" stroke-width="0.8"/>
<line x1="597.40" y1="289.70" x2="594.60" y2="289.70" stroke="#6a6a6a" stroke-width="0.8"/>
<text x="360.50" y="291.70" font-size="5.9" letter-spacing="-0.25" text-anchor="end" fill="#3c3c3c" stroke="#3c3c3c" stroke-width="0.12">0.25</text>
<line x1="362.40" y1="268.98" x2="365.20" y2="268.98" stroke="#6a6a6a" stroke-width="0.8"/>
<line x1="597.40" y1="268.98" x2="594.60" y2="268.98" stroke="#6a6a6a" stroke-width="0.8"/>
<text x="360.50" y="270.98" font-size="5.9" letter-spacing="-0.25" text-anchor="end" fill="#3c3c3c" stroke="#3c3c3c" stroke-width="0.12">0.3</text>
<line x1="362.40" y1="248.26" x2="365.20" y2="248.26" stroke="#6a6a6a" stroke-width="0.8"/>
<line x1="597.40" y1="248.26" x2="594.60" y2="248.26" stroke="#6a6a6a" stroke-width="0.8"/>
<text x="360.50" y="250.26" font-size="5.9" letter-spacing="-0.25" text-anchor="end" fill="#3c3c3c" stroke="#3c3c3c" stroke-width="0.12">0.35</text>
<line x1="362.40" y1="227.54" x2="365.20" y2="227.54" stroke="#6a6a6a" stroke-width="0.8"/>
<line x1="597.40" y1="227.54" x2="594.60" y2="227.54" stroke="#6a6a6a" stroke-width="0.8"/>
<text x="360.50" y="229.54" font-size="5.9" letter-spacing="-0.25" text-anchor="end" fill="#3c3c3c" stroke="#3c3c3c" stroke-width="0.12">0.4</text>
<line x1="362.40" y1="206.82" x2="365.20" y2="206.82" stroke="#6a6a6a" stroke-width="0.8"/>
<line x1="597.40" y1="206.82" x2="594.60" y2="206.82" stroke="#6a6a6a" stroke-width="0.8"/>
<text x="360.50" y="208.82" font-size="5.9" letter-spacing="-0.25" text-anchor="end" fill="#3c3c3c" stroke="#3c3c3c" stroke-width="0.12">0.45</text>
<text x="479.90" y="408.80" font-size="6.3" text-anchor="middle" fill="#333">Time (s)</text>
<line x1="386.00" y1="206.70" x2="386.00" y2="393.30" stroke="#4a4a4a" stroke-width="0.9" stroke-dasharray="1.2,0.5"/>
<line x1="403.50" y1="206.70" x2="403.50" y2="393.30" stroke="#333" stroke-width="1.3" stroke-dasharray="4,3.2"/>
<polyline points="362.2,222.6 362.9,218.0 364.9,216.7 366.0,216.1 367.2,216.4 368.4,216.0 369.5,216.0 371.1,214.9 372.7,213.4 374.0,214.9 375.4,216.0 376.5,213.6 377.7,211.9 378.9,211.7 380.0,209.5 381.9,212.1 383.2,210.4 384.6,209.5 385.9,211.0 387.2,213.4 388.5,219.1 389.8,223.2 390.9,221.8 392.0,221.2 393.1,219.3 394.4,221.3 395.7,227.2 397.0,233.1 398.1,238.2 399.2,242.2 400.3,247.6 401.4,249.4 402.5,251.3 403.6,252.2 405.2,247.9 406.9,243.6 408.2,240.3 409.5,236.4 410.8,232.4 412.1,232.7 413.5,234.4 414.6,234.0 415.7,232.8 416.8,231.8 418.1,230.8 419.4,229.7 420.7,229.8 422.0,228.5 423.3,225.9 424.4,224.3 425.5,223.2 426.6,221.3 427.9,223.6 429.2,224.9 430.6,226.9 431.9,227.8 433.2,226.0 434.5,224.6 435.6,224.9 436.7,224.0 437.8,223.9 439.1,222.7 440.4,220.0 441.9,220.9 443.3,220.6 445.3,223.2 446.9,221.9 448.5,221.9 449.8,222.4 451.1,223.7 452.5,226.1 453.8,226.5 454.9,225.4 456.1,224.8 457.2,223.2 458.4,222.6 459.7,221.7 461.0,220.7 462.3,220.0 463.6,220.2 465.0,221.0 466.3,221.3 467.6,222.1 468.9,223.3 470.2,223.6 471.5,223.9 472.6,222.9 473.7,221.0 474.8,218.7 475.9,221.2 477.1,222.2 478.2,223.0 479.4,225.2 480.7,222.3 482.1,219.0 483.4,214.7 484.7,217.7 486.0,219.4 487.3,222.0 488.6,223.9 489.9,219.2 491.2,215.4 492.5,217.9 493.9,219.4 495.2,220.9 496.5,223.2 497.6,221.0 498.8,220.9 500.0,219.6 501.1,217.3 502.4,217.6 503.8,219.8 505.1,220.1 506.4,221.3 507.7,218.9 509.0,217.3 510.3,216.4 511.6,214.1 512.9,216.0 514.2,215.9 515.5,218.0 516.6,220.6 517.8,222.1 519.0,225.7 520.1,227.8 521.3,225.2 522.5,223.7 523.7,221.5 524.9,218.4 526.1,216.0 527.3,217.9 528.4,217.9 529.6,219.3 530.9,220.1 532.2,222.4 533.6,222.9 534.9,225.2 536.2,222.1 537.5,219.8 538.8,217.5 540.1,214.7 541.2,215.1 542.4,215.9 543.6,218.3 544.7,218.7 546.4,216.7 548.0,215.4 549.6,217.5 551.3,218.0 553.2,216.0 554.5,216.0 555.9,214.7 557.2,213.6 558.5,212.8 559.8,212.0 561.1,211.3 562.4,210.1 563.7,210.3 565.1,210.2 566.4,210.1 567.7,212.5 569.0,215.1 570.3,216.6 571.6,218.7 573.6,218.0 575.6,220.6 577.6,216.7" fill="none" stroke="#0072BD" stroke-width="1.95" stroke-linejoin="round"/>
<polyline points="362.2,366.2 363.5,375.4 365.5,376.7 367.5,374.1 369.5,367.5 370.8,365.3 372.1,363.4 373.4,362.3 374.5,362.9 375.7,363.3 376.9,364.0 378.0,365.5 379.3,368.6 380.6,372.1 381.9,371.2 383.2,368.8 384.5,367.7 385.9,365.5 387.8,369.5 389.8,368.8 390.9,366.2 392.0,362.2 393.1,359.6 394.4,352.5 395.7,345.2 397.0,339.6 398.4,334.1 399.7,329.4 400.8,331.8 401.9,335.0 403.0,338.6 404.3,341.0 405.6,341.9 406.8,346.2 407.9,350.0 409.1,353.7 410.2,357.0 411.5,357.1 412.8,358.3 414.8,354.4 416.0,356.4 417.2,359.3 418.3,361.9 419.5,364.4 420.7,366.2 422.0,363.5 423.3,359.6 425.3,356.4 426.6,358.3 427.9,361.6 429.0,363.5 430.1,365.4 431.2,366.9 432.3,364.0 433.4,360.6 434.5,358.3 435.6,358.4 436.8,358.0 438.0,359.6 439.1,359.0 440.3,360.3 441.4,360.3 442.6,360.9 443.9,363.0 445.3,366.4 446.6,368.1 447.8,367.1 448.9,366.4 450.1,365.2 451.2,363.5 452.4,364.5 453.5,365.3 454.6,366.6 455.8,367.4 457.1,365.3 458.4,363.5 459.7,364.9 461.0,367.1 462.4,370.0 463.7,371.4 464.8,370.6 465.9,370.6 467.1,371.6 468.2,371.4 469.3,366.2 470.4,361.8 471.5,356.9 472.9,355.3 474.2,353.7 475.5,356.7 476.8,360.2 477.9,360.5 479.1,358.7 480.2,358.6 481.4,358.2 483.4,364.8 485.0,366.9 486.6,370.1 488.2,367.7 489.9,364.8 491.9,368.1 493.1,366.3 494.3,365.0 495.4,364.2 496.6,362.0 497.8,360.9 499.8,368.1 501.1,366.1 502.4,364.5 503.7,361.0 505.0,359.6 506.3,361.9 507.7,365.3 509.0,368.8 510.3,369.3 511.6,369.0 512.9,368.4 514.2,368.5 515.5,368.8 516.6,369.6 517.8,371.3 519.0,371.9 520.1,374.0 521.4,373.4 522.8,372.7 524.1,371.8 525.4,370.1 527.0,369.4 528.5,368.0 530.0,366.2 531.4,362.8 532.6,361.7 533.8,362.2 535.0,363.9 536.1,366.3 537.2,368.8 538.4,369.8 539.5,370.0 540.6,369.0 541.7,369.7 542.8,368.8 543.9,368.8 545.0,368.0 546.2,367.5 547.3,367.2 548.5,367.4 549.6,366.8 550.8,367.0 551.9,367.9 553.1,366.6 554.2,365.9 555.4,365.8 556.5,365.9 557.7,366.8 558.8,365.9 560.0,366.0 561.1,365.1 562.2,364.3 563.3,365.3 564.4,363.9 565.5,363.0 566.6,362.3 567.7,361.7 568.8,361.4 569.9,361.8 571.0,361.0 572.2,361.2 573.3,361.9 574.5,363.5 575.7,363.9 576.8,366.0 578.0,366.0" fill="none" stroke="#D95319" stroke-width="1.95" stroke-linejoin="round"/>
<text transform="translate(383.70,285.90) rotate(-90)" font-size="11.8" text-anchor="middle" fill="#111" stroke="#111" stroke-width="0.4">Exercise start</text>
<text transform="translate(417.90,286.90) rotate(-90)" font-size="11.2" text-anchor="middle" fill="#111" stroke="#111" stroke-width="0.4">Exercise End</text>
<text x="540.80" y="243.30" font-size="19.5" fill="#0072BD">PCr</text>
<text x="512.30" y="355.50" font-size="19.5" fill="#D95319">P<tspan font-size="12.1" dy="4">i</tspan></text>
<rect x="538.80" y="361.60" width="54.50" height="27.40" fill="#fff" stroke="#666" stroke-width="0.7"/>
<line x1="541.00" y1="365.71" x2="556.00" y2="365.71" stroke="#0072BD" stroke-width="1.5"/>
<line x1="541.00" y1="372.01" x2="556.00" y2="372.01" stroke="#D95319" stroke-width="1.5"/>
<line x1="541.00" y1="378.59" x2="556.00" y2="378.59" stroke="#777" stroke-width="0.6" stroke-dasharray="0.7,0.7"/>
<line x1="541.00" y1="385.16" x2="556.00" y2="385.16" stroke="#333" stroke-width="1" stroke-dasharray="3.2,4"/>
<text x="557.80" y="367.31" font-size="4.6" fill="#444">PCR</text>
<text x="557.80" y="373.61" font-size="4.6" fill="#444">Pi</text>
<text x="557.80" y="380.19" font-size="4.6" fill="#444">Exercise start</text>
<text x="557.80" y="386.76" font-size="4.6" fill="#444">Recovery start</text>
<text x="479.50" y="204.10" font-size="5.9" font-weight="bold" text-anchor="middle" fill="#111">PCR and Pi kinetics</text>
<text x="75.0" y="192.9" font-size="16" font-weight="bold" fill="#000">B</text>
<text x="141.6" y="193.1" font-size="18" font-weight="bold" fill="#000">Healthy Controls</text>
<text x="346.4" y="193.1" font-size="17" font-weight="bold" fill="#000">C</text>
<text x="423.2" y="195.7" font-size="17.8" font-weight="bold" fill="#ff0000">CKD Patients</text>
<line x1="68.20" y1="443.30" x2="74.50" y2="443.30" stroke="#333333" stroke-width="1.1"/>
<text x="66.00" y="447.60" font-size="12" text-anchor="end" fill="#1c1c1c">6</text>
<line x1="68.20" y1="504.37" x2="74.50" y2="504.37" stroke="#333333" stroke-width="1.1"/>
<text x="66.00" y="508.67" font-size="12" text-anchor="end" fill="#1c1c1c">4</text>
<line x1="68.20" y1="565.43" x2="74.50" y2="565.43" stroke="#333333" stroke-width="1.1"/>
<text x="66.00" y="569.73" font-size="12" text-anchor="end" fill="#1c1c1c">2</text>
<line x1="68.20" y1="626.50" x2="74.50" y2="626.50" stroke="#333333" stroke-width="1.1"/>
<text x="66.00" y="630.80" font-size="12" text-anchor="end" fill="#1c1c1c">0</text>
<rect x="96.40" y="488.60" width="43.60" height="137.90" fill="#fff" stroke="#333333" stroke-width="1.2"/>
<clipPath id="c161"><rect x="161.50" y="494.50" width="42.20" height="132.00"/></clipPath>
<rect x="161.50" y="494.50" width="42.20" height="132.00" fill="#fff"/>
<path clip-path="url(#c161)" d="M22.30 627.50L156.30 493.50M26.10 627.50L160.10 493.50M29.90 627.50L163.90 493.50M33.70 627.50L167.70 493.50M37.50 627.50L171.50 493.50M41.30 627.50L175.30 493.50M45.10 627.50L179.10 493.50M48.90 627.50L182.90 493.50M52.70 627.50L186.70 493.50M56.50 627.50L190.50 493.50M60.30 627.50L194.30 493.50M64.10 627.50L198.10 493.50M67.90 627.50L201.90 493.50M71.70 627.50L205.70 493.50M75.50 627.50L209.50 493.50M79.30 627.50L213.30 493.50M83.10 627.50L217.10 493.50M86.90 627.50L220.90 493.50M90.70 627.50L224.70 493.50M94.50 627.50L228.50 493.50M98.30 627.50L232.30 493.50M102.10 627.50L236.10 493.50M105.90 627.50L239.90 493.50M109.70 627.50L243.70 493.50M113.50 627.50L247.50 493.50M117.30 627.50L251.30 493.50M121.10 627.50L255.10 493.50M124.90 627.50L258.90 493.50M128.70 627.50L262.70 493.50M132.50 627.50L266.50 493.50M136.30 627.50L270.30 493.50M140.10 627.50L274.10 493.50M143.90 627.50L277.90 493.50M147.70 627.50L281.70 493.50M151.50 627.50L285.50 493.50M155.30 627.50L289.30 493.50M159.10 627.50L293.10 493.50M162.90 627.50L296.90 493.50M166.70 627.50L300.70 493.50M170.50 627.50L304.50 493.50M174.30 627.50L308.30 493.50M178.10 627.50L312.10 493.50M181.90 627.50L315.90 493.50M185.70 627.50L319.70 493.50M189.50 627.50L323.50 493.50M193.30 627.50L327.30 493.50M197.10 627.50L331.10 493.50M200.90 627.50L334.90 493.50M204.70 627.50L338.70 493.50" stroke="#b184d8" stroke-width="1.25" fill="none"/>
<rect x="161.50" y="494.50" width="42.20" height="132.00" fill="none" stroke="#5a1e80" stroke-width="1.2"/>
<line x1="74.50" y1="442.80" x2="74.50" y2="626.50" stroke="#333333" stroke-width="1.2"/>
<line x1="74.50" y1="626.50" x2="226.30" y2="626.50" stroke="#333333" stroke-width="1.2"/>
<text x="117.40" y="642.30" font-size="13.3" text-anchor="middle" fill="#1c1c1c">Healthy</text>
<text x="182.60" y="642.30" font-size="13.3" text-anchor="middle" fill="#1c1c1c">CKD</text>
<circle cx="117.50" cy="464.30" r="3.3" fill="none" stroke="#333333" stroke-width="1.05"/>
<circle cx="117.50" cy="471.00" r="3.3" fill="none" stroke="#333333" stroke-width="1.05"/>
<circle cx="117.50" cy="488.30" r="3.3" fill="none" stroke="#333333" stroke-width="1.05"/>
<circle cx="117.50" cy="492.80" r="3.3" fill="none" stroke="#333333" stroke-width="1.05"/>
<circle cx="117.50" cy="526.10" r="3.3" fill="none" stroke="#333333" stroke-width="1.05"/>
<line x1="117.50" y1="477.60" x2="117.50" y2="499.00" stroke="#333333" stroke-width="1.1"/>
<line x1="106.60" y1="477.60" x2="128.40" y2="477.60" stroke="#333333" stroke-width="1.1"/>
<line x1="106.60" y1="499.00" x2="128.40" y2="499.00" stroke="#333333" stroke-width="1.1"/>
<circle cx="182.50" cy="465.40" r="3.5" fill="#440a5e"/>
<circle cx="182.50" cy="468.20" r="3.5" fill="#440a5e"/>
<circle cx="182.50" cy="477.20" r="3.5" fill="#440a5e"/>
<circle cx="182.50" cy="483.30" r="3.5" fill="#440a5e"/>
<circle cx="182.50" cy="485.20" r="3.5" fill="#440a5e"/>
<circle cx="182.50" cy="507.80" r="3.5" fill="#440a5e"/>
<circle cx="182.50" cy="514.40" r="3.5" fill="#440a5e"/>
<circle cx="182.50" cy="518.20" r="3.5" fill="#440a5e"/>
<circle cx="182.50" cy="534.70" r="3.5" fill="#440a5e"/>
<line x1="182.50" y1="486.80" x2="182.50" y2="501.80" stroke="#5a1e80" stroke-width="1.1"/>
<line x1="171.60" y1="486.80" x2="193.40" y2="486.80" stroke="#6e3d92" stroke-width="1.1"/>
<line x1="171.60" y1="501.80" x2="193.40" y2="501.80" stroke="#6e3d92" stroke-width="1.1"/>
<polyline points="117.50,455.80 117.50,445.60 182.50,445.60 182.50,455.80" fill="none" stroke="#555" stroke-width="1.3"/>
<text x="149.80" y="437.70" font-size="14" letter-spacing="-0.4" text-anchor="middle" fill="#1c1c1c">ns</text>
<text x="37.90" y="446.80" font-size="17" font-weight="bold" fill="#000">D</text>
<text transform="translate(55.90,534.50) rotate(-90)" font-size="15.2" text-anchor="middle" fill="#111" stroke="#111" stroke-width="0.3">PCr/ATP</text>
<line x1="297.20" y1="443.40" x2="303.50" y2="443.40" stroke="#333333" stroke-width="1.1"/>
<text x="295.00" y="447.70" font-size="12" text-anchor="end" fill="#1c1c1c">0.25</text>
<line x1="297.20" y1="479.98" x2="303.50" y2="479.98" stroke="#333333" stroke-width="1.1"/>
<text x="295.00" y="484.28" font-size="12" text-anchor="end" fill="#1c1c1c">0.20</text>
<line x1="297.20" y1="516.56" x2="303.50" y2="516.56" stroke="#333333" stroke-width="1.1"/>
<text x="295.00" y="520.86" font-size="12" text-anchor="end" fill="#1c1c1c">0.15</text>
<line x1="297.20" y1="553.14" x2="303.50" y2="553.14" stroke="#333333" stroke-width="1.1"/>
<text x="295.00" y="557.44" font-size="12" text-anchor="end" fill="#1c1c1c">0.10</text>
<line x1="297.20" y1="589.72" x2="303.50" y2="589.72" stroke="#333333" stroke-width="1.1"/>
<text x="295.00" y="594.02" font-size="12" text-anchor="end" fill="#1c1c1c">0.05</text>
<line x1="297.20" y1="626.30" x2="303.50" y2="626.30" stroke="#333333" stroke-width="1.1"/>
<text x="295.00" y="630.60" font-size="12" text-anchor="end" fill="#1c1c1c">0.00</text>
<rect x="325.50" y="507.30" width="43.20" height="119.00" fill="#fff" stroke="#333333" stroke-width="1.2"/>
<clipPath id="c390"><rect x="390.30" y="549.50" width="42.30" height="76.80"/></clipPath>
<rect x="390.30" y="549.50" width="42.30" height="76.80" fill="#fff"/>
<path clip-path="url(#c390)" d="M307.50 627.30L386.30 548.50M311.30 627.30L390.10 548.50M315.10 627.30L393.90 548.50M318.90 627.30L397.70 548.50M322.70 627.30L401.50 548.50M326.50 627.30L405.30 548.50M330.30 627.30L409.10 548.50M334.10 627.30L412.90 548.50M337.90 627.30L416.70 548.50M341.70 627.30L420.50 548.50M345.50 627.30L424.30 548.50M349.30 627.30L428.10 548.50M353.10 627.30L431.90 548.50M356.90 627.30L435.70 548.50M360.70 627.30L439.50 548.50M364.50 627.30L443.30 548.50M368.30 627.30L447.10 548.50M372.10 627.30L450.90 548.50M375.90 627.30L454.70 548.50M379.70 627.30L458.50 548.50M383.50 627.30L462.30 548.50M387.30 627.30L466.10 548.50M391.10 627.30L469.90 548.50M394.90 627.30L473.70 548.50M398.70 627.30L477.50 548.50M402.50 627.30L481.30 548.50M406.30 627.30L485.10 548.50M410.10 627.30L488.90 548.50M413.90 627.30L492.70 548.50M417.70 627.30L496.50 548.50M421.50 627.30L500.30 548.50M425.30 627.30L504.10 548.50M429.10 627.30L507.90 548.50M432.90 627.30L511.70 548.50" stroke="#b184d8" stroke-width="1.25" fill="none"/>
<rect x="390.30" y="549.50" width="42.30" height="76.80" fill="none" stroke="#5a1e80" stroke-width="1.2"/>
<line x1="303.50" y1="442.90" x2="303.50" y2="626.30" stroke="#333333" stroke-width="1.2"/>
<line x1="303.50" y1="626.30" x2="455.30" y2="626.30" stroke="#333333" stroke-width="1.2"/>
<text x="346.30" y="642.10" font-size="13.3" text-anchor="middle" fill="#1c1c1c">Healthy</text>
<text x="411.45" y="642.10" font-size="13.3" text-anchor="middle" fill="#1c1c1c">CKD</text>
<circle cx="346.50" cy="473.20" r="3.3" fill="none" stroke="#333333" stroke-width="1.05"/>
<circle cx="346.50" cy="474.70" r="3.3" fill="none" stroke="#333333" stroke-width="1.05"/>
<circle cx="346.50" cy="479.40" r="3.3" fill="none" stroke="#333333" stroke-width="1.05"/>
<circle cx="346.50" cy="549.00" r="3.3" fill="none" stroke="#333333" stroke-width="1.05"/>
<circle cx="346.50" cy="560.40" r="3.3" fill="none" stroke="#333333" stroke-width="1.05"/>
<line x1="346.50" y1="487.90" x2="346.50" y2="527.00" stroke="#333333" stroke-width="1.1"/>
<line x1="335.60" y1="487.90" x2="357.40" y2="487.90" stroke="#333333" stroke-width="1.1"/>
<line x1="335.60" y1="527.00" x2="357.40" y2="527.00" stroke="#333333" stroke-width="1.1"/>
<circle cx="411.50" cy="494.90" r="3.5" fill="#440a5e"/>
<circle cx="411.50" cy="516.00" r="3.5" fill="#440a5e"/>
<circle cx="411.50" cy="528.90" r="3.5" fill="#440a5e"/>
<circle cx="411.50" cy="532.60" r="3.5" fill="#440a5e"/>
<circle cx="411.50" cy="536.40" r="3.5" fill="#440a5e"/>
<circle cx="411.50" cy="542.10" r="3.5" fill="#440a5e"/>
<circle cx="411.50" cy="566.60" r="3.5" fill="#440a5e"/>
<circle cx="411.50" cy="571.30" r="3.5" fill="#440a5e"/>
<circle cx="411.50" cy="580.40" r="3.5" fill="#440a5e"/>
<circle cx="411.50" cy="622.60" r="3.5" fill="#440a5e"/>
<line x1="411.50" y1="538.00" x2="411.50" y2="561.10" stroke="#5a1e80" stroke-width="1.1"/>
<line x1="400.60" y1="538.00" x2="422.40" y2="538.00" stroke="#6e3d92" stroke-width="1.1"/>
<line x1="400.60" y1="561.10" x2="422.40" y2="561.10" stroke="#6e3d92" stroke-width="1.1"/>
<polyline points="346.50,463.80 346.50,454.60 411.50,454.60 411.50,485.50" fill="none" stroke="#555" stroke-width="1.3"/>
<text x="378.80" y="446.20" font-size="14" letter-spacing="-0.4" text-anchor="middle" fill="#1c1c1c">ns</text>
<text x="248.70" y="446.80" font-size="17" font-weight="bold" fill="#000">E</text>
<text transform="translate(269.20,535.90) rotate(-90)" font-size="15.2" text-anchor="middle" fill="#111" stroke="#111" stroke-width="0.3">ΔPCr (mM)</text>
<line x1="525.20" y1="443.30" x2="531.50" y2="443.30" stroke="#333333" stroke-width="1.1"/>
<text x="523.00" y="447.60" font-size="12" text-anchor="end" fill="#1c1c1c">30</text>
<line x1="525.20" y1="504.20" x2="531.50" y2="504.20" stroke="#333333" stroke-width="1.1"/>
<text x="523.00" y="508.50" font-size="12" text-anchor="end" fill="#1c1c1c">20</text>
<line x1="525.20" y1="565.10" x2="531.50" y2="565.10" stroke="#333333" stroke-width="1.1"/>
<text x="523.00" y="569.40" font-size="12" text-anchor="end" fill="#1c1c1c">10</text>
<line x1="525.20" y1="626.00" x2="531.50" y2="626.00" stroke="#333333" stroke-width="1.1"/>
<text x="523.00" y="630.30" font-size="12" text-anchor="end" fill="#1c1c1c">0</text>
<rect x="552.70" y="497.90" width="43.50" height="128.10" fill="#fff" stroke="#333333" stroke-width="1.2"/>
<clipPath id="c617"><rect x="617.90" y="536.00" width="43.10" height="90.00"/></clipPath>
<rect x="617.90" y="536.00" width="43.10" height="90.00" fill="#fff"/>
<path clip-path="url(#c617)" d="M520.60 627.00L612.60 535.00M524.40 627.00L616.40 535.00M528.20 627.00L620.20 535.00M532.00 627.00L624.00 535.00M535.80 627.00L627.80 535.00M539.60 627.00L631.60 535.00M543.40 627.00L635.40 535.00M547.20 627.00L639.20 535.00M551.00 627.00L643.00 535.00M554.80 627.00L646.80 535.00M558.60 627.00L650.60 535.00M562.40 627.00L654.40 535.00M566.20 627.00L658.20 535.00M570.00 627.00L662.00 535.00M573.80 627.00L665.80 535.00M577.60 627.00L669.60 535.00M581.40 627.00L673.40 535.00M585.20 627.00L677.20 535.00M589.00 627.00L681.00 535.00M592.80 627.00L684.80 535.00M596.60 627.00L688.60 535.00M600.40 627.00L692.40 535.00M604.20 627.00L696.20 535.00M608.00 627.00L700.00 535.00M611.80 627.00L703.80 535.00M615.60 627.00L707.60 535.00M619.40 627.00L711.40 535.00M623.20 627.00L715.20 535.00M627.00 627.00L719.00 535.00M630.80 627.00L722.80 535.00M634.60 627.00L726.60 535.00M638.40 627.00L730.40 535.00M642.20 627.00L734.20 535.00M646.00 627.00L738.00 535.00M649.80 627.00L741.80 535.00M653.60 627.00L745.60 535.00M657.40 627.00L749.40 535.00M661.20 627.00L753.20 535.00" stroke="#b184d8" stroke-width="1.25" fill="none"/>
<rect x="617.90" y="536.00" width="43.10" height="90.00" fill="none" stroke="#5a1e80" stroke-width="1.2"/>
<line x1="531.50" y1="442.80" x2="531.50" y2="626.00" stroke="#333333" stroke-width="1.2"/>
<line x1="531.50" y1="626.00" x2="683.30" y2="626.00" stroke="#333333" stroke-width="1.2"/>
<text x="573.65" y="641.80" font-size="13.3" text-anchor="middle" fill="#1c1c1c">Healthy</text>
<text x="639.45" y="641.80" font-size="13.3" text-anchor="middle" fill="#1c1c1c">CKD</text>
<circle cx="574.50" cy="460.70" r="3.3" fill="none" stroke="#333333" stroke-width="1.05"/>
<circle cx="574.50" cy="487.40" r="3.3" fill="none" stroke="#333333" stroke-width="1.05"/>
<circle cx="574.50" cy="513.10" r="3.3" fill="none" stroke="#333333" stroke-width="1.05"/>
<circle cx="574.50" cy="517.50" r="3.3" fill="none" stroke="#333333" stroke-width="1.05"/>
<line x1="574.50" y1="487.40" x2="574.50" y2="509.10" stroke="#333333" stroke-width="1.1"/>
<line x1="563.60" y1="487.40" x2="585.40" y2="487.40" stroke="#333333" stroke-width="1.1"/>
<line x1="563.60" y1="509.10" x2="585.40" y2="509.10" stroke="#333333" stroke-width="1.1"/>
<circle cx="639.50" cy="455.20" r="3.5" fill="#440a5e"/>
<circle cx="639.50" cy="522.90" r="3.5" fill="#440a5e"/>
<circle cx="639.50" cy="530.20" r="3.5" fill="#440a5e"/>
<circle cx="639.50" cy="533.70" r="3.5" fill="#440a5e"/>
<circle cx="639.50" cy="540.80" r="3.5" fill="#440a5e"/>
<circle cx="639.50" cy="549.40" r="3.5" fill="#440a5e"/>
<circle cx="639.50" cy="555.80" r="3.5" fill="#440a5e"/>
<circle cx="639.50" cy="565.70" r="3.5" fill="#440a5e"/>
<line x1="639.50" y1="525.90" x2="639.50" y2="546.00" stroke="#5a1e80" stroke-width="1.1"/>
<line x1="628.60" y1="525.90" x2="650.40" y2="525.90" stroke="#6e3d92" stroke-width="1.1"/>
<line x1="628.60" y1="546.00" x2="650.40" y2="546.00" stroke="#6e3d92" stroke-width="1.1"/>
<polyline points="574.50,450.00 574.50,436.00 639.50,436.00 639.50,445.60" fill="none" stroke="#555" stroke-width="1.3"/>
<path d="M607.40 422.15L607.40 429.25M604.33 423.93L610.47 427.47M604.33 427.47L610.47 423.93" stroke="#111" stroke-width="1.3" stroke-linecap="round"/>
<circle cx="607.40" cy="425.70" r="1.3" fill="#111"/>
<text x="487.10" y="447.00" font-size="17" font-weight="bold" fill="#000">F</text>
<text transform="translate(505.00,534.70) rotate(-90)" font-size="15.2" text-anchor="middle" fill="#111" stroke="#111" stroke-width="0.3">Max torque (Nm)</text>
<line x1="68.20" y1="697.00" x2="74.50" y2="697.00" stroke="#333333" stroke-width="1.1"/>
<text x="66.00" y="701.30" font-size="12" text-anchor="end" fill="#1c1c1c">0.015</text>
<line x1="68.20" y1="758.23" x2="74.50" y2="758.23" stroke="#333333" stroke-width="1.1"/>
<text x="66.00" y="762.53" font-size="12" text-anchor="end" fill="#1c1c1c">0.010</text>
<line x1="68.20" y1="819.47" x2="74.50" y2="819.47" stroke="#333333" stroke-width="1.1"/>
<text x="66.00" y="823.77" font-size="12" text-anchor="end" fill="#1c1c1c">0.005</text>
<line x1="68.20" y1="880.70" x2="74.50" y2="880.70" stroke="#333333" stroke-width="1.1"/>
<text x="66.00" y="885.00" font-size="12" text-anchor="end" fill="#1c1c1c">0.000</text>
<rect x="96.40" y="786.60" width="43.20" height="94.10" fill="#fff" stroke="#333333" stroke-width="1.2"/>
<clipPath id="c160"><rect x="160.80" y="787.60" width="42.90" height="93.10"/></clipPath>
<rect x="160.80" y="787.60" width="42.90" height="93.10" fill="#fff"/>
<path clip-path="url(#c160)" d="M60.70 881.70L155.80 786.60M64.50 881.70L159.60 786.60M68.30 881.70L163.40 786.60M72.10 881.70L167.20 786.60M75.90 881.70L171.00 786.60M79.70 881.70L174.80 786.60M83.50 881.70L178.60 786.60M87.30 881.70L182.40 786.60M91.10 881.70L186.20 786.60M94.90 881.70L190.00 786.60M98.70 881.70L193.80 786.60M102.50 881.70L197.60 786.60M106.30 881.70L201.40 786.60M110.10 881.70L205.20 786.60M113.90 881.70L209.00 786.60M117.70 881.70L212.80 786.60M121.50 881.70L216.60 786.60M125.30 881.70L220.40 786.60M129.10 881.70L224.20 786.60M132.90 881.70L228.00 786.60M136.70 881.70L231.80 786.60M140.50 881.70L235.60 786.60M144.30 881.70L239.40 786.60M148.10 881.70L243.20 786.60M151.90 881.70L247.00 786.60M155.70 881.70L250.80 786.60M159.50 881.70L254.60 786.60M163.30 881.70L258.40 786.60M167.10 881.70L262.20 786.60M170.90 881.70L266.00 786.60M174.70 881.70L269.80 786.60M178.50 881.70L273.60 786.60M182.30 881.70L277.40 786.60M186.10 881.70L281.20 786.60M189.90 881.70L285.00 786.60M193.70 881.70L288.80 786.60M197.50 881.70L292.60 786.60M201.30 881.70L296.40 786.60M205.10 881.70L300.20 786.60" stroke="#b184d8" stroke-width="1.25" fill="none"/>
<rect x="160.80" y="787.60" width="42.90" height="93.10" fill="none" stroke="#5a1e80" stroke-width="1.2"/>
<line x1="74.50" y1="696.50" x2="74.50" y2="880.70" stroke="#333333" stroke-width="1.2"/>
<line x1="74.50" y1="880.70" x2="226.30" y2="880.70" stroke="#333333" stroke-width="1.2"/>
<text x="117.20" y="896.50" font-size="13.3" text-anchor="middle" fill="#1c1c1c">Healthy</text>
<text x="182.25" y="896.50" font-size="13.3" text-anchor="middle" fill="#1c1c1c">CKD</text>
<circle cx="117.50" cy="743.20" r="3.3" fill="none" stroke="#333333" stroke-width="1.05"/>
<circle cx="117.50" cy="773.10" r="3.3" fill="none" stroke="#333333" stroke-width="1.05"/>
<circle cx="117.50" cy="787.60" r="3.3" fill="none" stroke="#333333" stroke-width="1.05"/>
<circle cx="117.50" cy="810.00" r="3.3" fill="none" stroke="#333333" stroke-width="1.05"/>
<circle cx="117.50" cy="819.50" r="3.3" fill="none" stroke="#333333" stroke-width="1.05"/>
<line x1="117.50" y1="773.10" x2="117.50" y2="800.30" stroke="#333333" stroke-width="1.1"/>
<line x1="106.60" y1="773.10" x2="128.40" y2="773.10" stroke="#333333" stroke-width="1.1"/>
<line x1="106.60" y1="800.30" x2="128.40" y2="800.30" stroke="#333333" stroke-width="1.1"/>
<circle cx="182.50" cy="724.80" r="3.5" fill="#440a5e"/>
<circle cx="182.50" cy="732.20" r="3.5" fill="#440a5e"/>
<circle cx="182.50" cy="734.50" r="3.5" fill="#440a5e"/>
<circle cx="182.50" cy="779.20" r="3.5" fill="#440a5e"/>
<circle cx="182.50" cy="789.20" r="3.5" fill="#440a5e"/>
<circle cx="182.50" cy="791.60" r="3.5" fill="#440a5e"/>
<circle cx="182.50" cy="809.40" r="3.5" fill="#440a5e"/>
<circle cx="182.50" cy="815.10" r="3.5" fill="#440a5e"/>
<circle cx="182.50" cy="822.80" r="3.5" fill="#440a5e"/>
<circle cx="182.50" cy="876.60" r="3.5" fill="#440a5e"/>
<line x1="182.50" y1="772.50" x2="182.50" y2="802.70" stroke="#5a1e80" stroke-width="1.1"/>
<line x1="171.60" y1="772.50" x2="193.40" y2="772.50" stroke="#6e3d92" stroke-width="1.1"/>
<line x1="171.60" y1="802.70" x2="193.40" y2="802.70" stroke="#6e3d92" stroke-width="1.1"/>
<polyline points="117.50,733.80 117.50,706.30 182.50,706.30 182.50,715.40" fill="none" stroke="#555" stroke-width="1.3"/>
<text x="149.80" y="698.30" font-size="14" letter-spacing="-0.4" text-anchor="middle" fill="#1c1c1c">ns</text>
<text x="15.80" y="695.80" font-size="17" font-weight="bold" fill="#000">G</text>
<text transform="translate(13.80,788.90) rotate(-90)" font-size="15.2" text-anchor="middle" fill="#111" stroke="#111" stroke-width="0.3">ΔPCr/Max torque</text>
<text transform="translate(30.80,788.90) rotate(-90)" font-size="15.2" text-anchor="middle" fill="#111" stroke="#111" stroke-width="0.3">(mM/Nm)</text>
<line x1="297.20" y1="696.60" x2="303.50" y2="696.60" stroke="#333333" stroke-width="1.1"/>
<text x="295.00" y="700.90" font-size="12" text-anchor="end" fill="#1c1c1c">0.5</text>
<line x1="297.20" y1="733.44" x2="303.50" y2="733.44" stroke="#333333" stroke-width="1.1"/>
<text x="295.00" y="737.74" font-size="12" text-anchor="end" fill="#1c1c1c">0.4</text>
<line x1="297.20" y1="770.28" x2="303.50" y2="770.28" stroke="#333333" stroke-width="1.1"/>
<text x="295.00" y="774.58" font-size="12" text-anchor="end" fill="#1c1c1c">0.3</text>
<line x1="297.20" y1="807.12" x2="303.50" y2="807.12" stroke="#333333" stroke-width="1.1"/>
<text x="295.00" y="811.42" font-size="12" text-anchor="end" fill="#1c1c1c">0.2</text>
<line x1="297.20" y1="843.96" x2="303.50" y2="843.96" stroke="#333333" stroke-width="1.1"/>
<text x="295.00" y="848.26" font-size="12" text-anchor="end" fill="#1c1c1c">0.1</text>
<line x1="297.20" y1="880.80" x2="303.50" y2="880.80" stroke="#333333" stroke-width="1.1"/>
<text x="295.00" y="885.10" font-size="12" text-anchor="end" fill="#1c1c1c">0.0</text>
<rect x="325.70" y="760.60" width="43.00" height="120.20" fill="#fff" stroke="#333333" stroke-width="1.2"/>
<clipPath id="c390"><rect x="390.40" y="804.40" width="42.90" height="76.40"/></clipPath>
<rect x="390.40" y="804.40" width="42.90" height="76.40" fill="#fff"/>
<path clip-path="url(#c390)" d="M307.60 881.80L386.00 803.40M311.40 881.80L389.80 803.40M315.20 881.80L393.60 803.40M319.00 881.80L397.40 803.40M322.80 881.80L401.20 803.40M326.60 881.80L405.00 803.40M330.40 881.80L408.80 803.40M334.20 881.80L412.60 803.40M338.00 881.80L416.40 803.40M341.80 881.80L420.20 803.40M345.60 881.80L424.00 803.40M349.40 881.80L427.80 803.40M353.20 881.80L431.60 803.40M357.00 881.80L435.40 803.40M360.80 881.80L439.20 803.40M364.60 881.80L443.00 803.40M368.40 881.80L446.80 803.40M372.20 881.80L450.60 803.40M376.00 881.80L454.40 803.40M379.80 881.80L458.20 803.40M383.60 881.80L462.00 803.40M387.40 881.80L465.80 803.40M391.20 881.80L469.60 803.40M395.00 881.80L473.40 803.40M398.80 881.80L477.20 803.40M402.60 881.80L481.00 803.40M406.40 881.80L484.80 803.40M410.20 881.80L488.60 803.40M414.00 881.80L492.40 803.40M417.80 881.80L496.20 803.40M421.60 881.80L500.00 803.40M425.40 881.80L503.80 803.40M429.20 881.80L507.60 803.40M433.00 881.80L511.40 803.40" stroke="#b184d8" stroke-width="1.25" fill="none"/>
<rect x="390.40" y="804.40" width="42.90" height="76.40" fill="none" stroke="#5a1e80" stroke-width="1.2"/>
<line x1="303.50" y1="696.10" x2="303.50" y2="880.80" stroke="#333333" stroke-width="1.2"/>
<line x1="303.50" y1="880.80" x2="455.30" y2="880.80" stroke="#333333" stroke-width="1.2"/>
<text x="346.40" y="896.60" font-size="13.3" text-anchor="middle" fill="#1c1c1c">Healthy</text>
<text x="411.85" y="896.60" font-size="13.3" text-anchor="middle" fill="#1c1c1c">CKD</text>
<circle cx="346.50" cy="709.10" r="3.3" fill="none" stroke="#333333" stroke-width="1.05"/>
<circle cx="346.50" cy="755.70" r="3.3" fill="none" stroke="#333333" stroke-width="1.05"/>
<circle cx="346.50" cy="766.40" r="3.3" fill="none" stroke="#333333" stroke-width="1.05"/>
<circle cx="346.50" cy="770.80" r="3.3" fill="none" stroke="#333333" stroke-width="1.05"/>
<circle cx="346.50" cy="798.10" r="3.3" fill="none" stroke="#333333" stroke-width="1.05"/>
<line x1="346.50" y1="745.50" x2="346.50" y2="774.90" stroke="#333333" stroke-width="1.1"/>
<line x1="335.60" y1="745.50" x2="357.40" y2="745.50" stroke="#333333" stroke-width="1.1"/>
<line x1="335.60" y1="774.90" x2="357.40" y2="774.90" stroke="#333333" stroke-width="1.1"/>
<circle cx="412.50" cy="723.00" r="3.5" fill="#440a5e"/>
<circle cx="412.50" cy="781.10" r="3.5" fill="#440a5e"/>
<circle cx="412.50" cy="786.40" r="3.5" fill="#440a5e"/>
<circle cx="412.50" cy="791.50" r="3.5" fill="#440a5e"/>
<circle cx="412.50" cy="798.50" r="3.5" fill="#440a5e"/>
<circle cx="412.50" cy="803.80" r="3.5" fill="#440a5e"/>
<circle cx="412.50" cy="808.50" r="3.5" fill="#440a5e"/>
<circle cx="412.50" cy="840.00" r="3.5" fill="#440a5e"/>
<circle cx="412.50" cy="845.30" r="3.5" fill="#440a5e"/>
<circle cx="412.50" cy="861.70" r="3.5" fill="#440a5e"/>
<line x1="412.50" y1="791.90" x2="412.50" y2="816.60" stroke="#5a1e80" stroke-width="1.1"/>
<line x1="401.60" y1="791.90" x2="423.40" y2="791.90" stroke="#6e3d92" stroke-width="1.1"/>
<line x1="401.60" y1="816.60" x2="423.40" y2="816.60" stroke="#6e3d92" stroke-width="1.1"/>
<polyline points="346.50,699.70 346.50,690.50 412.50,690.50 412.50,713.40" fill="none" stroke="#555" stroke-width="1.3"/>
<path d="M379.00 675.55L379.00 682.65M375.93 677.33L382.07 680.88M375.93 680.88L382.07 677.33" stroke="#111" stroke-width="1.3" stroke-linecap="round"/>
<circle cx="379.00" cy="679.10" r="1.3" fill="#111"/>
<text x="248.70" y="695.30" font-size="17" font-weight="bold" fill="#000">H</text>
<text transform="translate(271.20,787.60) rotate(-90)" font-size="15.2" text-anchor="middle" fill="#111" stroke="#111" stroke-width="0.3">Q<tspan font-size="11" dy="4.5">max</tspan><tspan dy="-4.5"> (mM/s)</tspan></text>
<line x1="525.20" y1="697.00" x2="531.50" y2="697.00" stroke="#333333" stroke-width="1.1"/>
<text x="523.00" y="701.30" font-size="12" text-anchor="end" fill="#1c1c1c">0.5</text>
<line x1="525.20" y1="733.80" x2="531.50" y2="733.80" stroke="#333333" stroke-width="1.1"/>
<text x="523.00" y="738.10" font-size="12" text-anchor="end" fill="#1c1c1c">0.4</text>
<line x1="525.20" y1="770.60" x2="531.50" y2="770.60" stroke="#333333" stroke-width="1.1"/>
<text x="523.00" y="774.90" font-size="12" text-anchor="end" fill="#1c1c1c">0.3</text>
<line x1="525.20" y1="807.40" x2="531.50" y2="807.40" stroke="#333333" stroke-width="1.1"/>
<text x="523.00" y="811.70" font-size="12" text-anchor="end" fill="#1c1c1c">0.2</text>
<line x1="525.20" y1="844.20" x2="531.50" y2="844.20" stroke="#333333" stroke-width="1.1"/>
<text x="523.00" y="848.50" font-size="12" text-anchor="end" fill="#1c1c1c">0.1</text>
<line x1="525.20" y1="881.00" x2="531.50" y2="881.00" stroke="#333333" stroke-width="1.1"/>
<text x="523.00" y="885.30" font-size="12" text-anchor="end" fill="#1c1c1c">0.0</text>
<rect x="552.60" y="782.30" width="43.70" height="98.70" fill="#fff" stroke="#333333" stroke-width="1.2"/>
<clipPath id="c617"><rect x="617.50" y="818.70" width="43.60" height="62.30"/></clipPath>
<rect x="617.50" y="818.70" width="43.60" height="62.30" fill="#fff"/>
<path clip-path="url(#c617)" d="M546.80 882.00L611.10 817.70M550.60 882.00L614.90 817.70M554.40 882.00L618.70 817.70M558.20 882.00L622.50 817.70M562.00 882.00L626.30 817.70M565.80 882.00L630.10 817.70M569.60 882.00L633.90 817.70M573.40 882.00L637.70 817.70M577.20 882.00L641.50 817.70M581.00 882.00L645.30 817.70M584.80 882.00L649.10 817.70M588.60 882.00L652.90 817.70M592.40 882.00L656.70 817.70M596.20 882.00L660.50 817.70M600.00 882.00L664.30 817.70M603.80 882.00L668.10 817.70M607.60 882.00L671.90 817.70M611.40 882.00L675.70 817.70M615.20 882.00L679.50 817.70M619.00 882.00L683.30 817.70M622.80 882.00L687.10 817.70M626.60 882.00L690.90 817.70M630.40 882.00L694.70 817.70M634.20 882.00L698.50 817.70M638.00 882.00L702.30 817.70M641.80 882.00L706.10 817.70M645.60 882.00L709.90 817.70M649.40 882.00L713.70 817.70M653.20 882.00L717.50 817.70M657.00 882.00L721.30 817.70M660.80 882.00L725.10 817.70" stroke="#b184d8" stroke-width="1.25" fill="none"/>
<rect x="617.50" y="818.70" width="43.60" height="62.30" fill="none" stroke="#5a1e80" stroke-width="1.2"/>
<line x1="531.50" y1="696.50" x2="531.50" y2="881.00" stroke="#333333" stroke-width="1.2"/>
<line x1="531.50" y1="881.00" x2="683.30" y2="881.00" stroke="#333333" stroke-width="1.2"/>
<text x="573.65" y="896.80" font-size="13.3" text-anchor="middle" fill="#1c1c1c">Healthy</text>
<text x="639.30" y="896.80" font-size="13.3" text-anchor="middle" fill="#1c1c1c">CKD</text>
<circle cx="574.50" cy="735.80" r="3.3" fill="none" stroke="#333333" stroke-width="1.05"/>
<circle cx="574.50" cy="786.60" r="3.3" fill="none" stroke="#333333" stroke-width="1.05"/>
<circle cx="574.50" cy="788.40" r="3.3" fill="none" stroke="#333333" stroke-width="1.05"/>
<circle cx="574.50" cy="790.70" r="3.3" fill="none" stroke="#333333" stroke-width="1.05"/>
<circle cx="574.50" cy="810.80" r="3.3" fill="none" stroke="#333333" stroke-width="1.05"/>
<line x1="574.50" y1="769.70" x2="574.50" y2="794.50" stroke="#333333" stroke-width="1.1"/>
<line x1="563.60" y1="769.70" x2="585.40" y2="769.70" stroke="#333333" stroke-width="1.1"/>
<line x1="563.60" y1="794.50" x2="585.40" y2="794.50" stroke="#333333" stroke-width="1.1"/>
<circle cx="639.50" cy="746.40" r="3.5" fill="#440a5e"/>
<circle cx="639.50" cy="798.00" r="3.5" fill="#440a5e"/>
<circle cx="639.50" cy="804.00" r="3.5" fill="#440a5e"/>
<circle cx="639.50" cy="810.60" r="3.5" fill="#440a5e"/>
<circle cx="639.50" cy="817.30" r="3.5" fill="#440a5e"/>
<circle cx="639.50" cy="825.80" r="3.5" fill="#440a5e"/>
<circle cx="639.50" cy="848.80" r="3.5" fill="#440a5e"/>
<circle cx="639.50" cy="857.80" r="3.5" fill="#440a5e"/>
<circle cx="639.50" cy="866.30" r="3.5" fill="#440a5e"/>
<line x1="639.50" y1="807.50" x2="639.50" y2="829.60" stroke="#5a1e80" stroke-width="1.1"/>
<line x1="628.60" y1="807.50" x2="650.40" y2="807.50" stroke="#6e3d92" stroke-width="1.1"/>
<line x1="628.60" y1="829.60" x2="650.40" y2="829.60" stroke="#6e3d92" stroke-width="1.1"/>
<polyline points="574.50,726.30 574.50,717.70 639.50,717.70 639.50,737.00" fill="none" stroke="#555" stroke-width="1.3"/>
<path d="M607.30 702.35L607.30 709.45M604.23 704.12L610.37 707.67M604.23 707.67L610.37 704.12" stroke="#111" stroke-width="1.3" stroke-linecap="round"/>
<circle cx="607.30" cy="705.90" r="1.3" fill="#111"/>
<text x="485.70" y="695.30" font-size="17" font-weight="bold" fill="#000">I</text>
<text transform="translate(498.20,789.20) rotate(-90)" font-size="15.2" text-anchor="middle" fill="#111" stroke="#111" stroke-width="0.3">V<tspan font-size="11" dy="4.5">iPCr</tspan><tspan dy="-4.5"> (mM/s)</tspan></text>
</svg>
</body></html>
